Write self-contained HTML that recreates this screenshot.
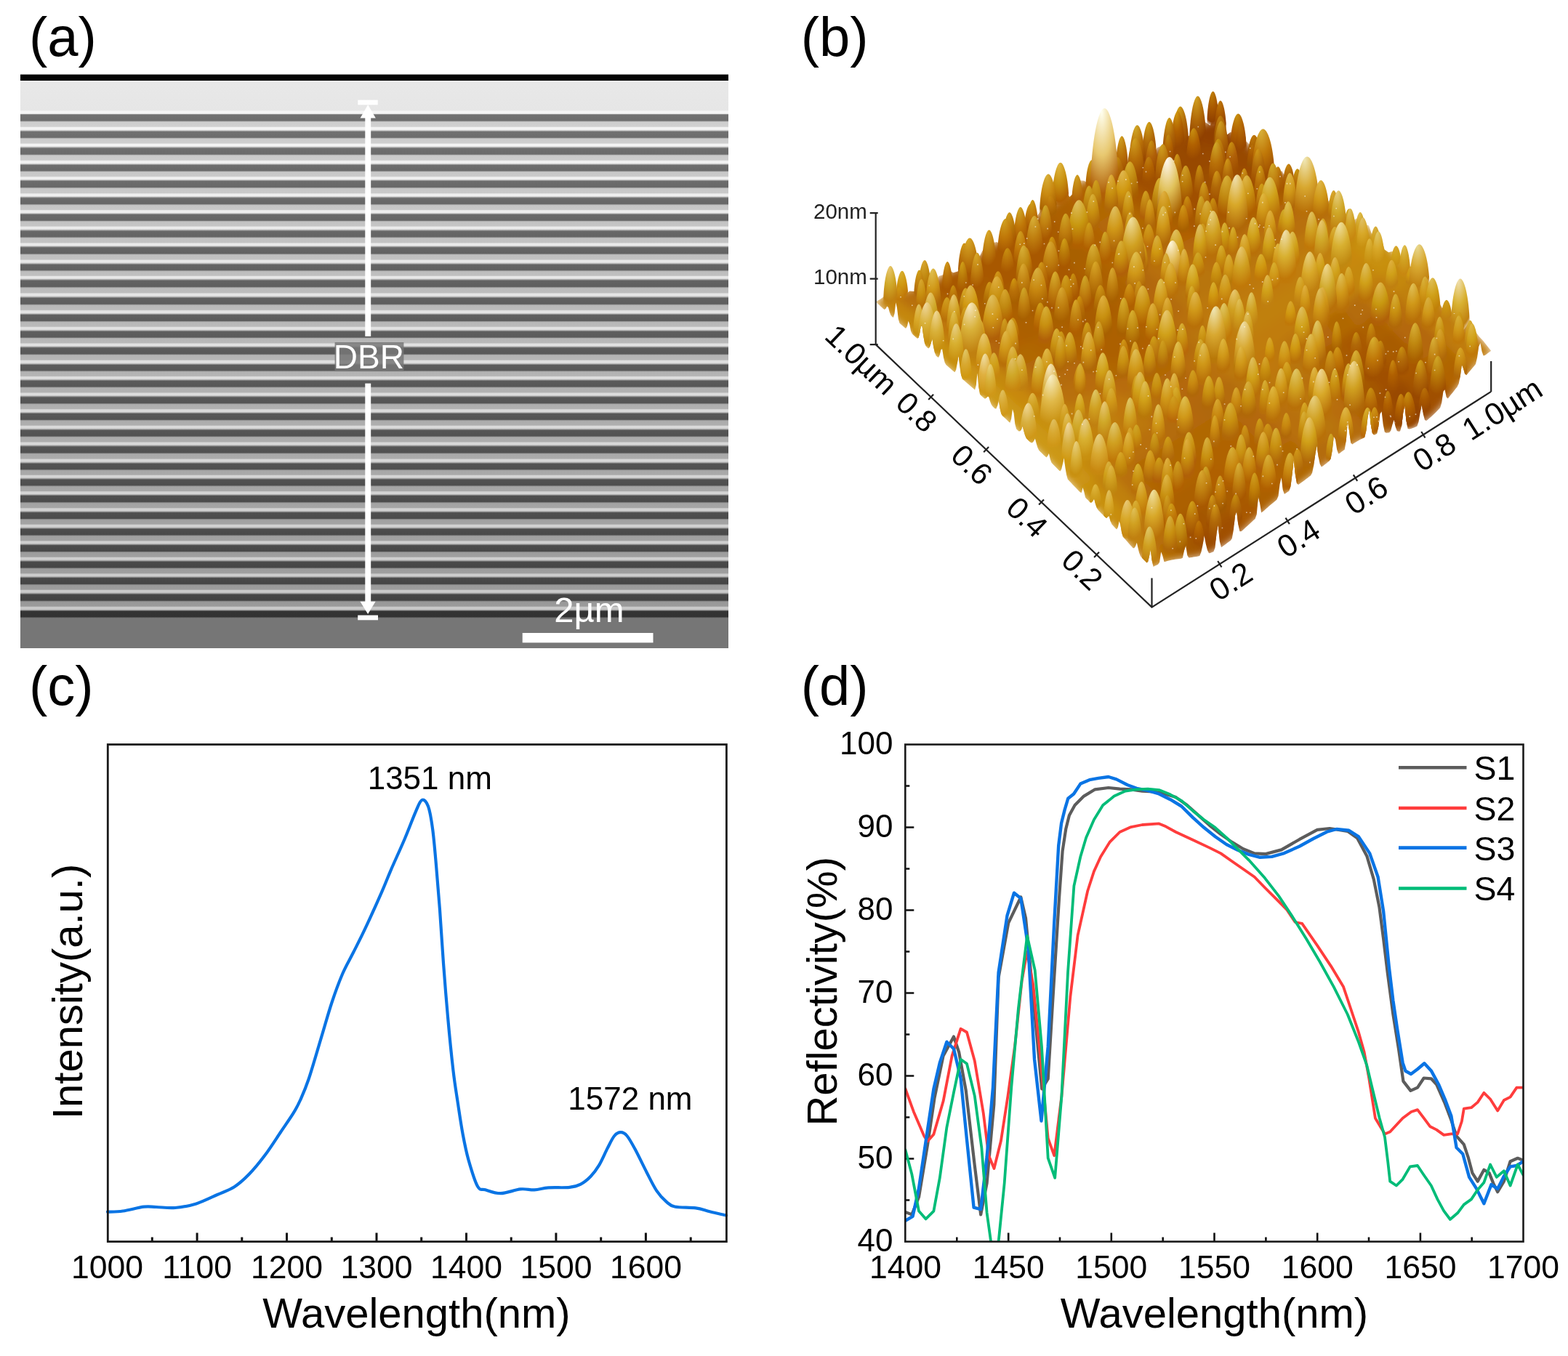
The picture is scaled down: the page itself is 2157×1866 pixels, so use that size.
<!DOCTYPE html>
<html><head><meta charset="utf-8"><title>Figure</title>
<style>html,body{margin:0;padding:0;background:#fff;}svg{display:block;}</style>
</head><body>
<svg xmlns="http://www.w3.org/2000/svg" width="2157" height="1866" viewBox="0 0 2157 1866">
<rect width="2157" height="1866" fill="#fff"/>
<defs>
<linearGradient id="capg" x1="0" y1="0" x2="0" y2="1">
<stop offset="0" stop-color="#f2f2f2"/><stop offset="0.06" stop-color="#e8e8e8"/><stop offset="0.86" stop-color="#e6e6e6"/><stop offset="0.9" stop-color="#f6f6f6"/><stop offset="1" stop-color="#f2f2f2"/>
</linearGradient>
<clipPath id="afmclip"><path d="M1204.7,415.3 1206.4,416.9 1208.2,418.5 1209.9,420.1 1211.6,421.7 1213.3,423.3 1215.1,424.9 1216.8,426 1218.5,424.8 1220.2,421.5 1222,423 1223.7,429.4 1225.4,433.7 1227.1,435.7 1228.9,437.1 1230.6,431.2 1232.3,416.2 1234,423.8 1235.8,439.1 1237.5,444.7 1239.2,446.2 1241,447.7 1242.7,449.2 1244.4,450.7 1246.1,451.9 1247.9,449.1 1249.6,441.7 1251.3,446.5 1253,455.5 1254.8,459.6 1256.5,461.1 1258.2,462.6 1259.9,464.2 1261.7,465.7 1263.4,465 1265.1,459 1266.8,448.6 1268.6,448.9 1270.3,462.8 1272,472.3 1273.8,476.6 1275.5,478.2 1277.2,479.5 1278.9,477.5 1280.7,472.2 1282.4,465.8 1284.1,476.9 1285.8,484.9 1287.6,489.5 1289.3,491.1 1291,492 1292.7,488.4 1294.5,480.7 1296.2,480.3 1297.9,491.7 1299.7,499.1 1301.4,501.9 1303.1,503.5 1304.8,505 1306.6,506.5 1308.3,508 1310,509.5 1311.7,511 1313.5,512.3 1315.2,508.7 1316.9,499.7 1318.6,489.3 1320.4,505.2 1322.1,516.1 1323.8,521.4 1325.5,522.9 1327.3,524.4 1329,525.9 1330.7,527.4 1332.5,528.9 1334.2,530.4 1335.9,531.9 1337.6,533.5 1339.4,535 1341.1,536.4 1342.8,529.9 1344.5,513.5 1346.3,532.3 1348,542.5 1349.7,544.4 1351.4,546 1353.2,547.6 1354.9,548.7 1356.6,548.1 1358.3,546 1360.1,545.8 1361.8,551.8 1363.5,556.3 1365.3,559 1367,560.7 1368.7,562.3 1370.4,562.5 1372.2,558.1 1373.9,551.2 1375.6,562.3 1377.3,569.5 1379.1,572.2 1380.8,573.8 1382.5,575.5 1384.2,577.1 1386,578.8 1387.7,580.4 1389.4,581.8 1391.1,576.4 1392.9,563.1 1394.6,568.5 1396.3,583.5 1398.1,590.3 1399.8,591.9 1401.5,593.5 1403.2,593.3 1405,590.9 1406.7,586.6 1408.4,593.2 1410.1,599.3 1411.9,603.2 1413.6,605.1 1415.3,606.7 1417,608.3 1418.8,609.6 1420.5,609 1422.2,606.7 1423.9,603.6 1425.7,610.6 1427.4,616 1429.1,619.6 1430.9,621.5 1432.6,623.1 1434.3,624.8 1436,626.4 1437.8,628.1 1439.5,629.4 1441.2,627.5 1442.9,624 1444.7,631.7 1446.4,636.5 1448.1,638.4 1449.8,640.2 1451.6,641.9 1453.3,643.7 1455,645.4 1456.7,647.2 1458.5,648.5 1460.2,645.5 1461.9,638.4 1463.7,629.5 1465.4,643.4 1467.1,653.5 1468.8,659.5 1470.6,661.5 1472.3,663.3 1474,665.1 1475.7,666.9 1477.5,668.7 1479.2,670.5 1480.9,672.3 1482.6,674.1 1484.4,675.9 1486.1,677.6 1487.8,677.9 1489.5,671 1491.3,676.8 1493,684.5 1494.7,686.4 1496.5,688.1 1498.2,689.9 1499.9,691.5 1501.6,691.4 1503.4,689.4 1505.1,686.3 1506.8,693.1 1508.5,698.3 1510.3,701.6 1512,703.3 1513.7,705 1515.4,706.7 1517.2,708.5 1518.9,710.3 1520.6,712.1 1522.4,712.9 1524.1,710.8 1525.8,710.3 1527.5,717.1 1529.3,721.3 1531,723.2 1532.7,725.1 1534.4,727 1536.2,728.6 1537.9,725.5 1539.6,717.3 1541.3,721.9 1543.1,732.9 1544.8,738.7 1546.5,740.6 1548.2,742.6 1550,744.5 1551.7,746.5 1553.4,748.4 1555.2,750.4 1556.9,752.3 1558.6,754.2 1560.3,754.2 1562.1,751.6 1563.8,746.7 1565.5,754.2 1567.2,761 1569,765.4 1570.7,767.4 1572.4,769.2 1574.1,771 1575.9,772.8 1577.6,774.5 1579.3,772.8 1581,765.5 1582.8,756.3 1584.5,770.8 1586.6,780 1588.7,778.8 1590.9,777.7 1593,776.7 1595.1,773.7 1597.2,759.5 1599.3,764.7 1601.5,773.2 1603.6,772.7 1605.7,772.1 1607.8,771.6 1610,771.1 1612.1,770.6 1614.2,770.2 1616.3,769.8 1618.4,769.5 1620.6,769.2 1622.7,768.9 1624.8,768.7 1626.9,767.8 1629,757.8 1631.2,750.5 1633.3,764.2 1635.4,767.4 1637.5,767.2 1639.7,766.9 1641.8,766.6 1643.9,766.3 1646,766 1648.1,765.6 1650.3,764.9 1652.4,759.8 1654.5,750.3 1656.6,736.9 1658.7,748.2 1660.9,756.9 1663,761.2 1665.1,761 1667.2,760.1 1669.4,759.2 1671.5,753.8 1673.6,733.5 1675.7,721.9 1677.8,744.7 1680,753.2 1682.1,751.7 1684.2,750.3 1686.3,748.7 1688.4,747.1 1690.6,745.5 1692.7,743.9 1694.8,741 1696.9,729.3 1699.1,709.2 1701.2,704 1703.3,721.7 1705.4,731.2 1707.5,731.3 1709.7,729.4 1711.8,727.5 1713.9,725.6 1716,723.7 1718.1,721.7 1720.3,719.7 1722.4,717.8 1724.5,715.8 1726.6,713.9 1728.8,707.8 1730.9,682.9 1733,692.1 1735.1,705.6 1737.2,704.1 1739.4,702.2 1741.5,700.3 1743.6,698.4 1745.7,696.6 1747.8,694.8 1750,693 1752.1,691.2 1754.2,689.5 1756.3,687.8 1758.5,682.7 1760.6,665.9 1762.7,657.3 1764.8,674.3 1766.9,679.9 1769.1,678.5 1771.2,677.1 1773.3,675.7 1775.4,669.5 1777.5,653.2 1779.7,632.1 1781.8,652.8 1783.9,665 1786,667 1788.2,665.5 1790.3,664 1792.4,662.4 1794.5,660.9 1796.6,659.3 1798.8,657.7 1800.9,656.1 1803,654.4 1805.1,650.8 1807.2,640.6 1809.4,625 1811.5,613 1813.6,628.3 1815.7,638.4 1817.8,642.6 1820,641.2 1822.1,639.6 1824.2,637.9 1826.3,636.3 1828.5,634.6 1830.6,631.6 1832.7,620.1 1834.8,601 1836.9,604.5 1839.1,618.6 1841.2,624.6 1843.3,623.4 1845.4,621.8 1847.5,620.3 1849.7,618.7 1851.8,606.3 1853.9,579.8 1856,592.7 1858.2,609.5 1860.3,611.5 1862.4,610.1 1864.5,608.7 1866.6,607.4 1868.8,606.2 1870.9,605.1 1873,604.1 1875.1,603.1 1877.2,602 1879.4,592.7 1881.5,574.4 1883.6,563.5 1885.7,584.1 1887.9,596.2 1890,598.5 1892.1,598 1894.2,596.7 1896.3,587.1 1898.5,569.5 1900.6,566.2 1902.7,584.2 1904.8,594.4 1906.9,595.8 1909.1,595.6 1911.2,595.3 1913.3,592.4 1915.4,584.5 1917.6,577.7 1919.7,587.6 1921.8,593.1 1923.9,593.7 1926,593.4 1928.2,586 1930.3,567.3 1932.4,557.8 1934.5,579.1 1936.6,590.1 1938.8,590.6 1940.9,589.9 1943,589.2 1945.1,588.4 1947.3,587.5 1949.4,586.5 1951.5,580.6 1953.6,568.5 1955.7,556.9 1957.9,570.3 1960,578 1962.1,579 1964.2,577.4 1966.3,575.6 1968.5,573.8 1970.6,571.8 1972.7,569.8 1974.8,567.7 1977,565.5 1979.1,563.2 1981.2,560.9 1983.3,553.9 1985.4,538.6 1987.6,536.1 1989.7,546.4 1991.8,548.4 1993.9,545.8 1996,543.1 1998.2,540.5 2000.3,537.8 2002.4,535.1 2004.5,532.4 2006.7,528.1 2008.8,517.7 2010.9,501.8 2013,507 2015.1,514.6 2017.3,516.3 2019.4,513.7 2021.5,511.2 2023.6,508.7 2025.7,506.2 2027.9,503.8 2030,500.9 2032.1,492 2034.2,477.3 2036.4,471.9 2038.5,483.5 2040.6,489.5 2042.7,489.1 2044.8,487.4 2047,485.7 2049.1,484.2 2051.2,482.8 2045.8,475.9 2040.3,469.1 2034.9,463.2 2029.5,456.1 2024.1,454 2018.6,446.4 2013.2,454.4 2007.8,443.1 2002.4,431.2 1996.9,430.4 1991.5,421.8 1986.1,428.1 1980.7,417.9 1975.2,416 1969.8,406.4 1964.4,400.4 1959,402.8 1953.5,394 1948.1,387 1942.7,371.7 1937.3,367.8 1931.8,370.4 1926.4,355.1 1921,358.6 1915.6,345.8 1910.1,347.2 1904.7,343.5 1899.3,325.6 1893.9,330.3 1888.4,325.7 1883,310.6 1877.6,308.5 1872.2,313.5 1866.7,300.4 1861.3,303.3 1855.9,298 1850.4,301.6 1845,287.4 1839.6,287.3 1834.2,279.3 1828.7,275.9 1823.3,279.7 1817.9,273.9 1812.5,272.5 1807,269.1 1801.6,266.9 1796.2,260.4 1790.8,253.2 1785.3,259.1 1779.9,246.6 1774.5,248.6 1769.1,246 1763.6,235.3 1758.2,236.4 1752.8,234.6 1747.4,227.3 1741.9,219.1 1736.5,223.7 1731.1,205.8 1725.7,215.1 1720.2,200.3 1714.8,194.7 1709.4,202.4 1704,187.1 1698.5,188.9 1693.1,181.6 1687.7,185.4 1682.3,180.2 1676.8,173.5 1671.4,157.2 1664.7,172.4 1658.1,168.2 1651.4,169.6 1644.7,173.1 1638.1,185.4 1631.4,188.9 1624.7,190 1618.1,189.9 1611.4,203.2 1604.7,197.5 1598.1,200.6 1591.4,203.5 1584.7,219.4 1578.1,210.4 1571.4,226.7 1564.7,226.5 1558.1,225.5 1551.4,223.6 1544.7,234.3 1538.1,227.9 1531.4,235.4 1524.7,240.8 1518.1,242.9 1511.4,247.2 1504.7,251.2 1498.1,253.1 1491.4,248.7 1484.7,248.2 1478.1,264.6 1471.4,270.9 1464.7,262.1 1458.1,273.6 1451.4,280.5 1444.7,288.2 1438,288.2 1431.4,290 1424.7,300.6 1418,306.1 1411.4,316.4 1404.7,308.7 1398,326.1 1391.4,323.8 1384.7,323.1 1378,337.6 1371.4,333.1 1364.7,334.2 1358,343 1351.4,345 1344.7,359.1 1338,358.6 1331.4,367 1324.7,361.1 1318,373.3 1311.4,375.3 1304.7,371.6 1298,378 1291.4,380 1284.7,390.7 1278,392.8 1271.4,391.3 1264.7,396.7 1258,400.9 1251.4,400.6 1244.7,405.6 1238,403.8 1231.4,396.6 1224.7,399.1 1218,406.5 1211.4,411.4Z"/></clipPath>
<clipPath id="afmclip2"><path d="M1204.7,415.3 1206.4,416.9 1208.2,418.5 1209.9,420.1 1211.6,421.7 1213.3,423.3 1215.1,424.9 1216.8,426 1218.5,424.8 1220.2,421.5 1222,423 1223.7,429.4 1225.4,433.7 1227.1,435.7 1228.9,437.1 1230.6,431.2 1232.3,416.2 1234,423.8 1235.8,439.1 1237.5,444.7 1239.2,446.2 1241,447.7 1242.7,449.2 1244.4,450.7 1246.1,451.9 1247.9,449.1 1249.6,441.7 1251.3,446.5 1253,455.5 1254.8,459.6 1256.5,461.1 1258.2,462.6 1259.9,464.2 1261.7,465.7 1263.4,465 1265.1,459 1266.8,448.6 1268.6,448.9 1270.3,462.8 1272,472.3 1273.8,476.6 1275.5,478.2 1277.2,479.5 1278.9,477.5 1280.7,472.2 1282.4,465.8 1284.1,476.9 1285.8,484.9 1287.6,489.5 1289.3,491.1 1291,492 1292.7,488.4 1294.5,480.7 1296.2,480.3 1297.9,491.7 1299.7,499.1 1301.4,501.9 1303.1,503.5 1304.8,505 1306.6,506.5 1308.3,508 1310,509.5 1311.7,511 1313.5,512.3 1315.2,508.7 1316.9,499.7 1318.6,489.3 1320.4,505.2 1322.1,516.1 1323.8,521.4 1325.5,522.9 1327.3,524.4 1329,525.9 1330.7,527.4 1332.5,528.9 1334.2,530.4 1335.9,531.9 1337.6,533.5 1339.4,535 1341.1,536.4 1342.8,529.9 1344.5,513.5 1346.3,532.3 1348,542.5 1349.7,544.4 1351.4,546 1353.2,547.6 1354.9,548.7 1356.6,548.1 1358.3,546 1360.1,545.8 1361.8,551.8 1363.5,556.3 1365.3,559 1367,560.7 1368.7,562.3 1370.4,562.5 1372.2,558.1 1373.9,551.2 1375.6,562.3 1377.3,569.5 1379.1,572.2 1380.8,573.8 1382.5,575.5 1384.2,577.1 1386,578.8 1387.7,580.4 1389.4,581.8 1391.1,576.4 1392.9,563.1 1394.6,568.5 1396.3,583.5 1398.1,590.3 1399.8,591.9 1401.5,593.5 1403.2,593.3 1405,590.9 1406.7,586.6 1408.4,593.2 1410.1,599.3 1411.9,603.2 1413.6,605.1 1415.3,606.7 1417,608.3 1418.8,609.6 1420.5,609 1422.2,606.7 1423.9,603.6 1425.7,610.6 1427.4,616 1429.1,619.6 1430.9,621.5 1432.6,623.1 1434.3,624.8 1436,626.4 1437.8,628.1 1439.5,629.4 1441.2,627.5 1442.9,624 1444.7,631.7 1446.4,636.5 1448.1,638.4 1449.8,640.2 1451.6,641.9 1453.3,643.7 1455,645.4 1456.7,647.2 1458.5,648.5 1460.2,645.5 1461.9,638.4 1463.7,629.5 1465.4,643.4 1467.1,653.5 1468.8,659.5 1470.6,661.5 1472.3,663.3 1474,665.1 1475.7,666.9 1477.5,668.7 1479.2,670.5 1480.9,672.3 1482.6,674.1 1484.4,675.9 1486.1,677.6 1487.8,677.9 1489.5,671 1491.3,676.8 1493,684.5 1494.7,686.4 1496.5,688.1 1498.2,689.9 1499.9,691.5 1501.6,691.4 1503.4,689.4 1505.1,686.3 1506.8,693.1 1508.5,698.3 1510.3,701.6 1512,703.3 1513.7,705 1515.4,706.7 1517.2,708.5 1518.9,710.3 1520.6,712.1 1522.4,712.9 1524.1,710.8 1525.8,710.3 1527.5,717.1 1529.3,721.3 1531,723.2 1532.7,725.1 1534.4,727 1536.2,728.6 1537.9,725.5 1539.6,717.3 1541.3,721.9 1543.1,732.9 1544.8,738.7 1546.5,740.6 1548.2,742.6 1550,744.5 1551.7,746.5 1553.4,748.4 1555.2,750.4 1556.9,752.3 1558.6,754.2 1560.3,754.2 1562.1,751.6 1563.8,746.7 1565.5,754.2 1567.2,761 1569,765.4 1570.7,767.4 1572.4,769.2 1574.1,771 1575.9,772.8 1577.6,774.5 1579.3,772.8 1581,765.5 1582.8,756.3 1584.5,770.8 1586.6,780 1588.7,778.8 1590.9,777.7 1593,776.7 1595.1,773.7 1597.2,759.5 1599.3,764.7 1601.5,773.2 1603.6,772.7 1605.7,772.1 1607.8,771.6 1610,771.1 1612.1,770.6 1614.2,770.2 1616.3,769.8 1618.4,769.5 1620.6,769.2 1622.7,768.9 1624.8,768.7 1626.9,767.8 1629,757.8 1631.2,750.5 1633.3,764.2 1635.4,767.4 1637.5,767.2 1639.7,766.9 1641.8,766.6 1643.9,766.3 1646,766 1648.1,765.6 1650.3,764.9 1652.4,759.8 1654.5,750.3 1656.6,736.9 1658.7,748.2 1660.9,756.9 1663,761.2 1665.1,761 1667.2,760.1 1669.4,759.2 1671.5,753.8 1673.6,733.5 1675.7,721.9 1677.8,744.7 1680,753.2 1682.1,751.7 1684.2,750.3 1686.3,748.7 1688.4,747.1 1690.6,745.5 1692.7,743.9 1694.8,741 1696.9,729.3 1699.1,709.2 1701.2,704 1703.3,721.7 1705.4,731.2 1707.5,731.3 1709.7,729.4 1711.8,727.5 1713.9,725.6 1716,723.7 1718.1,721.7 1720.3,719.7 1722.4,717.8 1724.5,715.8 1726.6,713.9 1728.8,707.8 1730.9,682.9 1733,692.1 1735.1,705.6 1737.2,704.1 1739.4,702.2 1741.5,700.3 1743.6,698.4 1745.7,696.6 1747.8,694.8 1750,693 1752.1,691.2 1754.2,689.5 1756.3,687.8 1758.5,682.7 1760.6,665.9 1762.7,657.3 1764.8,674.3 1766.9,679.9 1769.1,678.5 1771.2,677.1 1773.3,675.7 1775.4,669.5 1777.5,653.2 1779.7,632.1 1781.8,652.8 1783.9,665 1786,667 1788.2,665.5 1790.3,664 1792.4,662.4 1794.5,660.9 1796.6,659.3 1798.8,657.7 1800.9,656.1 1803,654.4 1805.1,650.8 1807.2,640.6 1809.4,625 1811.5,613 1813.6,628.3 1815.7,638.4 1817.8,642.6 1820,641.2 1822.1,639.6 1824.2,637.9 1826.3,636.3 1828.5,634.6 1830.6,631.6 1832.7,620.1 1834.8,601 1836.9,604.5 1839.1,618.6 1841.2,624.6 1843.3,623.4 1845.4,621.8 1847.5,620.3 1849.7,618.7 1851.8,606.3 1853.9,579.8 1856,592.7 1858.2,609.5 1860.3,611.5 1862.4,610.1 1864.5,608.7 1866.6,607.4 1868.8,606.2 1870.9,605.1 1873,604.1 1875.1,603.1 1877.2,602 1879.4,592.7 1881.5,574.4 1883.6,563.5 1885.7,584.1 1887.9,596.2 1890,598.5 1892.1,598 1894.2,596.7 1896.3,587.1 1898.5,569.5 1900.6,566.2 1902.7,584.2 1904.8,594.4 1906.9,595.8 1909.1,595.6 1911.2,595.3 1913.3,592.4 1915.4,584.5 1917.6,577.7 1919.7,587.6 1921.8,593.1 1923.9,593.7 1926,593.4 1928.2,586 1930.3,567.3 1932.4,557.8 1934.5,579.1 1936.6,590.1 1938.8,590.6 1940.9,589.9 1943,589.2 1945.1,588.4 1947.3,587.5 1949.4,586.5 1951.5,580.6 1953.6,568.5 1955.7,556.9 1957.9,570.3 1960,578 1962.1,579 1964.2,577.4 1966.3,575.6 1968.5,573.8 1970.6,571.8 1972.7,569.8 1974.8,567.7 1977,565.5 1979.1,563.2 1981.2,560.9 1983.3,553.9 1985.4,538.6 1987.6,536.1 1989.7,546.4 1991.8,548.4 1993.9,545.8 1996,543.1 1998.2,540.5 2000.3,537.8 2002.4,535.1 2004.5,532.4 2006.7,528.1 2008.8,517.7 2010.9,501.8 2013,507 2015.1,514.6 2017.3,516.3 2019.4,513.7 2021.5,511.2 2023.6,508.7 2025.7,506.2 2027.9,503.8 2030,500.9 2032.1,492 2034.2,477.3 2036.4,471.9 2038.5,483.5 2040.6,489.5 2042.7,489.1 2044.8,487.4 2047,485.7 2049.1,484.2 2051.2,482.8 2110,482.8 2110,60 1190,60 1190,415.3Z"/></clipPath>
<filter id="fblur" x="-5%" y="-5%" width="110%" height="110%"><feGaussianBlur stdDeviation="6"/></filter>
<radialGradient id="g0" cx=".42" cy=".08" r="1" fx=".4" fy=".04"><stop offset="0" stop-color="#e0c868"/><stop offset=".45" stop-color="#d0a020"/><stop offset=".84" stop-color="#c08010"/><stop offset="1" stop-color="#c08010" stop-opacity="0"/></radialGradient>
<radialGradient id="g1" cx=".42" cy=".08" r="1" fx=".4" fy=".04"><stop offset="0" stop-color="#d8b040"/><stop offset=".45" stop-color="#c89010"/><stop offset=".84" stop-color="#b06808"/><stop offset="1" stop-color="#b06808" stop-opacity="0"/></radialGradient>
<radialGradient id="g2" cx=".42" cy=".08" r="1" fx=".4" fy=".04"><stop offset="0" stop-color="#d8b030"/><stop offset=".45" stop-color="#c08810"/><stop offset=".84" stop-color="#a86000"/><stop offset="1" stop-color="#a86000" stop-opacity="0"/></radialGradient>
<radialGradient id="g3" cx=".42" cy=".08" r="1" fx=".4" fy=".04"><stop offset="0" stop-color="#c07808"/><stop offset=".45" stop-color="#b06000"/><stop offset=".84" stop-color="#a05000"/><stop offset="1" stop-color="#a05000" stop-opacity="0"/></radialGradient>
<radialGradient id="g4" cx=".42" cy=".08" r="1" fx=".4" fy=".04"><stop offset="0" stop-color="#d09818"/><stop offset=".45" stop-color="#b06808"/><stop offset=".84" stop-color="#a05000"/><stop offset="1" stop-color="#a05000" stop-opacity="0"/></radialGradient>
<radialGradient id="g5" cx=".42" cy=".08" r="1" fx=".4" fy=".04"><stop offset="0" stop-color="#c89010"/><stop offset=".45" stop-color="#b06808"/><stop offset=".84" stop-color="#a05000"/><stop offset="1" stop-color="#a05000" stop-opacity="0"/></radialGradient>
<radialGradient id="g6" cx=".42" cy=".08" r="1" fx=".4" fy=".04"><stop offset="0" stop-color="#d0a020"/><stop offset=".45" stop-color="#c08008"/><stop offset=".84" stop-color="#a86000"/><stop offset="1" stop-color="#a86000" stop-opacity="0"/></radialGradient>
<radialGradient id="g7" cx=".42" cy=".08" r="1" fx=".4" fy=".04"><stop offset="0" stop-color="#d8b038"/><stop offset=".45" stop-color="#c88810"/><stop offset=".84" stop-color="#b06000"/><stop offset="1" stop-color="#b06000" stop-opacity="0"/></radialGradient>
<radialGradient id="g8" cx=".42" cy=".08" r="1" fx=".4" fy=".04"><stop offset="0" stop-color="#d09818"/><stop offset=".45" stop-color="#c08010"/><stop offset=".84" stop-color="#b06808"/><stop offset="1" stop-color="#b06808" stop-opacity="0"/></radialGradient>
<radialGradient id="g9" cx=".42" cy=".08" r="1" fx=".4" fy=".04"><stop offset="0" stop-color="#e8c870"/><stop offset=".45" stop-color="#d0a018"/><stop offset=".84" stop-color="#b06808"/><stop offset="1" stop-color="#b06808" stop-opacity="0"/></radialGradient>
<radialGradient id="g10" cx=".42" cy=".08" r="1" fx=".4" fy=".04"><stop offset="0" stop-color="#d0a828"/><stop offset=".45" stop-color="#c89010"/><stop offset=".84" stop-color="#b87008"/><stop offset="1" stop-color="#b87008" stop-opacity="0"/></radialGradient>
<radialGradient id="g11" cx=".42" cy=".08" r="1" fx=".4" fy=".04"><stop offset="0" stop-color="#e0b848"/><stop offset=".45" stop-color="#d09818"/><stop offset=".84" stop-color="#b87008"/><stop offset="1" stop-color="#b87008" stop-opacity="0"/></radialGradient>
<radialGradient id="g12" cx=".42" cy=".08" r="1" fx=".4" fy=".04"><stop offset="0" stop-color="#d8b030"/><stop offset=".45" stop-color="#c89010"/><stop offset=".84" stop-color="#b86808"/><stop offset="1" stop-color="#b86808" stop-opacity="0"/></radialGradient>
<radialGradient id="g13" cx=".42" cy=".08" r="1" fx=".4" fy=".04"><stop offset="0" stop-color="#d09818"/><stop offset=".45" stop-color="#c07808"/><stop offset=".84" stop-color="#b06000"/><stop offset="1" stop-color="#b06000" stop-opacity="0"/></radialGradient>
<radialGradient id="g14" cx=".42" cy=".08" r="1" fx=".4" fy=".04"><stop offset="0" stop-color="#c88810"/><stop offset=".45" stop-color="#b06000"/><stop offset=".84" stop-color="#984800"/><stop offset="1" stop-color="#984800" stop-opacity="0"/></radialGradient>
<radialGradient id="g15" cx=".42" cy=".08" r="1" fx=".4" fy=".04"><stop offset="0" stop-color="#c89010"/><stop offset=".45" stop-color="#b06000"/><stop offset=".84" stop-color="#984800"/><stop offset="1" stop-color="#984800" stop-opacity="0"/></radialGradient>
<radialGradient id="g16" cx=".42" cy=".08" r="1" fx=".4" fy=".04"><stop offset="0" stop-color="#b87008"/><stop offset=".45" stop-color="#a85800"/><stop offset=".84" stop-color="#984800"/><stop offset="1" stop-color="#984800" stop-opacity="0"/></radialGradient>
<radialGradient id="g17" cx=".42" cy=".08" r="1" fx=".4" fy=".04"><stop offset="0" stop-color="#d0a828"/><stop offset=".45" stop-color="#b87808"/><stop offset=".84" stop-color="#a05000"/><stop offset="1" stop-color="#a05000" stop-opacity="0"/></radialGradient>
<radialGradient id="g18" cx=".42" cy=".08" r="1" fx=".4" fy=".04"><stop offset="0" stop-color="#d8a828"/><stop offset=".45" stop-color="#c88810"/><stop offset=".84" stop-color="#b06808"/><stop offset="1" stop-color="#b06808" stop-opacity="0"/></radialGradient>
<radialGradient id="g19" cx=".42" cy=".08" r="1" fx=".4" fy=".04"><stop offset="0" stop-color="#e0b848"/><stop offset=".45" stop-color="#d0a018"/><stop offset=".84" stop-color="#c07808"/><stop offset="1" stop-color="#c07808" stop-opacity="0"/></radialGradient>
<radialGradient id="g20" cx=".42" cy=".08" r="1" fx=".4" fy=".04"><stop offset="0" stop-color="#e0c058"/><stop offset=".45" stop-color="#d0a020"/><stop offset=".84" stop-color="#c08010"/><stop offset="1" stop-color="#c08010" stop-opacity="0"/></radialGradient>
<radialGradient id="g21" cx=".42" cy=".08" r="1" fx=".4" fy=".04"><stop offset="0" stop-color="#f0e0a0"/><stop offset=".45" stop-color="#d8a828"/><stop offset=".84" stop-color="#b87008"/><stop offset="1" stop-color="#b87008" stop-opacity="0"/></radialGradient>
<radialGradient id="g22" cx=".42" cy=".08" r="1" fx=".4" fy=".04"><stop offset="0" stop-color="#d0a018"/><stop offset=".45" stop-color="#c07808"/><stop offset=".84" stop-color="#b06000"/><stop offset="1" stop-color="#b06000" stop-opacity="0"/></radialGradient>
<radialGradient id="g23" cx=".42" cy=".08" r="1" fx=".4" fy=".04"><stop offset="0" stop-color="#d0a018"/><stop offset=".45" stop-color="#b87008"/><stop offset=".84" stop-color="#a05000"/><stop offset="1" stop-color="#a05000" stop-opacity="0"/></radialGradient>
<radialGradient id="g24" cx=".42" cy=".08" r="1" fx=".4" fy=".04"><stop offset="0" stop-color="#d0a028"/><stop offset=".45" stop-color="#c07808"/><stop offset=".84" stop-color="#a05800"/><stop offset="1" stop-color="#a05800" stop-opacity="0"/></radialGradient>
<radialGradient id="g25" cx=".42" cy=".08" r="1" fx=".4" fy=".04"><stop offset="0" stop-color="#d8b038"/><stop offset=".45" stop-color="#c08010"/><stop offset=".84" stop-color="#a85800"/><stop offset="1" stop-color="#a85800" stop-opacity="0"/></radialGradient>
<radialGradient id="g26" cx=".42" cy=".08" r="1" fx=".4" fy=".04"><stop offset="0" stop-color="#e0b040"/><stop offset=".45" stop-color="#c89010"/><stop offset=".84" stop-color="#b06008"/><stop offset="1" stop-color="#b06008" stop-opacity="0"/></radialGradient>
<radialGradient id="g27" cx=".42" cy=".08" r="1" fx=".4" fy=".04"><stop offset="0" stop-color="#d8b038"/><stop offset=".45" stop-color="#c89010"/><stop offset=".84" stop-color="#b06808"/><stop offset="1" stop-color="#b06808" stop-opacity="0"/></radialGradient>
<radialGradient id="g28" cx=".42" cy=".08" r="1" fx=".4" fy=".04"><stop offset="0" stop-color="#d8b038"/><stop offset=".45" stop-color="#c89010"/><stop offset=".84" stop-color="#b87008"/><stop offset="1" stop-color="#b87008" stop-opacity="0"/></radialGradient>
<radialGradient id="g29" cx=".42" cy=".08" r="1" fx=".4" fy=".04"><stop offset="0" stop-color="#e8d080"/><stop offset=".45" stop-color="#d0a020"/><stop offset=".84" stop-color="#b87008"/><stop offset="1" stop-color="#b87008" stop-opacity="0"/></radialGradient>
<radialGradient id="g30" cx=".42" cy=".08" r="1" fx=".4" fy=".04"><stop offset="0" stop-color="#f0d890"/><stop offset=".45" stop-color="#d0a020"/><stop offset=".84" stop-color="#b06808"/><stop offset="1" stop-color="#b06808" stop-opacity="0"/></radialGradient>
<radialGradient id="g31" cx=".42" cy=".08" r="1" fx=".4" fy=".04"><stop offset="0" stop-color="#c89010"/><stop offset=".45" stop-color="#b87008"/><stop offset=".84" stop-color="#a85800"/><stop offset="1" stop-color="#a85800" stop-opacity="0"/></radialGradient>
<radialGradient id="g32" cx=".42" cy=".08" r="1" fx=".4" fy=".04"><stop offset="0" stop-color="#c08010"/><stop offset=".45" stop-color="#b06000"/><stop offset=".84" stop-color="#a05000"/><stop offset="1" stop-color="#a05000" stop-opacity="0"/></radialGradient>
<radialGradient id="g33" cx=".42" cy=".08" r="1" fx=".4" fy=".04"><stop offset="0" stop-color="#d0a018"/><stop offset=".45" stop-color="#b06808"/><stop offset=".84" stop-color="#984800"/><stop offset="1" stop-color="#984800" stop-opacity="0"/></radialGradient>
<radialGradient id="g34" cx=".42" cy=".08" r="1" fx=".4" fy=".04"><stop offset="0" stop-color="#d8a830"/><stop offset=".45" stop-color="#c88810"/><stop offset=".84" stop-color="#b06808"/><stop offset="1" stop-color="#b06808" stop-opacity="0"/></radialGradient>
<radialGradient id="g35" cx=".42" cy=".08" r="1" fx=".4" fy=".04"><stop offset="0" stop-color="#d8b038"/><stop offset=".45" stop-color="#d09818"/><stop offset=".84" stop-color="#c07808"/><stop offset="1" stop-color="#c07808" stop-opacity="0"/></radialGradient>
<radialGradient id="g36" cx=".42" cy=".08" r="1" fx=".4" fy=".04"><stop offset="0" stop-color="#e8c878"/><stop offset=".45" stop-color="#d8a828"/><stop offset=".84" stop-color="#c88810"/><stop offset="1" stop-color="#c88810" stop-opacity="0"/></radialGradient>
<radialGradient id="g37" cx=".42" cy=".08" r="1" fx=".4" fy=".04"><stop offset="0" stop-color="#d8b038"/><stop offset=".45" stop-color="#d09818"/><stop offset=".84" stop-color="#c08010"/><stop offset="1" stop-color="#c08010" stop-opacity="0"/></radialGradient>
<radialGradient id="g38" cx=".42" cy=".08" r="1" fx=".4" fy=".04"><stop offset="0" stop-color="#d0a020"/><stop offset=".45" stop-color="#c08010"/><stop offset=".84" stop-color="#b06000"/><stop offset="1" stop-color="#b06000" stop-opacity="0"/></radialGradient>
<radialGradient id="g39" cx=".42" cy=".08" r="1" fx=".4" fy=".04"><stop offset="0" stop-color="#e0b848"/><stop offset=".45" stop-color="#c89010"/><stop offset=".84" stop-color="#b06000"/><stop offset="1" stop-color="#b06000" stop-opacity="0"/></radialGradient>
<radialGradient id="g40" cx=".42" cy=".08" r="1" fx=".4" fy=".04"><stop offset="0" stop-color="#d8a830"/><stop offset=".45" stop-color="#c08010"/><stop offset=".84" stop-color="#a85800"/><stop offset="1" stop-color="#a85800" stop-opacity="0"/></radialGradient>
<radialGradient id="g41" cx=".42" cy=".08" r="1" fx=".4" fy=".04"><stop offset="0" stop-color="#d0a828"/><stop offset=".45" stop-color="#c08010"/><stop offset=".84" stop-color="#a86000"/><stop offset="1" stop-color="#a86000" stop-opacity="0"/></radialGradient>
<radialGradient id="g42" cx=".42" cy=".08" r="1" fx=".4" fy=".04"><stop offset="0" stop-color="#d8b038"/><stop offset=".45" stop-color="#c89010"/><stop offset=".84" stop-color="#b06008"/><stop offset="1" stop-color="#b06008" stop-opacity="0"/></radialGradient>
<radialGradient id="g43" cx=".42" cy=".08" r="1" fx=".4" fy=".04"><stop offset="0" stop-color="#d0a020"/><stop offset=".45" stop-color="#c88810"/><stop offset=".84" stop-color="#b06808"/><stop offset="1" stop-color="#b06808" stop-opacity="0"/></radialGradient>
<radialGradient id="g44" cx=".42" cy=".08" r="1" fx=".4" fy=".04"><stop offset="0" stop-color="#d8a828"/><stop offset=".45" stop-color="#c89010"/><stop offset=".84" stop-color="#b87008"/><stop offset="1" stop-color="#b87008" stop-opacity="0"/></radialGradient>
<radialGradient id="g45" cx=".42" cy=".08" r="1" fx=".4" fy=".04"><stop offset="0" stop-color="#f0d898"/><stop offset=".45" stop-color="#d8a828"/><stop offset=".84" stop-color="#b87008"/><stop offset="1" stop-color="#b87008" stop-opacity="0"/></radialGradient>
<radialGradient id="g46" cx=".42" cy=".08" r="1" fx=".4" fy=".04"><stop offset="0" stop-color="#c88810"/><stop offset=".45" stop-color="#b06000"/><stop offset=".84" stop-color="#a05000"/><stop offset="1" stop-color="#a05000" stop-opacity="0"/></radialGradient>
<radialGradient id="g47" cx=".42" cy=".08" r="1" fx=".4" fy=".04"><stop offset="0" stop-color="#d8b038"/><stop offset=".45" stop-color="#c08810"/><stop offset=".84" stop-color="#a86000"/><stop offset="1" stop-color="#a86000" stop-opacity="0"/></radialGradient>
<radialGradient id="g48" cx=".42" cy=".08" r="1" fx=".4" fy=".04"><stop offset="0" stop-color="#f0e0b0"/><stop offset=".45" stop-color="#d8b030"/><stop offset=".84" stop-color="#c08010"/><stop offset="1" stop-color="#c08010" stop-opacity="0"/></radialGradient>
<radialGradient id="g49" cx=".42" cy=".08" r="1" fx=".4" fy=".04"><stop offset="0" stop-color="#e0c060"/><stop offset=".45" stop-color="#d8a828"/><stop offset=".84" stop-color="#c89010"/><stop offset="1" stop-color="#c89010" stop-opacity="0"/></radialGradient>
<radialGradient id="g50" cx=".42" cy=".08" r="1" fx=".4" fy=".04"><stop offset="0" stop-color="#e0b848"/><stop offset=".45" stop-color="#d09818"/><stop offset=".84" stop-color="#c07808"/><stop offset="1" stop-color="#c07808" stop-opacity="0"/></radialGradient>
<radialGradient id="g51" cx=".42" cy=".08" r="1" fx=".4" fy=".04"><stop offset="0" stop-color="#e0b040"/><stop offset=".45" stop-color="#c89010"/><stop offset=".84" stop-color="#b06000"/><stop offset="1" stop-color="#b06000" stop-opacity="0"/></radialGradient>
<radialGradient id="g52" cx=".42" cy=".08" r="1" fx=".4" fy=".04"><stop offset="0" stop-color="#d8b040"/><stop offset=".45" stop-color="#c89010"/><stop offset=".84" stop-color="#b06000"/><stop offset="1" stop-color="#b06000" stop-opacity="0"/></radialGradient>
<radialGradient id="g53" cx=".42" cy=".08" r="1" fx=".4" fy=".04"><stop offset="0" stop-color="#d0a018"/><stop offset=".45" stop-color="#c08010"/><stop offset=".84" stop-color="#b06808"/><stop offset="1" stop-color="#b06808" stop-opacity="0"/></radialGradient>
<radialGradient id="g54" cx=".42" cy=".08" r="1" fx=".4" fy=".04"><stop offset="0" stop-color="#e0b840"/><stop offset=".45" stop-color="#d09818"/><stop offset=".84" stop-color="#b87008"/><stop offset="1" stop-color="#b87008" stop-opacity="0"/></radialGradient>
<radialGradient id="g55" cx=".42" cy=".08" r="1" fx=".4" fy=".04"><stop offset="0" stop-color="#e0c868"/><stop offset=".45" stop-color="#d0a020"/><stop offset=".84" stop-color="#b87008"/><stop offset="1" stop-color="#b87008" stop-opacity="0"/></radialGradient>
<radialGradient id="g56" cx=".42" cy=".08" r="1" fx=".4" fy=".04"><stop offset="0" stop-color="#e0b848"/><stop offset=".45" stop-color="#d09818"/><stop offset=".84" stop-color="#b87808"/><stop offset="1" stop-color="#b87808" stop-opacity="0"/></radialGradient>
<radialGradient id="g57" cx=".42" cy=".08" r="1" fx=".4" fy=".04"><stop offset="0" stop-color="#d8b030"/><stop offset=".45" stop-color="#c07808"/><stop offset=".84" stop-color="#a05000"/><stop offset="1" stop-color="#a05000" stop-opacity="0"/></radialGradient>
<radialGradient id="g58" cx=".42" cy=".08" r="1" fx=".4" fy=".04"><stop offset="0" stop-color="#d8b040"/><stop offset=".45" stop-color="#d09818"/><stop offset=".84" stop-color="#b87008"/><stop offset="1" stop-color="#b87008" stop-opacity="0"/></radialGradient>
<radialGradient id="g59" cx=".42" cy=".08" r="1" fx=".4" fy=".04"><stop offset="0" stop-color="#e0c058"/><stop offset=".45" stop-color="#d0a018"/><stop offset=".84" stop-color="#c08008"/><stop offset="1" stop-color="#c08008" stop-opacity="0"/></radialGradient>
<radialGradient id="g60" cx=".42" cy=".08" r="1" fx=".4" fy=".04"><stop offset="0" stop-color="#e0b840"/><stop offset=".45" stop-color="#d0a020"/><stop offset=".84" stop-color="#c89010"/><stop offset="1" stop-color="#c89010" stop-opacity="0"/></radialGradient>
<radialGradient id="g61" cx=".42" cy=".08" r="1" fx=".4" fy=".04"><stop offset="0" stop-color="#e0b848"/><stop offset=".45" stop-color="#d0a020"/><stop offset=".84" stop-color="#c08810"/><stop offset="1" stop-color="#c08810" stop-opacity="0"/></radialGradient>
<radialGradient id="g62" cx=".42" cy=".08" r="1" fx=".4" fy=".04"><stop offset="0" stop-color="#d8b030"/><stop offset=".45" stop-color="#c89010"/><stop offset=".84" stop-color="#b87008"/><stop offset="1" stop-color="#b87008" stop-opacity="0"/></radialGradient>
<radialGradient id="g63" cx=".42" cy=".08" r="1" fx=".4" fy=".04"><stop offset="0" stop-color="#d0a018"/><stop offset=".45" stop-color="#c08010"/><stop offset=".84" stop-color="#b06008"/><stop offset="1" stop-color="#b06008" stop-opacity="0"/></radialGradient>
<radialGradient id="g64" cx=".42" cy=".08" r="1" fx=".4" fy=".04"><stop offset="0" stop-color="#e0c058"/><stop offset=".45" stop-color="#d09818"/><stop offset=".84" stop-color="#b87008"/><stop offset="1" stop-color="#b87008" stop-opacity="0"/></radialGradient>
<radialGradient id="g65" cx=".42" cy=".08" r="1" fx=".4" fy=".04"><stop offset="0" stop-color="#d8a828"/><stop offset=".45" stop-color="#c89010"/><stop offset=".84" stop-color="#b87808"/><stop offset="1" stop-color="#b87808" stop-opacity="0"/></radialGradient>
<radialGradient id="g66" cx=".42" cy=".08" r="1" fx=".4" fy=".04"><stop offset="0" stop-color="#d0a020"/><stop offset=".45" stop-color="#c08010"/><stop offset=".84" stop-color="#b06808"/><stop offset="1" stop-color="#b06808" stop-opacity="0"/></radialGradient>
<radialGradient id="g67" cx=".42" cy=".08" r="1" fx=".4" fy=".04"><stop offset="0" stop-color="#c89010"/><stop offset=".45" stop-color="#b06808"/><stop offset=".84" stop-color="#a85800"/><stop offset="1" stop-color="#a85800" stop-opacity="0"/></radialGradient>
<radialGradient id="g68" cx=".42" cy=".08" r="1" fx=".4" fy=".04"><stop offset="0" stop-color="#d8b040"/><stop offset=".45" stop-color="#d09818"/><stop offset=".84" stop-color="#c08008"/><stop offset="1" stop-color="#c08008" stop-opacity="0"/></radialGradient>
<radialGradient id="g69" cx=".42" cy=".08" r="1" fx=".4" fy=".04"><stop offset="0" stop-color="#d8b040"/><stop offset=".45" stop-color="#d0a018"/><stop offset=".84" stop-color="#c08810"/><stop offset="1" stop-color="#c08810" stop-opacity="0"/></radialGradient>
<radialGradient id="g70" cx=".42" cy=".08" r="1" fx=".4" fy=".04"><stop offset="0" stop-color="#d0a020"/><stop offset=".45" stop-color="#c08810"/><stop offset=".84" stop-color="#b06808"/><stop offset="1" stop-color="#b06808" stop-opacity="0"/></radialGradient>
<radialGradient id="g71" cx=".42" cy=".08" r="1" fx=".4" fy=".04"><stop offset="0" stop-color="#e0c050"/><stop offset=".45" stop-color="#d09818"/><stop offset=".84" stop-color="#b06808"/><stop offset="1" stop-color="#b06808" stop-opacity="0"/></radialGradient>
<radialGradient id="g72" cx=".42" cy=".08" r="1" fx=".4" fy=".04"><stop offset="0" stop-color="#e0c060"/><stop offset=".45" stop-color="#d0a018"/><stop offset=".84" stop-color="#b87008"/><stop offset="1" stop-color="#b87008" stop-opacity="0"/></radialGradient>
<radialGradient id="g73" cx=".42" cy=".08" r="1" fx=".4" fy=".04"><stop offset="0" stop-color="#d8a830"/><stop offset=".45" stop-color="#c89010"/><stop offset=".84" stop-color="#b87808"/><stop offset="1" stop-color="#b87808" stop-opacity="0"/></radialGradient>
<radialGradient id="g74" cx=".42" cy=".08" r="1" fx=".4" fy=".04"><stop offset="0" stop-color="#d8b038"/><stop offset=".45" stop-color="#d09810"/><stop offset=".84" stop-color="#b87008"/><stop offset="1" stop-color="#b87008" stop-opacity="0"/></radialGradient>
<radialGradient id="g75" cx=".42" cy=".08" r="1" fx=".4" fy=".04"><stop offset="0" stop-color="#e0c868"/><stop offset=".45" stop-color="#d09818"/><stop offset=".84" stop-color="#b06808"/><stop offset="1" stop-color="#b06808" stop-opacity="0"/></radialGradient>
<radialGradient id="g76" cx=".42" cy=".08" r="1" fx=".4" fy=".04"><stop offset="0" stop-color="#e0b850"/><stop offset=".45" stop-color="#c89810"/><stop offset=".84" stop-color="#b06008"/><stop offset="1" stop-color="#b06008" stop-opacity="0"/></radialGradient>
<radialGradient id="g77" cx=".42" cy=".08" r="1" fx=".4" fy=".04"><stop offset="0" stop-color="#e8d890"/><stop offset=".45" stop-color="#d8a830"/><stop offset=".84" stop-color="#c08010"/><stop offset="1" stop-color="#c08010" stop-opacity="0"/></radialGradient>
<radialGradient id="g78" cx=".42" cy=".08" r="1" fx=".4" fy=".04"><stop offset="0" stop-color="#e8d080"/><stop offset=".45" stop-color="#d8b038"/><stop offset=".84" stop-color="#c89010"/><stop offset="1" stop-color="#c89010" stop-opacity="0"/></radialGradient>
<radialGradient id="g79" cx=".42" cy=".08" r="1" fx=".4" fy=".04"><stop offset="0" stop-color="#e8d080"/><stop offset=".45" stop-color="#d8a830"/><stop offset=".84" stop-color="#c88810"/><stop offset="1" stop-color="#c88810" stop-opacity="0"/></radialGradient>
<radialGradient id="g80" cx=".42" cy=".08" r="1" fx=".4" fy=".04"><stop offset="0" stop-color="#e0c870"/><stop offset=".45" stop-color="#d0a020"/><stop offset=".84" stop-color="#c07808"/><stop offset="1" stop-color="#c07808" stop-opacity="0"/></radialGradient>
<radialGradient id="g81" cx=".42" cy=".08" r="1" fx=".4" fy=".04"><stop offset="0" stop-color="#d8a830"/><stop offset=".45" stop-color="#c89010"/><stop offset=".84" stop-color="#b87008"/><stop offset="1" stop-color="#b87008" stop-opacity="0"/></radialGradient>
<radialGradient id="g82" cx=".42" cy=".08" r="1" fx=".4" fy=".04"><stop offset="0" stop-color="#d0a020"/><stop offset=".45" stop-color="#c88810"/><stop offset=".84" stop-color="#b86808"/><stop offset="1" stop-color="#b86808" stop-opacity="0"/></radialGradient>
<radialGradient id="g83" cx=".42" cy=".08" r="1" fx=".4" fy=".04"><stop offset="0" stop-color="#d8b030"/><stop offset=".45" stop-color="#c89010"/><stop offset=".84" stop-color="#b06808"/><stop offset="1" stop-color="#b06808" stop-opacity="0"/></radialGradient>
<radialGradient id="g84" cx=".42" cy=".08" r="1" fx=".4" fy=".04"><stop offset="0" stop-color="#d8a830"/><stop offset=".45" stop-color="#c89010"/><stop offset=".84" stop-color="#b06808"/><stop offset="1" stop-color="#b06808" stop-opacity="0"/></radialGradient>
<radialGradient id="g85" cx=".42" cy=".08" r="1" fx=".4" fy=".04"><stop offset="0" stop-color="#f0e0a8"/><stop offset=".45" stop-color="#d8a830"/><stop offset=".84" stop-color="#b87808"/><stop offset="1" stop-color="#b87808" stop-opacity="0"/></radialGradient>
<radialGradient id="g86" cx=".42" cy=".08" r="1" fx=".4" fy=".04"><stop offset="0" stop-color="#d8a830"/><stop offset=".45" stop-color="#d09810"/><stop offset=".84" stop-color="#c07808"/><stop offset="1" stop-color="#c07808" stop-opacity="0"/></radialGradient>
<radialGradient id="g87" cx=".42" cy=".08" r="1" fx=".4" fy=".04"><stop offset="0" stop-color="#e0c060"/><stop offset=".45" stop-color="#d09818"/><stop offset=".84" stop-color="#b87008"/><stop offset="1" stop-color="#b87008" stop-opacity="0"/></radialGradient>
<radialGradient id="g88" cx=".42" cy=".08" r="1" fx=".4" fy=".04"><stop offset="0" stop-color="#e0b850"/><stop offset=".45" stop-color="#d09818"/><stop offset=".84" stop-color="#b87008"/><stop offset="1" stop-color="#b87008" stop-opacity="0"/></radialGradient>
<radialGradient id="g89" cx=".42" cy=".08" r="1" fx=".4" fy=".04"><stop offset="0" stop-color="#e0b040"/><stop offset=".45" stop-color="#d0a018"/><stop offset=".84" stop-color="#c08010"/><stop offset="1" stop-color="#c08010" stop-opacity="0"/></radialGradient>
<radialGradient id="g90" cx=".42" cy=".08" r="1" fx=".4" fy=".04"><stop offset="0" stop-color="#e0c050"/><stop offset=".45" stop-color="#d0a020"/><stop offset=".84" stop-color="#c88810"/><stop offset="1" stop-color="#c88810" stop-opacity="0"/></radialGradient>
<radialGradient id="g91" cx=".42" cy=".08" r="1" fx=".4" fy=".04"><stop offset="0" stop-color="#f0d8a0"/><stop offset=".45" stop-color="#d8b040"/><stop offset=".84" stop-color="#d09810"/><stop offset="1" stop-color="#d09810" stop-opacity="0"/></radialGradient>
<radialGradient id="g92" cx=".42" cy=".08" r="1" fx=".4" fy=".04"><stop offset="0" stop-color="#e8d090"/><stop offset=".45" stop-color="#d8b030"/><stop offset=".84" stop-color="#c89010"/><stop offset="1" stop-color="#c89010" stop-opacity="0"/></radialGradient>
<radialGradient id="g93" cx=".42" cy=".08" r="1" fx=".4" fy=".04"><stop offset="0" stop-color="#e8c878"/><stop offset=".45" stop-color="#d0a828"/><stop offset=".84" stop-color="#c08010"/><stop offset="1" stop-color="#c08010" stop-opacity="0"/></radialGradient>
<radialGradient id="g94" cx=".42" cy=".08" r="1" fx=".4" fy=".04"><stop offset="0" stop-color="#e0c868"/><stop offset=".45" stop-color="#d0a020"/><stop offset=".84" stop-color="#c07808"/><stop offset="1" stop-color="#c07808" stop-opacity="0"/></radialGradient>
<radialGradient id="g95" cx=".42" cy=".08" r="1" fx=".4" fy=".04"><stop offset="0" stop-color="#e0c058"/><stop offset=".45" stop-color="#d0a018"/><stop offset=".84" stop-color="#b87808"/><stop offset="1" stop-color="#b87808" stop-opacity="0"/></radialGradient>
<radialGradient id="g96" cx=".42" cy=".08" r="1" fx=".4" fy=".04"><stop offset="0" stop-color="#e0b850"/><stop offset=".45" stop-color="#d09818"/><stop offset=".84" stop-color="#b86808"/><stop offset="1" stop-color="#b86808" stop-opacity="0"/></radialGradient>
<radialGradient id="g97" cx=".42" cy=".08" r="1" fx=".4" fy=".04"><stop offset="0" stop-color="#d8a830"/><stop offset=".45" stop-color="#d09818"/><stop offset=".84" stop-color="#c07808"/><stop offset="1" stop-color="#c07808" stop-opacity="0"/></radialGradient>
<radialGradient id="g98" cx=".42" cy=".08" r="1" fx=".4" fy=".04"><stop offset="0" stop-color="#e0c060"/><stop offset=".45" stop-color="#d0a020"/><stop offset=".84" stop-color="#c08010"/><stop offset="1" stop-color="#c08010" stop-opacity="0"/></radialGradient>
<radialGradient id="g99" cx=".42" cy=".08" r="1" fx=".4" fy=".04"><stop offset="0" stop-color="#e0b040"/><stop offset=".45" stop-color="#d09818"/><stop offset=".84" stop-color="#c07808"/><stop offset="1" stop-color="#c07808" stop-opacity="0"/></radialGradient>
<radialGradient id="g100" cx=".42" cy=".08" r="1" fx=".4" fy=".04"><stop offset="0" stop-color="#f0d890"/><stop offset=".45" stop-color="#d0a828"/><stop offset=".84" stop-color="#b87008"/><stop offset="1" stop-color="#b87008" stop-opacity="0"/></radialGradient>
<radialGradient id="g101" cx=".42" cy=".08" r="1" fx=".4" fy=".04"><stop offset="0" stop-color="#e0b850"/><stop offset=".45" stop-color="#d0a018"/><stop offset=".84" stop-color="#c08010"/><stop offset="1" stop-color="#c08010" stop-opacity="0"/></radialGradient>
<radialGradient id="g102" cx=".42" cy=".08" r="1" fx=".4" fy=".04"><stop offset="0" stop-color="#e0c868"/><stop offset=".45" stop-color="#d8a828"/><stop offset=".84" stop-color="#c89010"/><stop offset="1" stop-color="#c89010" stop-opacity="0"/></radialGradient>
<radialGradient id="g103" cx=".42" cy=".08" r="1" fx=".4" fy=".04"><stop offset="0" stop-color="#e0c060"/><stop offset=".45" stop-color="#d8a830"/><stop offset=".84" stop-color="#d09818"/><stop offset="1" stop-color="#d09818" stop-opacity="0"/></radialGradient>
<radialGradient id="g104" cx=".42" cy=".08" r="1" fx=".4" fy=".04"><stop offset="0" stop-color="#e0c060"/><stop offset=".45" stop-color="#d0a828"/><stop offset=".84" stop-color="#c89010"/><stop offset="1" stop-color="#c89010" stop-opacity="0"/></radialGradient>
<radialGradient id="g105" cx=".42" cy=".08" r="1" fx=".4" fy=".04"><stop offset="0" stop-color="#e0c060"/><stop offset=".45" stop-color="#d0a018"/><stop offset=".84" stop-color="#c07808"/><stop offset="1" stop-color="#c07808" stop-opacity="0"/></radialGradient>
<radialGradient id="g106" cx=".42" cy=".08" r="1" fx=".4" fy=".04"><stop offset="0" stop-color="#d0a028"/><stop offset=".45" stop-color="#c89010"/><stop offset=".84" stop-color="#b87008"/><stop offset="1" stop-color="#b87008" stop-opacity="0"/></radialGradient>
<radialGradient id="g107" cx=".42" cy=".08" r="1" fx=".4" fy=".04"><stop offset="0" stop-color="#f0e8b8"/><stop offset=".45" stop-color="#d8a830"/><stop offset=".84" stop-color="#b87808"/><stop offset="1" stop-color="#b87808" stop-opacity="0"/></radialGradient>
<radialGradient id="g108" cx=".42" cy=".08" r="1" fx=".4" fy=".04"><stop offset="0" stop-color="#e8d080"/><stop offset=".45" stop-color="#d8a828"/><stop offset=".84" stop-color="#c08010"/><stop offset="1" stop-color="#c08010" stop-opacity="0"/></radialGradient>
<radialGradient id="g109" cx=".42" cy=".08" r="1" fx=".4" fy=".04"><stop offset="0" stop-color="#f0e0a0"/><stop offset=".45" stop-color="#d8b030"/><stop offset=".84" stop-color="#c08810"/><stop offset="1" stop-color="#c08810" stop-opacity="0"/></radialGradient>
<radialGradient id="g110" cx=".42" cy=".08" r="1" fx=".4" fy=".04"><stop offset="0" stop-color="#e0c068"/><stop offset=".45" stop-color="#d8a828"/><stop offset=".84" stop-color="#c89010"/><stop offset="1" stop-color="#c89010" stop-opacity="0"/></radialGradient>
<radialGradient id="g111" cx=".42" cy=".08" r="1" fx=".4" fy=".04"><stop offset="0" stop-color="#f0d898"/><stop offset=".45" stop-color="#d8b040"/><stop offset=".84" stop-color="#d09818"/><stop offset="1" stop-color="#d09818" stop-opacity="0"/></radialGradient>
<radialGradient id="g112" cx=".42" cy=".08" r="1" fx=".4" fy=".04"><stop offset="0" stop-color="#f8f0c8"/><stop offset=".45" stop-color="#e0b848"/><stop offset=".84" stop-color="#c89010"/><stop offset="1" stop-color="#c89010" stop-opacity="0"/></radialGradient>
<radialGradient id="g113" cx=".42" cy=".08" r="1" fx=".4" fy=".04"><stop offset="0" stop-color="#e0b040"/><stop offset=".45" stop-color="#d0a020"/><stop offset=".84" stop-color="#c89010"/><stop offset="1" stop-color="#c89010" stop-opacity="0"/></radialGradient>
<radialGradient id="g114" cx=".42" cy=".08" r="1" fx=".4" fy=".04"><stop offset="0" stop-color="#e0b840"/><stop offset=".45" stop-color="#d0a018"/><stop offset=".84" stop-color="#c08010"/><stop offset="1" stop-color="#c08010" stop-opacity="0"/></radialGradient>
<radialGradient id="g115" cx=".42" cy=".08" r="1" fx=".4" fy=".04"><stop offset="0" stop-color="#e0c060"/><stop offset=".45" stop-color="#d0a020"/><stop offset=".84" stop-color="#c07808"/><stop offset="1" stop-color="#c07808" stop-opacity="0"/></radialGradient>
<radialGradient id="g116" cx=".42" cy=".08" r="1" fx=".4" fy=".04"><stop offset="0" stop-color="#d8b038"/><stop offset=".45" stop-color="#c89010"/><stop offset=".84" stop-color="#b86808"/><stop offset="1" stop-color="#b86808" stop-opacity="0"/></radialGradient>
<radialGradient id="g117" cx=".42" cy=".08" r="1" fx=".4" fy=".04"><stop offset="0" stop-color="#e8c870"/><stop offset=".45" stop-color="#d0a020"/><stop offset=".84" stop-color="#c08010"/><stop offset="1" stop-color="#c08010" stop-opacity="0"/></radialGradient>
<radialGradient id="g118" cx=".42" cy=".08" r="1" fx=".4" fy=".04"><stop offset="0" stop-color="#d8b030"/><stop offset=".45" stop-color="#d09818"/><stop offset=".84" stop-color="#c07808"/><stop offset="1" stop-color="#c07808" stop-opacity="0"/></radialGradient>
<radialGradient id="g119" cx=".42" cy=".08" r="1" fx=".4" fy=".04"><stop offset="0" stop-color="#f0e0b0"/><stop offset=".45" stop-color="#d8b030"/><stop offset=".84" stop-color="#c07808"/><stop offset="1" stop-color="#c07808" stop-opacity="0"/></radialGradient>
<radialGradient id="g120" cx=".42" cy=".08" r="1" fx=".4" fy=".04"><stop offset="0" stop-color="#e8c870"/><stop offset=".45" stop-color="#d0a828"/><stop offset=".84" stop-color="#c08010"/><stop offset="1" stop-color="#c08010" stop-opacity="0"/></radialGradient>
<radialGradient id="g121" cx=".42" cy=".08" r="1" fx=".4" fy=".04"><stop offset="0" stop-color="#e0c060"/><stop offset=".45" stop-color="#d0a020"/><stop offset=".84" stop-color="#c88810"/><stop offset="1" stop-color="#c88810" stop-opacity="0"/></radialGradient>
<radialGradient id="g122" cx=".42" cy=".08" r="1" fx=".4" fy=".04"><stop offset="0" stop-color="#e0b848"/><stop offset=".45" stop-color="#d0a020"/><stop offset=".84" stop-color="#c89010"/><stop offset="1" stop-color="#c89010" stop-opacity="0"/></radialGradient>
<radialGradient id="g123" cx=".42" cy=".08" r="1" fx=".4" fy=".04"><stop offset="0" stop-color="#f8e8c0"/><stop offset=".45" stop-color="#d8b040"/><stop offset=".84" stop-color="#c88810"/><stop offset="1" stop-color="#c88810" stop-opacity="0"/></radialGradient>
<radialGradient id="g124" cx=".42" cy=".08" r="1" fx=".4" fy=".04"><stop offset="0" stop-color="#d8b038"/><stop offset=".45" stop-color="#d09818"/><stop offset=".84" stop-color="#b87008"/><stop offset="1" stop-color="#b87008" stop-opacity="0"/></radialGradient>
<radialGradient id="g125" cx=".42" cy=".08" r="1" fx=".4" fy=".04"><stop offset="0" stop-color="#e0c058"/><stop offset=".45" stop-color="#d0a018"/><stop offset=".84" stop-color="#b87008"/><stop offset="1" stop-color="#b87008" stop-opacity="0"/></radialGradient>
<radialGradient id="g126" cx=".42" cy=".08" r="1" fx=".4" fy=".04"><stop offset="0" stop-color="#d8b030"/><stop offset=".45" stop-color="#d09810"/><stop offset=".84" stop-color="#c07808"/><stop offset="1" stop-color="#c07808" stop-opacity="0"/></radialGradient>
<radialGradient id="g127" cx=".42" cy=".08" r="1" fx=".4" fy=".04"><stop offset="0" stop-color="#d8b040"/><stop offset=".45" stop-color="#d09818"/><stop offset=".84" stop-color="#c07808"/><stop offset="1" stop-color="#c07808" stop-opacity="0"/></radialGradient>
<radialGradient id="g128" cx=".42" cy=".08" r="1" fx=".4" fy=".04"><stop offset="0" stop-color="#e8c870"/><stop offset=".45" stop-color="#d0a020"/><stop offset=".84" stop-color="#c07808"/><stop offset="1" stop-color="#c07808" stop-opacity="0"/></radialGradient>
<radialGradient id="g129" cx=".42" cy=".08" r="1" fx=".4" fy=".04"><stop offset="0" stop-color="#e0b840"/><stop offset=".45" stop-color="#d09818"/><stop offset=".84" stop-color="#c07808"/><stop offset="1" stop-color="#c07808" stop-opacity="0"/></radialGradient>
<radialGradient id="g130" cx=".42" cy=".08" r="1" fx=".4" fy=".04"><stop offset="0" stop-color="#e0c058"/><stop offset=".45" stop-color="#d0a018"/><stop offset=".84" stop-color="#c07808"/><stop offset="1" stop-color="#c07808" stop-opacity="0"/></radialGradient>
<radialGradient id="g131" cx=".42" cy=".08" r="1" fx=".4" fy=".04"><stop offset="0" stop-color="#e8d080"/><stop offset=".45" stop-color="#d0a828"/><stop offset=".84" stop-color="#c08010"/><stop offset="1" stop-color="#c08010" stop-opacity="0"/></radialGradient>
<radialGradient id="g132" cx=".42" cy=".08" r="1" fx=".4" fy=".04"><stop offset="0" stop-color="#d0a020"/><stop offset=".45" stop-color="#c88810"/><stop offset=".84" stop-color="#b87008"/><stop offset="1" stop-color="#b87008" stop-opacity="0"/></radialGradient>
<radialGradient id="g133" cx=".42" cy=".08" r="1" fx=".4" fy=".04"><stop offset="0" stop-color="#e0b850"/><stop offset=".45" stop-color="#d09818"/><stop offset=".84" stop-color="#b06808"/><stop offset="1" stop-color="#b06808" stop-opacity="0"/></radialGradient>
<radialGradient id="g134" cx=".42" cy=".08" r="1" fx=".4" fy=".04"><stop offset="0" stop-color="#e0b040"/><stop offset=".45" stop-color="#c89010"/><stop offset=".84" stop-color="#b06808"/><stop offset="1" stop-color="#b06808" stop-opacity="0"/></radialGradient>
<radialGradient id="g135" cx=".42" cy=".08" r="1" fx=".4" fy=".04"><stop offset="0" stop-color="#e0c050"/><stop offset=".45" stop-color="#d0a018"/><stop offset=".84" stop-color="#b87008"/><stop offset="1" stop-color="#b87008" stop-opacity="0"/></radialGradient>
<radialGradient id="g136" cx=".42" cy=".08" r="1" fx=".4" fy=".04"><stop offset="0" stop-color="#d8b038"/><stop offset=".45" stop-color="#d09818"/><stop offset=".84" stop-color="#b87808"/><stop offset="1" stop-color="#b87808" stop-opacity="0"/></radialGradient>
<radialGradient id="g137" cx=".42" cy=".08" r="1" fx=".4" fy=".04"><stop offset="0" stop-color="#e0b850"/><stop offset=".45" stop-color="#d0a018"/><stop offset=".84" stop-color="#b87808"/><stop offset="1" stop-color="#b87808" stop-opacity="0"/></radialGradient>
<radialGradient id="g138" cx=".42" cy=".08" r="1" fx=".4" fy=".04"><stop offset="0" stop-color="#d0a020"/><stop offset=".45" stop-color="#c89010"/><stop offset=".84" stop-color="#b87008"/><stop offset="1" stop-color="#b87008" stop-opacity="0"/></radialGradient>
<radialGradient id="g139" cx=".42" cy=".08" r="1" fx=".4" fy=".04"><stop offset="0" stop-color="#e8d078"/><stop offset=".45" stop-color="#d8b038"/><stop offset=".84" stop-color="#d09818"/><stop offset="1" stop-color="#d09818" stop-opacity="0"/></radialGradient>
<radialGradient id="g140" cx=".42" cy=".08" r="1" fx=".4" fy=".04"><stop offset="0" stop-color="#e0c068"/><stop offset=".45" stop-color="#d0a828"/><stop offset=".84" stop-color="#c88810"/><stop offset="1" stop-color="#c88810" stop-opacity="0"/></radialGradient>
<radialGradient id="g141" cx=".42" cy=".08" r="1" fx=".4" fy=".04"><stop offset="0" stop-color="#e0c068"/><stop offset=".45" stop-color="#d0a020"/><stop offset=".84" stop-color="#c08010"/><stop offset="1" stop-color="#c08010" stop-opacity="0"/></radialGradient>
<radialGradient id="g142" cx=".42" cy=".08" r="1" fx=".4" fy=".04"><stop offset="0" stop-color="#d8a830"/><stop offset=".45" stop-color="#c08810"/><stop offset=".84" stop-color="#b06000"/><stop offset="1" stop-color="#b06000" stop-opacity="0"/></radialGradient>
<radialGradient id="g143" cx=".42" cy=".08" r="1" fx=".4" fy=".04"><stop offset="0" stop-color="#e0b040"/><stop offset=".45" stop-color="#d09818"/><stop offset=".84" stop-color="#b87008"/><stop offset="1" stop-color="#b87008" stop-opacity="0"/></radialGradient>
<radialGradient id="g144" cx=".42" cy=".08" r="1" fx=".4" fy=".04"><stop offset="0" stop-color="#f0e8b8"/><stop offset=".45" stop-color="#d8a830"/><stop offset=".84" stop-color="#b87008"/><stop offset="1" stop-color="#b87008" stop-opacity="0"/></radialGradient>
<radialGradient id="g145" cx=".42" cy=".08" r="1" fx=".4" fy=".04"><stop offset="0" stop-color="#f0e0a8"/><stop offset=".45" stop-color="#e0b040"/><stop offset=".84" stop-color="#d09818"/><stop offset="1" stop-color="#d09818" stop-opacity="0"/></radialGradient>
<radialGradient id="g146" cx=".42" cy=".08" r="1" fx=".4" fy=".04"><stop offset="0" stop-color="#d8b040"/><stop offset=".45" stop-color="#d0a018"/><stop offset=".84" stop-color="#c88810"/><stop offset="1" stop-color="#c88810" stop-opacity="0"/></radialGradient>
<radialGradient id="g147" cx=".42" cy=".08" r="1" fx=".4" fy=".04"><stop offset="0" stop-color="#d0a018"/><stop offset=".45" stop-color="#c08010"/><stop offset=".84" stop-color="#b06000"/><stop offset="1" stop-color="#b06000" stop-opacity="0"/></radialGradient>
<radialGradient id="g148" cx=".42" cy=".08" r="1" fx=".4" fy=".04"><stop offset="0" stop-color="#e0b040"/><stop offset=".45" stop-color="#c89010"/><stop offset=".84" stop-color="#a86000"/><stop offset="1" stop-color="#a86000" stop-opacity="0"/></radialGradient>
<radialGradient id="g149" cx=".42" cy=".08" r="1" fx=".4" fy=".04"><stop offset="0" stop-color="#e0c068"/><stop offset=".45" stop-color="#d0a018"/><stop offset=".84" stop-color="#b87008"/><stop offset="1" stop-color="#b87008" stop-opacity="0"/></radialGradient>
<radialGradient id="g150" cx=".42" cy=".08" r="1" fx=".4" fy=".04"><stop offset="0" stop-color="#d8b038"/><stop offset=".45" stop-color="#c89810"/><stop offset=".84" stop-color="#b87008"/><stop offset="1" stop-color="#b87008" stop-opacity="0"/></radialGradient>
<radialGradient id="g151" cx=".42" cy=".08" r="1" fx=".4" fy=".04"><stop offset="0" stop-color="#f0e0b0"/><stop offset=".45" stop-color="#d8a828"/><stop offset=".84" stop-color="#b06808"/><stop offset="1" stop-color="#b06808" stop-opacity="0"/></radialGradient>
<radialGradient id="g152" cx=".42" cy=".08" r="1" fx=".4" fy=".04"><stop offset="0" stop-color="#e0c868"/><stop offset=".45" stop-color="#d0a018"/><stop offset=".84" stop-color="#b87008"/><stop offset="1" stop-color="#b87008" stop-opacity="0"/></radialGradient>
<radialGradient id="g153" cx=".42" cy=".08" r="1" fx=".4" fy=".04"><stop offset="0" stop-color="#e0b848"/><stop offset=".45" stop-color="#d09818"/><stop offset=".84" stop-color="#b06808"/><stop offset="1" stop-color="#b06808" stop-opacity="0"/></radialGradient>
<radialGradient id="g154" cx=".42" cy=".08" r="1" fx=".4" fy=".04"><stop offset="0" stop-color="#e0c868"/><stop offset=".45" stop-color="#d8a830"/><stop offset=".84" stop-color="#d09810"/><stop offset="1" stop-color="#d09810" stop-opacity="0"/></radialGradient>
<radialGradient id="g155" cx=".42" cy=".08" r="1" fx=".4" fy=".04"><stop offset="0" stop-color="#e8c870"/><stop offset=".45" stop-color="#d8a828"/><stop offset=".84" stop-color="#c88810"/><stop offset="1" stop-color="#c88810" stop-opacity="0"/></radialGradient>
<radialGradient id="g156" cx=".42" cy=".08" r="1" fx=".4" fy=".04"><stop offset="0" stop-color="#e0c058"/><stop offset=".45" stop-color="#d09818"/><stop offset=".84" stop-color="#b06808"/><stop offset="1" stop-color="#b06808" stop-opacity="0"/></radialGradient>
<radialGradient id="g157" cx=".42" cy=".08" r="1" fx=".4" fy=".04"><stop offset="0" stop-color="#d8a828"/><stop offset=".45" stop-color="#c08010"/><stop offset=".84" stop-color="#b06000"/><stop offset="1" stop-color="#b06000" stop-opacity="0"/></radialGradient>
<radialGradient id="g158" cx=".42" cy=".08" r="1" fx=".4" fy=".04"><stop offset="0" stop-color="#d09810"/><stop offset=".45" stop-color="#b87008"/><stop offset=".84" stop-color="#a86000"/><stop offset="1" stop-color="#a86000" stop-opacity="0"/></radialGradient>
<radialGradient id="g159" cx=".42" cy=".08" r="1" fx=".4" fy=".04"><stop offset="0" stop-color="#d09818"/><stop offset=".45" stop-color="#b87808"/><stop offset=".84" stop-color="#a86000"/><stop offset="1" stop-color="#a86000" stop-opacity="0"/></radialGradient>
<radialGradient id="g160" cx=".42" cy=".08" r="1" fx=".4" fy=".04"><stop offset="0" stop-color="#d8a830"/><stop offset=".45" stop-color="#c08010"/><stop offset=".84" stop-color="#a86000"/><stop offset="1" stop-color="#a86000" stop-opacity="0"/></radialGradient>
<radialGradient id="g161" cx=".42" cy=".08" r="1" fx=".4" fy=".04"><stop offset="0" stop-color="#d8b040"/><stop offset=".45" stop-color="#d09810"/><stop offset=".84" stop-color="#b87008"/><stop offset="1" stop-color="#b87008" stop-opacity="0"/></radialGradient>
<radialGradient id="g162" cx=".42" cy=".08" r="1" fx=".4" fy=".04"><stop offset="0" stop-color="#d8b040"/><stop offset=".45" stop-color="#c89010"/><stop offset=".84" stop-color="#b06008"/><stop offset="1" stop-color="#b06008" stop-opacity="0"/></radialGradient>
<radialGradient id="g163" cx=".42" cy=".08" r="1" fx=".4" fy=".04"><stop offset="0" stop-color="#d0a828"/><stop offset=".45" stop-color="#c08010"/><stop offset=".84" stop-color="#a85800"/><stop offset="1" stop-color="#a85800" stop-opacity="0"/></radialGradient>
<radialGradient id="g164" cx=".42" cy=".08" r="1" fx=".4" fy=".04"><stop offset="0" stop-color="#c89810"/><stop offset=".45" stop-color="#b87008"/><stop offset=".84" stop-color="#b06000"/><stop offset="1" stop-color="#b06000" stop-opacity="0"/></radialGradient>
<radialGradient id="g165" cx=".42" cy=".08" r="1" fx=".4" fy=".04"><stop offset="0" stop-color="#e8d088"/><stop offset=".45" stop-color="#d8b030"/><stop offset=".84" stop-color="#c89010"/><stop offset="1" stop-color="#c89010" stop-opacity="0"/></radialGradient>
<radialGradient id="g166" cx=".42" cy=".08" r="1" fx=".4" fy=".04"><stop offset="0" stop-color="#f8e8c0"/><stop offset=".45" stop-color="#d8b038"/><stop offset=".84" stop-color="#c08010"/><stop offset="1" stop-color="#c08010" stop-opacity="0"/></radialGradient>
<radialGradient id="g167" cx=".42" cy=".08" r="1" fx=".4" fy=".04"><stop offset="0" stop-color="#d0a020"/><stop offset=".45" stop-color="#c08010"/><stop offset=".84" stop-color="#b06008"/><stop offset="1" stop-color="#b06008" stop-opacity="0"/></radialGradient>
<radialGradient id="g168" cx=".42" cy=".08" r="1" fx=".4" fy=".04"><stop offset="0" stop-color="#d09818"/><stop offset=".45" stop-color="#c08008"/><stop offset=".84" stop-color="#b06000"/><stop offset="1" stop-color="#b06000" stop-opacity="0"/></radialGradient>
<radialGradient id="g169" cx=".42" cy=".08" r="1" fx=".4" fy=".04"><stop offset="0" stop-color="#d0a020"/><stop offset=".45" stop-color="#c08008"/><stop offset=".84" stop-color="#a85800"/><stop offset="1" stop-color="#a85800" stop-opacity="0"/></radialGradient>
<radialGradient id="g170" cx=".42" cy=".08" r="1" fx=".4" fy=".04"><stop offset="0" stop-color="#d8a828"/><stop offset=".45" stop-color="#c08010"/><stop offset=".84" stop-color="#a86000"/><stop offset="1" stop-color="#a86000" stop-opacity="0"/></radialGradient>
<radialGradient id="g171" cx=".42" cy=".08" r="1" fx=".4" fy=".04"><stop offset="0" stop-color="#f0e0a0"/><stop offset=".45" stop-color="#d0a020"/><stop offset=".84" stop-color="#b06808"/><stop offset="1" stop-color="#b06808" stop-opacity="0"/></radialGradient>
<radialGradient id="g172" cx=".42" cy=".08" r="1" fx=".4" fy=".04"><stop offset="0" stop-color="#d09818"/><stop offset=".45" stop-color="#c07808"/><stop offset=".84" stop-color="#a86000"/><stop offset="1" stop-color="#a86000" stop-opacity="0"/></radialGradient>
<radialGradient id="g173" cx=".42" cy=".08" r="1" fx=".4" fy=".04"><stop offset="0" stop-color="#d8b038"/><stop offset=".45" stop-color="#c08810"/><stop offset=".84" stop-color="#a85800"/><stop offset="1" stop-color="#a85800" stop-opacity="0"/></radialGradient>
<radialGradient id="g174" cx=".42" cy=".08" r="1" fx=".4" fy=".04"><stop offset="0" stop-color="#d0a018"/><stop offset=".45" stop-color="#b87008"/><stop offset=".84" stop-color="#a85800"/><stop offset="1" stop-color="#a85800" stop-opacity="0"/></radialGradient>
<radialGradient id="g175" cx=".42" cy=".08" r="1" fx=".4" fy=".04"><stop offset="0" stop-color="#c88810"/><stop offset=".45" stop-color="#b06808"/><stop offset=".84" stop-color="#a85800"/><stop offset="1" stop-color="#a85800" stop-opacity="0"/></radialGradient>
<radialGradient id="g176" cx=".42" cy=".08" r="1" fx=".4" fy=".04"><stop offset="0" stop-color="#f0d898"/><stop offset=".45" stop-color="#d8b038"/><stop offset=".84" stop-color="#c89010"/><stop offset="1" stop-color="#c89010" stop-opacity="0"/></radialGradient>
<radialGradient id="g177" cx=".42" cy=".08" r="1" fx=".4" fy=".04"><stop offset="0" stop-color="#e0c050"/><stop offset=".45" stop-color="#d0a020"/><stop offset=".84" stop-color="#c08010"/><stop offset="1" stop-color="#c08010" stop-opacity="0"/></radialGradient>
<radialGradient id="g178" cx=".42" cy=".08" r="1" fx=".4" fy=".04"><stop offset="0" stop-color="#e0c060"/><stop offset=".45" stop-color="#d09818"/><stop offset=".84" stop-color="#b06008"/><stop offset="1" stop-color="#b06008" stop-opacity="0"/></radialGradient>
<radialGradient id="g179" cx=".42" cy=".08" r="1" fx=".4" fy=".04"><stop offset="0" stop-color="#d8b040"/><stop offset=".45" stop-color="#c88810"/><stop offset=".84" stop-color="#a86000"/><stop offset="1" stop-color="#a86000" stop-opacity="0"/></radialGradient>
<radialGradient id="g180" cx=".42" cy=".08" r="1" fx=".4" fy=".04"><stop offset="0" stop-color="#d8b030"/><stop offset=".45" stop-color="#c08010"/><stop offset=".84" stop-color="#a85800"/><stop offset="1" stop-color="#a85800" stop-opacity="0"/></radialGradient>
<radialGradient id="g181" cx=".42" cy=".08" r="1" fx=".4" fy=".04"><stop offset="0" stop-color="#d0a828"/><stop offset=".45" stop-color="#c08010"/><stop offset=".84" stop-color="#b06000"/><stop offset="1" stop-color="#b06000" stop-opacity="0"/></radialGradient>
<radialGradient id="g182" cx=".42" cy=".08" r="1" fx=".4" fy=".04"><stop offset="0" stop-color="#e0c060"/><stop offset=".45" stop-color="#d09818"/><stop offset=".84" stop-color="#b06808"/><stop offset="1" stop-color="#b06808" stop-opacity="0"/></radialGradient>
<radialGradient id="g183" cx=".42" cy=".08" r="1" fx=".4" fy=".04"><stop offset="0" stop-color="#c89010"/><stop offset=".45" stop-color="#b86808"/><stop offset=".84" stop-color="#a85800"/><stop offset="1" stop-color="#a85800" stop-opacity="0"/></radialGradient>
<radialGradient id="g184" cx=".42" cy=".08" r="1" fx=".4" fy=".04"><stop offset="0" stop-color="#d0a020"/><stop offset=".45" stop-color="#b87008"/><stop offset=".84" stop-color="#a05000"/><stop offset="1" stop-color="#a05000" stop-opacity="0"/></radialGradient>
<radialGradient id="g185" cx=".42" cy=".08" r="1" fx=".4" fy=".04"><stop offset="0" stop-color="#d8b038"/><stop offset=".45" stop-color="#c07808"/><stop offset=".84" stop-color="#a05000"/><stop offset="1" stop-color="#a05000" stop-opacity="0"/></radialGradient>
<radialGradient id="g186" cx=".42" cy=".08" r="1" fx=".4" fy=".04"><stop offset="0" stop-color="#f0d8a0"/><stop offset=".45" stop-color="#d8b038"/><stop offset=".84" stop-color="#c89010"/><stop offset="1" stop-color="#c89010" stop-opacity="0"/></radialGradient>
<radialGradient id="g187" cx=".42" cy=".08" r="1" fx=".4" fy=".04"><stop offset="0" stop-color="#e0b850"/><stop offset=".45" stop-color="#d09810"/><stop offset=".84" stop-color="#b06808"/><stop offset="1" stop-color="#b06808" stop-opacity="0"/></radialGradient>
<radialGradient id="g188" cx=".42" cy=".08" r="1" fx=".4" fy=".04"><stop offset="0" stop-color="#d09818"/><stop offset=".45" stop-color="#b87008"/><stop offset=".84" stop-color="#a85800"/><stop offset="1" stop-color="#a85800" stop-opacity="0"/></radialGradient>
<radialGradient id="g189" cx=".42" cy=".08" r="1" fx=".4" fy=".04"><stop offset="0" stop-color="#d0a018"/><stop offset=".45" stop-color="#b87808"/><stop offset=".84" stop-color="#a85800"/><stop offset="1" stop-color="#a85800" stop-opacity="0"/></radialGradient>
<radialGradient id="g190" cx=".42" cy=".08" r="1" fx=".4" fy=".04"><stop offset="0" stop-color="#d0a028"/><stop offset=".45" stop-color="#b87808"/><stop offset=".84" stop-color="#a05000"/><stop offset="1" stop-color="#a05000" stop-opacity="0"/></radialGradient>
<radialGradient id="g191" cx=".42" cy=".08" r="1" fx=".4" fy=".04"><stop offset="0" stop-color="#d0a828"/><stop offset=".45" stop-color="#b87008"/><stop offset=".84" stop-color="#a05000"/><stop offset="1" stop-color="#a05000" stop-opacity="0"/></radialGradient>
<radialGradient id="g192" cx=".42" cy=".08" r="1" fx=".4" fy=".04"><stop offset="0" stop-color="#c89010"/><stop offset=".45" stop-color="#b06008"/><stop offset=".84" stop-color="#a05000"/><stop offset="1" stop-color="#a05000" stop-opacity="0"/></radialGradient>
<radialGradient id="g193" cx=".42" cy=".08" r="1" fx=".4" fy=".04"><stop offset="0" stop-color="#c07808"/><stop offset=".45" stop-color="#a86000"/><stop offset=".84" stop-color="#984800"/><stop offset="1" stop-color="#984800" stop-opacity="0"/></radialGradient>
<radialGradient id="g194" cx=".42" cy=".08" r="1" fx=".4" fy=".04"><stop offset="0" stop-color="#e8c870"/><stop offset=".45" stop-color="#d0a828"/><stop offset=".84" stop-color="#c08810"/><stop offset="1" stop-color="#c08810" stop-opacity="0"/></radialGradient>
<radialGradient id="g195" cx=".42" cy=".08" r="1" fx=".4" fy=".04"><stop offset="0" stop-color="#d8a828"/><stop offset=".45" stop-color="#c08810"/><stop offset=".84" stop-color="#b06000"/><stop offset="1" stop-color="#b06000" stop-opacity="0"/></radialGradient>
<radialGradient id="g196" cx=".42" cy=".08" r="1" fx=".4" fy=".04"><stop offset="0" stop-color="#d0a020"/><stop offset=".45" stop-color="#c07808"/><stop offset=".84" stop-color="#a85800"/><stop offset="1" stop-color="#a85800" stop-opacity="0"/></radialGradient>
<radialGradient id="g197" cx=".42" cy=".08" r="1" fx=".4" fy=".04"><stop offset="0" stop-color="#d09810"/><stop offset=".45" stop-color="#b87008"/><stop offset=".84" stop-color="#a85800"/><stop offset="1" stop-color="#a85800" stop-opacity="0"/></radialGradient>
<radialGradient id="g198" cx=".42" cy=".08" r="1" fx=".4" fy=".04"><stop offset="0" stop-color="#e0c060"/><stop offset=".45" stop-color="#c89810"/><stop offset=".84" stop-color="#b06000"/><stop offset="1" stop-color="#b06000" stop-opacity="0"/></radialGradient>
<radialGradient id="g199" cx=".42" cy=".08" r="1" fx=".4" fy=".04"><stop offset="0" stop-color="#c89810"/><stop offset=".45" stop-color="#b06808"/><stop offset=".84" stop-color="#a05000"/><stop offset="1" stop-color="#a05000" stop-opacity="0"/></radialGradient>
<radialGradient id="g200" cx=".42" cy=".08" r="1" fx=".4" fy=".04"><stop offset="0" stop-color="#d0a020"/><stop offset=".45" stop-color="#b06808"/><stop offset=".84" stop-color="#984800"/><stop offset="1" stop-color="#984800" stop-opacity="0"/></radialGradient>
<radialGradient id="g201" cx=".42" cy=".08" r="1" fx=".4" fy=".04"><stop offset="0" stop-color="#c89010"/><stop offset=".45" stop-color="#b87008"/><stop offset=".84" stop-color="#a86000"/><stop offset="1" stop-color="#a86000" stop-opacity="0"/></radialGradient>
<radialGradient id="g202" cx=".42" cy=".08" r="1" fx=".4" fy=".04"><stop offset="0" stop-color="#d8a828"/><stop offset=".45" stop-color="#c08010"/><stop offset=".84" stop-color="#a85800"/><stop offset="1" stop-color="#a85800" stop-opacity="0"/></radialGradient>
<radialGradient id="g203" cx=".42" cy=".08" r="1" fx=".4" fy=".04"><stop offset="0" stop-color="#d0a828"/><stop offset=".45" stop-color="#c08810"/><stop offset=".84" stop-color="#b06808"/><stop offset="1" stop-color="#b06808" stop-opacity="0"/></radialGradient>
<radialGradient id="g204" cx=".42" cy=".08" r="1" fx=".4" fy=".04"><stop offset="0" stop-color="#c08010"/><stop offset=".45" stop-color="#a86000"/><stop offset=".84" stop-color="#904800"/><stop offset="1" stop-color="#904800" stop-opacity="0"/></radialGradient>
<radialGradient id="g205" cx=".42" cy=".08" r="1" fx=".4" fy=".04"><stop offset="0" stop-color="#d0a828"/><stop offset=".45" stop-color="#c07808"/><stop offset=".84" stop-color="#a85800"/><stop offset="1" stop-color="#a85800" stop-opacity="0"/></radialGradient>
<radialGradient id="g206" cx=".42" cy=".08" r="1" fx=".4" fy=".04"><stop offset="0" stop-color="#d8b038"/><stop offset=".45" stop-color="#c88810"/><stop offset=".84" stop-color="#a86000"/><stop offset="1" stop-color="#a86000" stop-opacity="0"/></radialGradient>
<radialGradient id="g207" cx=".42" cy=".08" r="1" fx=".4" fy=".04"><stop offset="0" stop-color="#e0b840"/><stop offset=".45" stop-color="#c89010"/><stop offset=".84" stop-color="#b06000"/><stop offset="1" stop-color="#b06000" stop-opacity="0"/></radialGradient>
<radialGradient id="g208" cx=".42" cy=".08" r="1" fx=".4" fy=".04"><stop offset="0" stop-color="#c89010"/><stop offset=".45" stop-color="#b06008"/><stop offset=".84" stop-color="#984800"/><stop offset="1" stop-color="#984800" stop-opacity="0"/></radialGradient>
<radialGradient id="g209" cx=".42" cy=".08" r="1" fx=".4" fy=".04"><stop offset="0" stop-color="#c08810"/><stop offset=".45" stop-color="#b06000"/><stop offset=".84" stop-color="#984800"/><stop offset="1" stop-color="#984800" stop-opacity="0"/></radialGradient>
<radialGradient id="g210" cx=".42" cy=".08" r="1" fx=".4" fy=".04"><stop offset="0" stop-color="#d09810"/><stop offset=".45" stop-color="#b06000"/><stop offset=".84" stop-color="#984800"/><stop offset="1" stop-color="#984800" stop-opacity="0"/></radialGradient>
<radialGradient id="g211" cx=".42" cy=".08" r="1" fx=".4" fy=".04"><stop offset="0" stop-color="#c07808"/><stop offset=".45" stop-color="#a85800"/><stop offset=".84" stop-color="#904000"/><stop offset="1" stop-color="#904000" stop-opacity="0"/></radialGradient>
<radialGradient id="g212" cx=".42" cy=".08" r="1" fx=".4" fy=".04"><stop offset="0" stop-color="#d09810"/><stop offset=".45" stop-color="#c88810"/><stop offset=".84" stop-color="#c07808"/><stop offset="1" stop-color="#c07808" stop-opacity="0"/></radialGradient>
<radialGradient id="g213" cx=".42" cy=".08" r="1" fx=".4" fy=".04"><stop offset="0" stop-color="#d0a020"/><stop offset=".45" stop-color="#b87808"/><stop offset=".84" stop-color="#a85800"/><stop offset="1" stop-color="#a85800" stop-opacity="0"/></radialGradient>
<radialGradient id="g214" cx=".42" cy=".08" r="1" fx=".4" fy=".04"><stop offset="0" stop-color="#d0a018"/><stop offset=".45" stop-color="#c07808"/><stop offset=".84" stop-color="#a85800"/><stop offset="1" stop-color="#a85800" stop-opacity="0"/></radialGradient>
<radialGradient id="g215" cx=".42" cy=".08" r="1" fx=".4" fy=".04"><stop offset="0" stop-color="#c88810"/><stop offset=".45" stop-color="#b87008"/><stop offset=".84" stop-color="#a86000"/><stop offset="1" stop-color="#a86000" stop-opacity="0"/></radialGradient>
<radialGradient id="g216" cx=".42" cy=".08" r="1" fx=".4" fy=".04"><stop offset="0" stop-color="#d0a828"/><stop offset=".45" stop-color="#b87008"/><stop offset=".84" stop-color="#984800"/><stop offset="1" stop-color="#984800" stop-opacity="0"/></radialGradient>
<radialGradient id="g217" cx=".42" cy=".08" r="1" fx=".4" fy=".04"><stop offset="0" stop-color="#d0a020"/><stop offset=".45" stop-color="#b06808"/><stop offset=".84" stop-color="#904000"/><stop offset="1" stop-color="#904000" stop-opacity="0"/></radialGradient>
<radialGradient id="g218" cx=".42" cy=".08" r="1" fx=".4" fy=".04"><stop offset="0" stop-color="#d0a020"/><stop offset=".45" stop-color="#c89010"/><stop offset=".84" stop-color="#c08010"/><stop offset="1" stop-color="#c08010" stop-opacity="0"/></radialGradient>
<radialGradient id="g219" cx=".42" cy=".08" r="1" fx=".4" fy=".04"><stop offset="0" stop-color="#d8b038"/><stop offset=".45" stop-color="#d09818"/><stop offset=".84" stop-color="#c08008"/><stop offset="1" stop-color="#c08008" stop-opacity="0"/></radialGradient>
<radialGradient id="g220" cx=".42" cy=".08" r="1" fx=".4" fy=".04"><stop offset="0" stop-color="#d0a020"/><stop offset=".45" stop-color="#d09810"/><stop offset=".84" stop-color="#c08010"/><stop offset="1" stop-color="#c08010" stop-opacity="0"/></radialGradient>
<radialGradient id="g221" cx=".42" cy=".08" r="1" fx=".4" fy=".04"><stop offset="0" stop-color="#d8a830"/><stop offset=".45" stop-color="#d0a018"/><stop offset=".84" stop-color="#c89010"/><stop offset="1" stop-color="#c89010" stop-opacity="0"/></radialGradient>
<radialGradient id="g222" cx=".42" cy=".08" r="1" fx=".4" fy=".04"><stop offset="0" stop-color="#d8b040"/><stop offset=".45" stop-color="#d0a020"/><stop offset=".84" stop-color="#c89010"/><stop offset="1" stop-color="#c89010" stop-opacity="0"/></radialGradient>
<radialGradient id="g223" cx=".42" cy=".08" r="1" fx=".4" fy=".04"><stop offset="0" stop-color="#e0c050"/><stop offset=".45" stop-color="#d0a020"/><stop offset=".84" stop-color="#c89010"/><stop offset="1" stop-color="#c89010" stop-opacity="0"/></radialGradient>
<radialGradient id="g224" cx=".42" cy=".08" r="1" fx=".4" fy=".04"><stop offset="0" stop-color="#d0a828"/><stop offset=".45" stop-color="#d09810"/><stop offset=".84" stop-color="#c08010"/><stop offset="1" stop-color="#c08010" stop-opacity="0"/></radialGradient>
<radialGradient id="g225" cx=".42" cy=".08" r="1" fx=".4" fy=".04"><stop offset="0" stop-color="#c89010"/><stop offset=".45" stop-color="#c07808"/><stop offset=".84" stop-color="#b06808"/><stop offset="1" stop-color="#b06808" stop-opacity="0"/></radialGradient>
<radialGradient id="g226" cx=".42" cy=".08" r="1" fx=".4" fy=".04"><stop offset="0" stop-color="#c07808"/><stop offset=".45" stop-color="#a86000"/><stop offset=".84" stop-color="#a05000"/><stop offset="1" stop-color="#a05000" stop-opacity="0"/></radialGradient>
<radialGradient id="g227" cx=".42" cy=".08" r="1" fx=".4" fy=".04"><stop offset="0" stop-color="#b87008"/><stop offset=".45" stop-color="#a85800"/><stop offset=".84" stop-color="#985000"/><stop offset="1" stop-color="#985000" stop-opacity="0"/></radialGradient>
<radialGradient id="g228" cx=".42" cy=".08" r="1" fx=".4" fy=".04"><stop offset="0" stop-color="#fffff0"/><stop offset=".45" stop-color="#e8c870"/><stop offset=".84" stop-color="#b06008"/><stop offset="1" stop-color="#b06008" stop-opacity="0"/></radialGradient>
<radialGradient id="g229" cx=".42" cy=".08" r="1" fx=".4" fy=".04"><stop offset="0" stop-color="#fff8f0"/><stop offset=".45" stop-color="#e0c058"/><stop offset=".84" stop-color="#a86000"/><stop offset="1" stop-color="#a86000" stop-opacity="0"/></radialGradient>
<radialGradient id="g230" cx=".42" cy=".08" r="1" fx=".4" fy=".04"><stop offset="0" stop-color="#fff8e0"/><stop offset=".45" stop-color="#e0b850"/><stop offset=".84" stop-color="#b87008"/><stop offset="1" stop-color="#b87008" stop-opacity="0"/></radialGradient>
<radialGradient id="g231" cx=".42" cy=".08" r="1" fx=".4" fy=".04"><stop offset="0" stop-color="#c08008"/><stop offset=".45" stop-color="#a85800"/><stop offset=".84" stop-color="#904000"/><stop offset="1" stop-color="#904000" stop-opacity="0"/></radialGradient>
<linearGradient id="sb0" gradientUnits="userSpaceOnUse" x1="0" y1="156.8" x2="0" y2="180.2"><stop offset="0" stop-color="rgb(179,179,179)"/><stop offset="0.05" stop-color="rgb(114,114,114)"/><stop offset="0.36" stop-color="rgb(110,110,110)"/><stop offset="0.4" stop-color="rgb(114,114,114)"/><stop offset="0.46" stop-color="rgb(196,196,196)"/><stop offset="0.5" stop-color="rgb(206,206,206)"/><stop offset="0.74" stop-color="rgb(209,209,209)"/><stop offset="0.8" stop-color="rgb(244,244,244)"/><stop offset="0.92" stop-color="rgb(244,244,244)"/><stop offset="1.0" stop-color="rgb(179,179,179)"/></linearGradient>
<linearGradient id="sb1" gradientUnits="userSpaceOnUse" x1="0" y1="180.2" x2="0" y2="202.9"><stop offset="0" stop-color="rgb(178,178,178)"/><stop offset="0.05" stop-color="rgb(113,113,113)"/><stop offset="0.36" stop-color="rgb(109,109,109)"/><stop offset="0.4" stop-color="rgb(113,113,113)"/><stop offset="0.46" stop-color="rgb(194,194,194)"/><stop offset="0.5" stop-color="rgb(204,204,204)"/><stop offset="0.74" stop-color="rgb(207,207,207)"/><stop offset="0.8" stop-color="rgb(243,243,243)"/><stop offset="0.92" stop-color="rgb(243,243,243)"/><stop offset="1.0" stop-color="rgb(178,178,178)"/></linearGradient>
<linearGradient id="sb2" gradientUnits="userSpaceOnUse" x1="0" y1="202.9" x2="0" y2="226.3"><stop offset="0" stop-color="rgb(176,176,176)"/><stop offset="0.05" stop-color="rgb(111,111,111)"/><stop offset="0.36" stop-color="rgb(107,107,107)"/><stop offset="0.4" stop-color="rgb(111,111,111)"/><stop offset="0.46" stop-color="rgb(192,192,192)"/><stop offset="0.5" stop-color="rgb(202,202,202)"/><stop offset="0.74" stop-color="rgb(205,205,205)"/><stop offset="0.8" stop-color="rgb(241,241,241)"/><stop offset="0.92" stop-color="rgb(241,241,241)"/><stop offset="1.0" stop-color="rgb(176,176,176)"/></linearGradient>
<linearGradient id="sb3" gradientUnits="userSpaceOnUse" x1="0" y1="226.3" x2="0" y2="248.2"><stop offset="0" stop-color="rgb(175,175,175)"/><stop offset="0.05" stop-color="rgb(110,110,110)"/><stop offset="0.36" stop-color="rgb(106,106,106)"/><stop offset="0.4" stop-color="rgb(110,110,110)"/><stop offset="0.46" stop-color="rgb(190,190,190)"/><stop offset="0.5" stop-color="rgb(200,200,200)"/><stop offset="0.74" stop-color="rgb(203,203,203)"/><stop offset="0.8" stop-color="rgb(240,240,240)"/><stop offset="0.92" stop-color="rgb(240,240,240)"/><stop offset="1.0" stop-color="rgb(175,175,175)"/></linearGradient>
<linearGradient id="sb4" gradientUnits="userSpaceOnUse" x1="0" y1="248.2" x2="0" y2="271.6"><stop offset="0" stop-color="rgb(173,173,173)"/><stop offset="0.05" stop-color="rgb(108,108,108)"/><stop offset="0.36" stop-color="rgb(104,104,104)"/><stop offset="0.4" stop-color="rgb(108,108,108)"/><stop offset="0.46" stop-color="rgb(189,189,189)"/><stop offset="0.5" stop-color="rgb(199,199,199)"/><stop offset="0.74" stop-color="rgb(202,202,202)"/><stop offset="0.8" stop-color="rgb(238,238,238)"/><stop offset="0.92" stop-color="rgb(238,238,238)"/><stop offset="1.0" stop-color="rgb(173,173,173)"/></linearGradient>
<linearGradient id="sb5" gradientUnits="userSpaceOnUse" x1="0" y1="271.6" x2="0" y2="294.3"><stop offset="0" stop-color="rgb(172,172,172)"/><stop offset="0.05" stop-color="rgb(107,107,107)"/><stop offset="0.36" stop-color="rgb(103,103,103)"/><stop offset="0.4" stop-color="rgb(107,107,107)"/><stop offset="0.46" stop-color="rgb(187,187,187)"/><stop offset="0.5" stop-color="rgb(197,197,197)"/><stop offset="0.74" stop-color="rgb(200,200,200)"/><stop offset="0.8" stop-color="rgb(237,237,237)"/><stop offset="0.92" stop-color="rgb(237,237,237)"/><stop offset="1.0" stop-color="rgb(172,172,172)"/></linearGradient>
<linearGradient id="sb6" gradientUnits="userSpaceOnUse" x1="0" y1="294.3" x2="0" y2="316.9"><stop offset="0" stop-color="rgb(170,170,170)"/><stop offset="0.05" stop-color="rgb(105,105,105)"/><stop offset="0.36" stop-color="rgb(101,101,101)"/><stop offset="0.4" stop-color="rgb(105,105,105)"/><stop offset="0.46" stop-color="rgb(185,185,185)"/><stop offset="0.5" stop-color="rgb(195,195,195)"/><stop offset="0.74" stop-color="rgb(198,198,198)"/><stop offset="0.8" stop-color="rgb(235,235,235)"/><stop offset="0.92" stop-color="rgb(235,235,235)"/><stop offset="1.0" stop-color="rgb(170,170,170)"/></linearGradient>
<linearGradient id="sb7" gradientUnits="userSpaceOnUse" x1="0" y1="316.9" x2="0" y2="339.6"><stop offset="0" stop-color="rgb(169,169,169)"/><stop offset="0.05" stop-color="rgb(104,104,104)"/><stop offset="0.36" stop-color="rgb(100,100,100)"/><stop offset="0.4" stop-color="rgb(104,104,104)"/><stop offset="0.46" stop-color="rgb(183,183,183)"/><stop offset="0.5" stop-color="rgb(193,193,193)"/><stop offset="0.74" stop-color="rgb(196,196,196)"/><stop offset="0.8" stop-color="rgb(234,234,234)"/><stop offset="0.92" stop-color="rgb(234,234,234)"/><stop offset="1.0" stop-color="rgb(169,169,169)"/></linearGradient>
<linearGradient id="sb8" gradientUnits="userSpaceOnUse" x1="0" y1="339.6" x2="0" y2="363"><stop offset="0" stop-color="rgb(167,167,167)"/><stop offset="0.05" stop-color="rgb(102,102,102)"/><stop offset="0.36" stop-color="rgb(98,98,98)"/><stop offset="0.4" stop-color="rgb(102,102,102)"/><stop offset="0.46" stop-color="rgb(181,181,181)"/><stop offset="0.5" stop-color="rgb(191,191,191)"/><stop offset="0.74" stop-color="rgb(194,194,194)"/><stop offset="0.8" stop-color="rgb(232,232,232)"/><stop offset="0.92" stop-color="rgb(232,232,232)"/><stop offset="1.0" stop-color="rgb(167,167,167)"/></linearGradient>
<linearGradient id="sb9" gradientUnits="userSpaceOnUse" x1="0" y1="363" x2="0" y2="384.9"><stop offset="0" stop-color="rgb(166,166,166)"/><stop offset="0.05" stop-color="rgb(101,101,101)"/><stop offset="0.36" stop-color="rgb(97,97,97)"/><stop offset="0.4" stop-color="rgb(101,101,101)"/><stop offset="0.46" stop-color="rgb(179,179,179)"/><stop offset="0.5" stop-color="rgb(189,189,189)"/><stop offset="0.74" stop-color="rgb(192,192,192)"/><stop offset="0.8" stop-color="rgb(231,231,231)"/><stop offset="0.92" stop-color="rgb(231,231,231)"/><stop offset="1.0" stop-color="rgb(166,166,166)"/></linearGradient>
<linearGradient id="sb10" gradientUnits="userSpaceOnUse" x1="0" y1="384.9" x2="0" y2="409"><stop offset="0" stop-color="rgb(164,164,164)"/><stop offset="0.05" stop-color="rgb(99,99,99)"/><stop offset="0.36" stop-color="rgb(95,95,95)"/><stop offset="0.4" stop-color="rgb(99,99,99)"/><stop offset="0.46" stop-color="rgb(177,177,177)"/><stop offset="0.5" stop-color="rgb(187,187,187)"/><stop offset="0.74" stop-color="rgb(190,190,190)"/><stop offset="0.8" stop-color="rgb(229,229,229)"/><stop offset="0.92" stop-color="rgb(229,229,229)"/><stop offset="1.0" stop-color="rgb(164,164,164)"/></linearGradient>
<linearGradient id="sb11" gradientUnits="userSpaceOnUse" x1="0" y1="409" x2="0" y2="432.4"><stop offset="0" stop-color="rgb(163,163,163)"/><stop offset="0.05" stop-color="rgb(98,98,98)"/><stop offset="0.36" stop-color="rgb(94,94,94)"/><stop offset="0.4" stop-color="rgb(98,98,98)"/><stop offset="0.46" stop-color="rgb(175,175,175)"/><stop offset="0.5" stop-color="rgb(185,185,185)"/><stop offset="0.74" stop-color="rgb(188,188,188)"/><stop offset="0.8" stop-color="rgb(228,228,228)"/><stop offset="0.92" stop-color="rgb(228,228,228)"/><stop offset="1.0" stop-color="rgb(163,163,163)"/></linearGradient>
<linearGradient id="sb12" gradientUnits="userSpaceOnUse" x1="0" y1="432.4" x2="0" y2="455.1"><stop offset="0" stop-color="rgb(161,161,161)"/><stop offset="0.05" stop-color="rgb(96,96,96)"/><stop offset="0.36" stop-color="rgb(92,92,92)"/><stop offset="0.4" stop-color="rgb(96,96,96)"/><stop offset="0.46" stop-color="rgb(174,174,174)"/><stop offset="0.5" stop-color="rgb(184,184,184)"/><stop offset="0.74" stop-color="rgb(187,187,187)"/><stop offset="0.8" stop-color="rgb(226,226,226)"/><stop offset="0.92" stop-color="rgb(226,226,226)"/><stop offset="1.0" stop-color="rgb(161,161,161)"/></linearGradient>
<linearGradient id="sb13" gradientUnits="userSpaceOnUse" x1="0" y1="455.1" x2="0" y2="477.7"><stop offset="0" stop-color="rgb(160,160,160)"/><stop offset="0.05" stop-color="rgb(95,95,95)"/><stop offset="0.36" stop-color="rgb(91,91,91)"/><stop offset="0.4" stop-color="rgb(95,95,95)"/><stop offset="0.46" stop-color="rgb(172,172,172)"/><stop offset="0.5" stop-color="rgb(182,182,182)"/><stop offset="0.74" stop-color="rgb(185,185,185)"/><stop offset="0.8" stop-color="rgb(225,225,225)"/><stop offset="0.92" stop-color="rgb(225,225,225)"/><stop offset="1.0" stop-color="rgb(160,160,160)"/></linearGradient>
<linearGradient id="sb14" gradientUnits="userSpaceOnUse" x1="0" y1="477.7" x2="0" y2="501.2"><stop offset="0" stop-color="rgb(158,158,158)"/><stop offset="0.05" stop-color="rgb(93,93,93)"/><stop offset="0.36" stop-color="rgb(89,89,89)"/><stop offset="0.4" stop-color="rgb(93,93,93)"/><stop offset="0.46" stop-color="rgb(170,170,170)"/><stop offset="0.5" stop-color="rgb(180,180,180)"/><stop offset="0.74" stop-color="rgb(183,183,183)"/><stop offset="0.8" stop-color="rgb(223,223,223)"/><stop offset="0.92" stop-color="rgb(223,223,223)"/><stop offset="1.0" stop-color="rgb(158,158,158)"/></linearGradient>
<linearGradient id="sb15" gradientUnits="userSpaceOnUse" x1="0" y1="501.2" x2="0" y2="523"><stop offset="0" stop-color="rgb(157,157,157)"/><stop offset="0.05" stop-color="rgb(92,92,92)"/><stop offset="0.36" stop-color="rgb(88,88,88)"/><stop offset="0.4" stop-color="rgb(92,92,92)"/><stop offset="0.46" stop-color="rgb(168,168,168)"/><stop offset="0.5" stop-color="rgb(178,178,178)"/><stop offset="0.74" stop-color="rgb(181,181,181)"/><stop offset="0.8" stop-color="rgb(222,222,222)"/><stop offset="0.92" stop-color="rgb(222,222,222)"/><stop offset="1.0" stop-color="rgb(157,157,157)"/></linearGradient>
<linearGradient id="sb16" gradientUnits="userSpaceOnUse" x1="0" y1="523" x2="0" y2="545.7"><stop offset="0" stop-color="rgb(156,156,156)"/><stop offset="0.05" stop-color="rgb(91,91,91)"/><stop offset="0.36" stop-color="rgb(87,87,87)"/><stop offset="0.4" stop-color="rgb(91,91,91)"/><stop offset="0.46" stop-color="rgb(166,166,166)"/><stop offset="0.5" stop-color="rgb(176,176,176)"/><stop offset="0.74" stop-color="rgb(179,179,179)"/><stop offset="0.8" stop-color="rgb(221,221,221)"/><stop offset="0.92" stop-color="rgb(221,221,221)"/><stop offset="1.0" stop-color="rgb(156,156,156)"/></linearGradient>
<linearGradient id="sb17" gradientUnits="userSpaceOnUse" x1="0" y1="545.7" x2="0" y2="568.3"><stop offset="0" stop-color="rgb(154,154,154)"/><stop offset="0.05" stop-color="rgb(89,89,89)"/><stop offset="0.36" stop-color="rgb(85,85,85)"/><stop offset="0.4" stop-color="rgb(89,89,89)"/><stop offset="0.46" stop-color="rgb(164,164,164)"/><stop offset="0.5" stop-color="rgb(174,174,174)"/><stop offset="0.74" stop-color="rgb(177,177,177)"/><stop offset="0.8" stop-color="rgb(219,219,219)"/><stop offset="0.92" stop-color="rgb(219,219,219)"/><stop offset="1.0" stop-color="rgb(154,154,154)"/></linearGradient>
<linearGradient id="sb18" gradientUnits="userSpaceOnUse" x1="0" y1="568.3" x2="0" y2="591"><stop offset="0" stop-color="rgb(153,153,153)"/><stop offset="0.05" stop-color="rgb(88,88,88)"/><stop offset="0.36" stop-color="rgb(84,84,84)"/><stop offset="0.4" stop-color="rgb(88,88,88)"/><stop offset="0.46" stop-color="rgb(162,162,162)"/><stop offset="0.5" stop-color="rgb(172,172,172)"/><stop offset="0.74" stop-color="rgb(175,175,175)"/><stop offset="0.8" stop-color="rgb(218,218,218)"/><stop offset="0.92" stop-color="rgb(218,218,218)"/><stop offset="1.0" stop-color="rgb(153,153,153)"/></linearGradient>
<linearGradient id="sb19" gradientUnits="userSpaceOnUse" x1="0" y1="591" x2="0" y2="613.7"><stop offset="0" stop-color="rgb(151,151,151)"/><stop offset="0.05" stop-color="rgb(86,86,86)"/><stop offset="0.36" stop-color="rgb(82,82,82)"/><stop offset="0.4" stop-color="rgb(86,86,86)"/><stop offset="0.46" stop-color="rgb(161,161,161)"/><stop offset="0.5" stop-color="rgb(171,171,171)"/><stop offset="0.74" stop-color="rgb(174,174,174)"/><stop offset="0.8" stop-color="rgb(216,216,216)"/><stop offset="0.92" stop-color="rgb(216,216,216)"/><stop offset="1.0" stop-color="rgb(151,151,151)"/></linearGradient>
<linearGradient id="sb20" gradientUnits="userSpaceOnUse" x1="0" y1="613.7" x2="0" y2="637"><stop offset="0" stop-color="rgb(150,150,150)"/><stop offset="0.05" stop-color="rgb(85,85,85)"/><stop offset="0.36" stop-color="rgb(81,81,81)"/><stop offset="0.4" stop-color="rgb(85,85,85)"/><stop offset="0.46" stop-color="rgb(159,159,159)"/><stop offset="0.5" stop-color="rgb(169,169,169)"/><stop offset="0.74" stop-color="rgb(172,172,172)"/><stop offset="0.8" stop-color="rgb(215,215,215)"/><stop offset="0.92" stop-color="rgb(215,215,215)"/><stop offset="1.0" stop-color="rgb(150,150,150)"/></linearGradient>
<linearGradient id="sb21" gradientUnits="userSpaceOnUse" x1="0" y1="637" x2="0" y2="658.9"><stop offset="0" stop-color="rgb(148,148,148)"/><stop offset="0.05" stop-color="rgb(83,83,83)"/><stop offset="0.36" stop-color="rgb(79,79,79)"/><stop offset="0.4" stop-color="rgb(83,83,83)"/><stop offset="0.46" stop-color="rgb(157,157,157)"/><stop offset="0.5" stop-color="rgb(167,167,167)"/><stop offset="0.74" stop-color="rgb(170,170,170)"/><stop offset="0.8" stop-color="rgb(213,213,213)"/><stop offset="0.92" stop-color="rgb(213,213,213)"/><stop offset="1.0" stop-color="rgb(148,148,148)"/></linearGradient>
<linearGradient id="sb22" gradientUnits="userSpaceOnUse" x1="0" y1="658.9" x2="0" y2="681.3"><stop offset="0" stop-color="rgb(147,147,147)"/><stop offset="0.05" stop-color="rgb(82,82,82)"/><stop offset="0.36" stop-color="rgb(78,78,78)"/><stop offset="0.4" stop-color="rgb(82,82,82)"/><stop offset="0.46" stop-color="rgb(155,155,155)"/><stop offset="0.5" stop-color="rgb(165,165,165)"/><stop offset="0.74" stop-color="rgb(168,168,168)"/><stop offset="0.8" stop-color="rgb(212,212,212)"/><stop offset="0.92" stop-color="rgb(212,212,212)"/><stop offset="1.0" stop-color="rgb(147,147,147)"/></linearGradient>
<linearGradient id="sb23" gradientUnits="userSpaceOnUse" x1="0" y1="681.3" x2="0" y2="704.5"><stop offset="0" stop-color="rgb(145,145,145)"/><stop offset="0.05" stop-color="rgb(80,80,80)"/><stop offset="0.36" stop-color="rgb(76,76,76)"/><stop offset="0.4" stop-color="rgb(80,80,80)"/><stop offset="0.46" stop-color="rgb(153,153,153)"/><stop offset="0.5" stop-color="rgb(163,163,163)"/><stop offset="0.74" stop-color="rgb(166,166,166)"/><stop offset="0.8" stop-color="rgb(210,210,210)"/><stop offset="0.92" stop-color="rgb(210,210,210)"/><stop offset="1.0" stop-color="rgb(145,145,145)"/></linearGradient>
<linearGradient id="sb24" gradientUnits="userSpaceOnUse" x1="0" y1="704.5" x2="0" y2="727"><stop offset="0" stop-color="rgb(144,144,144)"/><stop offset="0.05" stop-color="rgb(79,79,79)"/><stop offset="0.36" stop-color="rgb(75,75,75)"/><stop offset="0.4" stop-color="rgb(79,79,79)"/><stop offset="0.46" stop-color="rgb(151,151,151)"/><stop offset="0.5" stop-color="rgb(161,161,161)"/><stop offset="0.74" stop-color="rgb(164,164,164)"/><stop offset="0.8" stop-color="rgb(209,209,209)"/><stop offset="0.92" stop-color="rgb(209,209,209)"/><stop offset="1.0" stop-color="rgb(144,144,144)"/></linearGradient>
<linearGradient id="sb25" gradientUnits="userSpaceOnUse" x1="0" y1="727" x2="0" y2="749.5"><stop offset="0" stop-color="rgb(142,142,142)"/><stop offset="0.05" stop-color="rgb(77,77,77)"/><stop offset="0.36" stop-color="rgb(73,73,73)"/><stop offset="0.4" stop-color="rgb(77,77,77)"/><stop offset="0.46" stop-color="rgb(149,149,149)"/><stop offset="0.5" stop-color="rgb(159,159,159)"/><stop offset="0.74" stop-color="rgb(162,162,162)"/><stop offset="0.8" stop-color="rgb(207,207,207)"/><stop offset="0.92" stop-color="rgb(207,207,207)"/><stop offset="1.0" stop-color="rgb(142,142,142)"/></linearGradient>
<linearGradient id="sb26" gradientUnits="userSpaceOnUse" x1="0" y1="749.5" x2="0" y2="772"><stop offset="0" stop-color="rgb(141,141,141)"/><stop offset="0.05" stop-color="rgb(76,76,76)"/><stop offset="0.36" stop-color="rgb(72,72,72)"/><stop offset="0.4" stop-color="rgb(76,76,76)"/><stop offset="0.46" stop-color="rgb(147,147,147)"/><stop offset="0.5" stop-color="rgb(157,157,157)"/><stop offset="0.74" stop-color="rgb(160,160,160)"/><stop offset="0.8" stop-color="rgb(206,206,206)"/><stop offset="0.92" stop-color="rgb(206,206,206)"/><stop offset="1.0" stop-color="rgb(141,141,141)"/></linearGradient>
<linearGradient id="sb27" gradientUnits="userSpaceOnUse" x1="0" y1="772" x2="0" y2="794.5"><stop offset="0" stop-color="rgb(139,139,139)"/><stop offset="0.05" stop-color="rgb(74,74,74)"/><stop offset="0.36" stop-color="rgb(70,70,70)"/><stop offset="0.4" stop-color="rgb(74,74,74)"/><stop offset="0.46" stop-color="rgb(146,146,146)"/><stop offset="0.5" stop-color="rgb(156,156,156)"/><stop offset="0.74" stop-color="rgb(159,159,159)"/><stop offset="0.8" stop-color="rgb(204,204,204)"/><stop offset="0.92" stop-color="rgb(204,204,204)"/><stop offset="1.0" stop-color="rgb(139,139,139)"/></linearGradient>
<linearGradient id="sb28" gradientUnits="userSpaceOnUse" x1="0" y1="794.5" x2="0" y2="817"><stop offset="0" stop-color="rgb(138,138,138)"/><stop offset="0.05" stop-color="rgb(73,73,73)"/><stop offset="0.36" stop-color="rgb(69,69,69)"/><stop offset="0.4" stop-color="rgb(73,73,73)"/><stop offset="0.46" stop-color="rgb(144,144,144)"/><stop offset="0.5" stop-color="rgb(154,154,154)"/><stop offset="0.74" stop-color="rgb(157,157,157)"/><stop offset="0.8" stop-color="rgb(203,203,203)"/><stop offset="0.92" stop-color="rgb(203,203,203)"/><stop offset="1.0" stop-color="rgb(138,138,138)"/></linearGradient>
<linearGradient id="sb29" gradientUnits="userSpaceOnUse" x1="0" y1="817" x2="0" y2="840.2"><stop offset="0" stop-color="rgb(136,136,136)"/><stop offset="0.05" stop-color="rgb(71,71,71)"/><stop offset="0.36" stop-color="rgb(67,67,67)"/><stop offset="0.4" stop-color="rgb(71,71,71)"/><stop offset="0.46" stop-color="rgb(142,142,142)"/><stop offset="0.5" stop-color="rgb(152,152,152)"/><stop offset="0.74" stop-color="rgb(155,155,155)"/><stop offset="0.8" stop-color="rgb(201,201,201)"/><stop offset="0.92" stop-color="rgb(201,201,201)"/><stop offset="1.0" stop-color="rgb(136,136,136)"/></linearGradient>
<linearGradient id="sb30" gradientUnits="userSpaceOnUse" x1="0" y1="840.2" x2="0" y2="850.7"><stop offset="0" stop-color="rgb(100,100,100)"/><stop offset="0.1" stop-color="rgb(52,52,52)"/><stop offset="0.8" stop-color="rgb(50,50,50)"/><stop offset="1.0" stop-color="rgb(118,118,118)"/></linearGradient>
</defs>
<g id="pa">
<rect x="28" y="111" width="974" height="781" fill="#767676"/>
<rect x="28" y="111" width="974" height="47" fill="url(#capg)"/>
<rect x="28" y="156.8" width="974" height="23.4" fill="url(#sb0)"/>
<rect x="28" y="180.2" width="974" height="22.7" fill="url(#sb1)"/>
<rect x="28" y="202.9" width="974" height="23.4" fill="url(#sb2)"/>
<rect x="28" y="226.3" width="974" height="21.9" fill="url(#sb3)"/>
<rect x="28" y="248.2" width="974" height="23.4" fill="url(#sb4)"/>
<rect x="28" y="271.6" width="974" height="22.7" fill="url(#sb5)"/>
<rect x="28" y="294.3" width="974" height="22.6" fill="url(#sb6)"/>
<rect x="28" y="316.9" width="974" height="22.7" fill="url(#sb7)"/>
<rect x="28" y="339.6" width="974" height="23.4" fill="url(#sb8)"/>
<rect x="28" y="363" width="974" height="21.9" fill="url(#sb9)"/>
<rect x="28" y="384.9" width="974" height="24.1" fill="url(#sb10)"/>
<rect x="28" y="409" width="974" height="23.4" fill="url(#sb11)"/>
<rect x="28" y="432.4" width="974" height="22.7" fill="url(#sb12)"/>
<rect x="28" y="455.1" width="974" height="22.6" fill="url(#sb13)"/>
<rect x="28" y="477.7" width="974" height="23.5" fill="url(#sb14)"/>
<rect x="28" y="501.2" width="974" height="21.8" fill="url(#sb15)"/>
<rect x="28" y="523" width="974" height="22.7" fill="url(#sb16)"/>
<rect x="28" y="545.7" width="974" height="22.6" fill="url(#sb17)"/>
<rect x="28" y="568.3" width="974" height="22.7" fill="url(#sb18)"/>
<rect x="28" y="591" width="974" height="22.7" fill="url(#sb19)"/>
<rect x="28" y="613.7" width="974" height="23.3" fill="url(#sb20)"/>
<rect x="28" y="637" width="974" height="21.9" fill="url(#sb21)"/>
<rect x="28" y="658.9" width="974" height="22.4" fill="url(#sb22)"/>
<rect x="28" y="681.3" width="974" height="23.2" fill="url(#sb23)"/>
<rect x="28" y="704.5" width="974" height="22.5" fill="url(#sb24)"/>
<rect x="28" y="727" width="974" height="22.5" fill="url(#sb25)"/>
<rect x="28" y="749.5" width="974" height="22.5" fill="url(#sb26)"/>
<rect x="28" y="772" width="974" height="22.5" fill="url(#sb27)"/>
<rect x="28" y="794.5" width="974" height="22.5" fill="url(#sb28)"/>
<rect x="28" y="817" width="974" height="23.2" fill="url(#sb29)"/>
<rect x="28" y="840.2" width="974" height="10.5" fill="url(#sb30)"/>
<g fill="#fff">
<rect x="492.3" y="137.6" width="27.4" height="6.7"/>
<path d="M506.2,144 L516.8,162.5 L495.6,162.5 Z"/>
<rect x="502.3" y="160" width="7.9" height="302.8"/>
<rect x="502.3" y="527.6" width="7.9" height="302"/>
<path d="M495.5,827.7 L516.6,827.7 L506.1,845 Z"/>
<rect x="492.2" y="846.6" width="27.8" height="6.7"/>
</g>
<rect x="460.6" y="471" width="94.8" height="39.8" fill="#777" fill-opacity="0.85"/>
<text x="507.3" y="507.1" font-size="46" fill="#fff" text-anchor="middle" font-family="'Liberation Sans', Arial, sans-serif">DBR</text>
<rect x="718.7" y="871" width="179.8" height="13.4" fill="#fff"/>
<text x="810.5" y="856.4" font-size="49" fill="#fff" text-anchor="middle" font-family="'Liberation Sans', Arial, sans-serif">2µm</text>
<rect x="28" y="102.5" width="974" height="8.5" fill="#050505"/>
</g>
<g id="afm">
<g clip-path="url(#afmclip)"><g filter="url(#fblur)">
<path d="M1204.7,415.3 1206.4,416.9 1208.2,418.5 1209.9,420.1 1211.6,421.7 1213.3,423.3 1215.1,424.9 1216.8,426 1218.5,424.8 1220.2,421.5 1222,423 1223.7,429.4 1225.4,433.7 1227.1,435.7 1228.9,437.1 1230.6,431.2 1232.3,416.2 1234,423.8 1235.8,439.1 1237.5,444.7 1239.2,446.2 1241,447.7 1242.7,449.2 1244.4,450.7 1246.1,451.9 1247.9,449.1 1249.6,441.7 1251.3,446.5 1253,455.5 1254.8,459.6 1256.5,461.1 1258.2,462.6 1259.9,464.2 1261.7,465.7 1263.4,465 1265.1,459 1266.8,448.6 1268.6,448.9 1270.3,462.8 1272,472.3 1273.8,476.6 1275.5,478.2 1277.2,479.5 1278.9,477.5 1280.7,472.2 1282.4,465.8 1284.1,476.9 1285.8,484.9 1287.6,489.5 1289.3,491.1 1291,492 1292.7,488.4 1294.5,480.7 1296.2,480.3 1297.9,491.7 1299.7,499.1 1301.4,501.9 1303.1,503.5 1304.8,505 1306.6,506.5 1308.3,508 1310,509.5 1311.7,511 1313.5,512.3 1315.2,508.7 1316.9,499.7 1318.6,489.3 1320.4,505.2 1322.1,516.1 1323.8,521.4 1325.5,522.9 1327.3,524.4 1329,525.9 1330.7,527.4 1332.5,528.9 1334.2,530.4 1335.9,531.9 1337.6,533.5 1339.4,535 1341.1,536.4 1342.8,529.9 1344.5,513.5 1346.3,532.3 1348,542.5 1349.7,544.4 1351.4,546 1353.2,547.6 1354.9,548.7 1356.6,548.1 1358.3,546 1360.1,545.8 1361.8,551.8 1363.5,556.3 1365.3,559 1367,560.7 1368.7,562.3 1370.4,562.5 1372.2,558.1 1373.9,551.2 1375.6,562.3 1377.3,569.5 1379.1,572.2 1380.8,573.8 1382.5,575.5 1384.2,577.1 1386,578.8 1387.7,580.4 1389.4,581.8 1391.1,576.4 1392.9,563.1 1394.6,568.5 1396.3,583.5 1398.1,590.3 1399.8,591.9 1401.5,593.5 1403.2,593.3 1405,590.9 1406.7,586.6 1408.4,593.2 1410.1,599.3 1411.9,603.2 1413.6,605.1 1415.3,606.7 1417,608.3 1418.8,609.6 1420.5,609 1422.2,606.7 1423.9,603.6 1425.7,610.6 1427.4,616 1429.1,619.6 1430.9,621.5 1432.6,623.1 1434.3,624.8 1436,626.4 1437.8,628.1 1439.5,629.4 1441.2,627.5 1442.9,624 1444.7,631.7 1446.4,636.5 1448.1,638.4 1449.8,640.2 1451.6,641.9 1453.3,643.7 1455,645.4 1456.7,647.2 1458.5,648.5 1460.2,645.5 1461.9,638.4 1463.7,629.5 1465.4,643.4 1467.1,653.5 1468.8,659.5 1470.6,661.5 1472.3,663.3 1474,665.1 1475.7,666.9 1477.5,668.7 1479.2,670.5 1480.9,672.3 1482.6,674.1 1484.4,675.9 1486.1,677.6 1487.8,677.9 1489.5,671 1491.3,676.8 1493,684.5 1494.7,686.4 1496.5,688.1 1498.2,689.9 1499.9,691.5 1501.6,691.4 1503.4,689.4 1505.1,686.3 1506.8,693.1 1508.5,698.3 1510.3,701.6 1512,703.3 1513.7,705 1515.4,706.7 1517.2,708.5 1518.9,710.3 1520.6,712.1 1522.4,712.9 1524.1,710.8 1525.8,710.3 1527.5,717.1 1529.3,721.3 1531,723.2 1532.7,725.1 1534.4,727 1536.2,728.6 1537.9,725.5 1539.6,717.3 1541.3,721.9 1543.1,732.9 1544.8,738.7 1546.5,740.6 1548.2,742.6 1550,744.5 1551.7,746.5 1553.4,748.4 1555.2,750.4 1556.9,752.3 1558.6,754.2 1560.3,754.2 1562.1,751.6 1563.8,746.7 1565.5,754.2 1567.2,761 1569,765.4 1570.7,767.4 1572.4,769.2 1574.1,771 1575.9,772.8 1577.6,774.5 1579.3,772.8 1581,765.5 1582.8,756.3 1584.5,770.8 1586.6,780 1588.7,778.8 1590.9,777.7 1593,776.7 1595.1,773.7 1597.2,759.5 1599.3,764.7 1601.5,773.2 1603.6,772.7 1605.7,772.1 1607.8,771.6 1610,771.1 1612.1,770.6 1614.2,770.2 1616.3,769.8 1618.4,769.5 1620.6,769.2 1622.7,768.9 1624.8,768.7 1626.9,767.8 1629,757.8 1631.2,750.5 1633.3,764.2 1635.4,767.4 1637.5,767.2 1639.7,766.9 1641.8,766.6 1643.9,766.3 1646,766 1648.1,765.6 1650.3,764.9 1652.4,759.8 1654.5,750.3 1656.6,736.9 1658.7,748.2 1660.9,756.9 1663,761.2 1665.1,761 1667.2,760.1 1669.4,759.2 1671.5,753.8 1673.6,733.5 1675.7,721.9 1677.8,744.7 1680,753.2 1682.1,751.7 1684.2,750.3 1686.3,748.7 1688.4,747.1 1690.6,745.5 1692.7,743.9 1694.8,741 1696.9,729.3 1699.1,709.2 1701.2,704 1703.3,721.7 1705.4,731.2 1707.5,731.3 1709.7,729.4 1711.8,727.5 1713.9,725.6 1716,723.7 1718.1,721.7 1720.3,719.7 1722.4,717.8 1724.5,715.8 1726.6,713.9 1728.8,707.8 1730.9,682.9 1733,692.1 1735.1,705.6 1737.2,704.1 1739.4,702.2 1741.5,700.3 1743.6,698.4 1745.7,696.6 1747.8,694.8 1750,693 1752.1,691.2 1754.2,689.5 1756.3,687.8 1758.5,682.7 1760.6,665.9 1762.7,657.3 1764.8,674.3 1766.9,679.9 1769.1,678.5 1771.2,677.1 1773.3,675.7 1775.4,669.5 1777.5,653.2 1779.7,632.1 1781.8,652.8 1783.9,665 1786,667 1788.2,665.5 1790.3,664 1792.4,662.4 1794.5,660.9 1796.6,659.3 1798.8,657.7 1800.9,656.1 1803,654.4 1805.1,650.8 1807.2,640.6 1809.4,625 1811.5,613 1813.6,628.3 1815.7,638.4 1817.8,642.6 1820,641.2 1822.1,639.6 1824.2,637.9 1826.3,636.3 1828.5,634.6 1830.6,631.6 1832.7,620.1 1834.8,601 1836.9,604.5 1839.1,618.6 1841.2,624.6 1843.3,623.4 1845.4,621.8 1847.5,620.3 1849.7,618.7 1851.8,606.3 1853.9,579.8 1856,592.7 1858.2,609.5 1860.3,611.5 1862.4,610.1 1864.5,608.7 1866.6,607.4 1868.8,606.2 1870.9,605.1 1873,604.1 1875.1,603.1 1877.2,602 1879.4,592.7 1881.5,574.4 1883.6,563.5 1885.7,584.1 1887.9,596.2 1890,598.5 1892.1,598 1894.2,596.7 1896.3,587.1 1898.5,569.5 1900.6,566.2 1902.7,584.2 1904.8,594.4 1906.9,595.8 1909.1,595.6 1911.2,595.3 1913.3,592.4 1915.4,584.5 1917.6,577.7 1919.7,587.6 1921.8,593.1 1923.9,593.7 1926,593.4 1928.2,586 1930.3,567.3 1932.4,557.8 1934.5,579.1 1936.6,590.1 1938.8,590.6 1940.9,589.9 1943,589.2 1945.1,588.4 1947.3,587.5 1949.4,586.5 1951.5,580.6 1953.6,568.5 1955.7,556.9 1957.9,570.3 1960,578 1962.1,579 1964.2,577.4 1966.3,575.6 1968.5,573.8 1970.6,571.8 1972.7,569.8 1974.8,567.7 1977,565.5 1979.1,563.2 1981.2,560.9 1983.3,553.9 1985.4,538.6 1987.6,536.1 1989.7,546.4 1991.8,548.4 1993.9,545.8 1996,543.1 1998.2,540.5 2000.3,537.8 2002.4,535.1 2004.5,532.4 2006.7,528.1 2008.8,517.7 2010.9,501.8 2013,507 2015.1,514.6 2017.3,516.3 2019.4,513.7 2021.5,511.2 2023.6,508.7 2025.7,506.2 2027.9,503.8 2030,500.9 2032.1,492 2034.2,477.3 2036.4,471.9 2038.5,483.5 2040.6,489.5 2042.7,489.1 2044.8,487.4 2047,485.7 2049.1,484.2 2051.2,482.8 2045.8,475.9 2040.3,469.1 2034.9,463.2 2029.5,456.1 2024.1,454 2018.6,446.4 2013.2,454.4 2007.8,443.1 2002.4,431.2 1996.9,430.4 1991.5,421.8 1986.1,428.1 1980.7,417.9 1975.2,416 1969.8,406.4 1964.4,400.4 1959,402.8 1953.5,394 1948.1,387 1942.7,371.7 1937.3,367.8 1931.8,370.4 1926.4,355.1 1921,358.6 1915.6,345.8 1910.1,347.2 1904.7,343.5 1899.3,325.6 1893.9,330.3 1888.4,325.7 1883,310.6 1877.6,308.5 1872.2,313.5 1866.7,300.4 1861.3,303.3 1855.9,298 1850.4,301.6 1845,287.4 1839.6,287.3 1834.2,279.3 1828.7,275.9 1823.3,279.7 1817.9,273.9 1812.5,272.5 1807,269.1 1801.6,266.9 1796.2,260.4 1790.8,253.2 1785.3,259.1 1779.9,246.6 1774.5,248.6 1769.1,246 1763.6,235.3 1758.2,236.4 1752.8,234.6 1747.4,227.3 1741.9,219.1 1736.5,223.7 1731.1,205.8 1725.7,215.1 1720.2,200.3 1714.8,194.7 1709.4,202.4 1704,187.1 1698.5,188.9 1693.1,181.6 1687.7,185.4 1682.3,180.2 1676.8,173.5 1671.4,157.2 1664.7,172.4 1658.1,168.2 1651.4,169.6 1644.7,173.1 1638.1,185.4 1631.4,188.9 1624.7,190 1618.1,189.9 1611.4,203.2 1604.7,197.5 1598.1,200.6 1591.4,203.5 1584.7,219.4 1578.1,210.4 1571.4,226.7 1564.7,226.5 1558.1,225.5 1551.4,223.6 1544.7,234.3 1538.1,227.9 1531.4,235.4 1524.7,240.8 1518.1,242.9 1511.4,247.2 1504.7,251.2 1498.1,253.1 1491.4,248.7 1484.7,248.2 1478.1,264.6 1471.4,270.9 1464.7,262.1 1458.1,273.6 1451.4,280.5 1444.7,288.2 1438,288.2 1431.4,290 1424.7,300.6 1418,306.1 1411.4,316.4 1404.7,308.7 1398,326.1 1391.4,323.8 1384.7,323.1 1378,337.6 1371.4,333.1 1364.7,334.2 1358,343 1351.4,345 1344.7,359.1 1338,358.6 1331.4,367 1324.7,361.1 1318,373.3 1311.4,375.3 1304.7,371.6 1298,378 1291.4,380 1284.7,390.7 1278,392.8 1271.4,391.3 1264.7,396.7 1258,400.9 1251.4,400.6 1244.7,405.6 1238,403.8 1231.4,396.6 1224.7,399.1 1218,406.5 1211.4,411.4Z" fill="#ba7409"/>
<path d="M1584.2,783.9 1560,759.3 1589.7,746.2 1613.8,771.2Z" fill="#c07c0c"/>
<path d="M1610.1,773.6 1585.9,748.6 1615.6,741.8 1639.7,767.6Z" fill="#b06804"/>
<path d="M1636,770 1611.9,744.2 1641.5,735.9 1665.7,762.3Z" fill="#a45800"/>
<path d="M1661.9,764.6 1637.8,738.2 1667.5,721.1 1691.6,747.6Z" fill="#9c4c00"/>
<path d="M1687.9,750 1663.7,723.5 1693.4,700.2 1717.5,725.6Z" fill="#a05000"/>
<path d="M1713.8,728 1689.7,702.5 1719.3,677.7 1743.5,701.8Z" fill="#a85800"/>
<path d="M1739.7,704.2 1715.6,680 1745.2,657.5 1769.4,680.8Z" fill="#ac6004"/>
<path d="M1765.6,683.2 1741.5,659.8 1771.2,639.7 1795.3,663Z" fill="#b06404"/>
<path d="M1791.6,665.4 1767.4,642.1 1797.1,619.8 1821.2,643.2Z" fill="#b06804"/>
<path d="M1817.5,645.5 1793.4,622.2 1823,600 1847.2,623.3Z" fill="#b46c08"/>
<path d="M1843.4,625.7 1819.3,602.4 1849,582.6 1873.1,606Z" fill="#b87008"/>
<path d="M1869.4,608.3 1845.2,585 1874.9,573.8 1899,597.6Z" fill="#b46c08"/>
<path d="M1895.3,600 1871.1,576.2 1900.8,569.7 1924.9,594.3Z" fill="#a85c04"/>
<path d="M1921.2,596.7 1897.1,572 1926.7,562.4 1950.9,587.7Z" fill="#9c4c00"/>
<path d="M1947.1,590.1 1923,564.8 1952.7,544.2 1976.8,569.4Z" fill="#944400"/>
<path d="M1973.1,571.7 1948.9,546.6 1978.6,515 2002.7,539.2Z" fill="#a05000"/>
<path d="M1999,541.6 1974.9,517.4 2004.5,483.9 2028.7,507Z" fill="#b06404"/>
<path d="M2024.9,509.4 2000.8,486.3 2030.4,460.4 2054.6,483Z" fill="#c07c0c"/>
<path d="M1563.1,762.1 1538.9,735.6 1568.6,721.8 1592.7,749.1Z" fill="#c0800c"/>
<path d="M1589,751.5 1564.8,724.2 1594.5,715.9 1618.6,744.7Z" fill="#b87008"/>
<path d="M1614.9,747.1 1590.8,718.2 1620.4,708.6 1644.6,738.7Z" fill="#a85c04"/>
<path d="M1640.8,741.1 1616.7,710.9 1646.4,693.8 1670.5,724Z" fill="#a45400"/>
<path d="M1666.8,726.4 1642.6,696.2 1672.3,674.9 1696.4,703.1Z" fill="#a45800"/>
<path d="M1692.7,705.4 1668.6,677.2 1698.2,655.1 1722.4,680.6Z" fill="#a85c04"/>
<path d="M1718.6,682.9 1694.5,657.5 1724.1,636.6 1748.3,660.4Z" fill="#b06004"/>
<path d="M1744.5,662.7 1720.4,639 1750.1,618.9 1774.2,642.6Z" fill="#b06404"/>
<path d="M1770.5,645 1746.3,621.3 1776,599.1 1800.1,622.7Z" fill="#b06804"/>
<path d="M1796.4,625.1 1772.3,601.4 1801.9,579.2 1826.1,602.9Z" fill="#b87008"/>
<path d="M1822.3,605.2 1798.2,581.6 1827.9,561.8 1852,585.5Z" fill="#b87408"/>
<path d="M1848.3,587.9 1824.1,564.2 1853.8,551.9 1877.9,576.7Z" fill="#b86c08"/>
<path d="M1874.2,579.1 1850,554.3 1879.7,546 1903.8,572.6Z" fill="#ac6004"/>
<path d="M1900.1,574.9 1876,548.4 1905.6,537.5 1929.8,565.3Z" fill="#a05000"/>
<path d="M1926,567.7 1901.9,539.8 1931.6,519.5 1955.7,547.1Z" fill="#984800"/>
<path d="M1952,549.5 1927.8,521.9 1957.5,492.3 1981.6,517.9Z" fill="#a45400"/>
<path d="M1977.9,520.3 1953.8,494.7 1983.4,463.4 2007.6,486.8Z" fill="#b06804"/>
<path d="M2003.8,489.2 1979.7,465.8 2009.3,441 2033.5,463.3Z" fill="#c07c0c"/>
<path d="M1542,738.5 1517.8,712.4 1547.5,698 1571.6,724.7Z" fill="#c88c10"/>
<path d="M1567.9,727.1 1543.7,700.3 1573.4,690.7 1597.5,718.8Z" fill="#bc7808"/>
<path d="M1593.8,721.1 1569.7,693.1 1599.3,682.2 1623.5,711.5Z" fill="#b06804"/>
<path d="M1619.7,713.8 1595.6,684.6 1625.3,667.4 1649.4,696.7Z" fill="#ac6004"/>
<path d="M1645.7,699.1 1621.5,669.8 1651.2,650.3 1675.3,677.8Z" fill="#ac6004"/>
<path d="M1671.6,680.1 1647.5,652.6 1677.1,632.9 1701.3,658Z" fill="#b06004"/>
<path d="M1697.5,660.4 1673.4,635.3 1703,615.9 1727.2,639.5Z" fill="#b06404"/>
<path d="M1723.4,641.9 1699.3,618.2 1729,598.2 1753.1,621.8Z" fill="#b06404"/>
<path d="M1749.4,624.2 1725.2,600.6 1754.9,578.3 1779,601.9Z" fill="#b46808"/>
<path d="M1775.3,604.3 1751.2,580.7 1780.8,558.5 1805,582.1Z" fill="#b87008"/>
<path d="M1801.2,584.4 1777.1,560.9 1806.8,541.1 1830.9,564.7Z" fill="#b87408"/>
<path d="M1827.2,567.1 1803,543.4 1832.7,530.2 1856.8,554.8Z" fill="#b87008"/>
<path d="M1853.1,557.1 1828.9,532.6 1858.6,522.8 1882.7,548.9Z" fill="#b06004"/>
<path d="M1879,551.3 1854.9,525.2 1884.5,513.2 1908.7,540.3Z" fill="#a45800"/>
<path d="M1904.9,542.7 1880.8,515.5 1910.5,495.5 1934.6,522.4Z" fill="#a05000"/>
<path d="M1930.9,524.8 1906.7,497.9 1936.4,469.9 1960.5,495.2Z" fill="#a85800"/>
<path d="M1956.8,497.6 1932.7,472.3 1962.3,443 1986.5,466.3Z" fill="#b46808"/>
<path d="M1982.7,468.7 1958.6,445.4 1988.2,421.6 2012.4,443.9Z" fill="#c07c0c"/>
<path d="M1520.9,715.3 1496.7,691.5 1526.4,676.9 1550.5,700.9Z" fill="#c89010"/>
<path d="M1546.8,703.2 1522.6,679.2 1552.3,669.2 1576.4,693.6Z" fill="#c0800c"/>
<path d="M1572.7,696 1548.6,671.5 1578.2,660.3 1602.4,685.1Z" fill="#b46c08"/>
<path d="M1598.6,687.5 1574.5,662.7 1604.2,645.5 1628.3,670.3Z" fill="#b06404"/>
<path d="M1624.6,672.7 1600.4,647.9 1630.1,628.8 1654.2,653.1Z" fill="#b06404"/>
<path d="M1650.5,655.5 1626.4,631.2 1656,612.1 1680.2,635.8Z" fill="#b06404"/>
<path d="M1676.4,638.2 1652.3,614.5 1681.9,595.5 1706.1,618.7Z" fill="#b06404"/>
<path d="M1702.3,621.1 1678.2,597.9 1707.9,577.9 1732,601.1Z" fill="#b06404"/>
<path d="M1728.3,603.5 1704.1,580.2 1733.8,558 1757.9,581.2Z" fill="#b46808"/>
<path d="M1754.2,583.6 1730.1,560.4 1759.7,538.1 1783.9,561.4Z" fill="#b87008"/>
<path d="M1780.1,563.7 1756,540.5 1785.7,520.7 1809.8,543.9Z" fill="#bc7808"/>
<path d="M1806.1,546.3 1781.9,523.1 1811.6,509.5 1835.7,533.1Z" fill="#b87008"/>
<path d="M1832,535.5 1807.8,511.8 1837.5,501.5 1861.6,525.7Z" fill="#b06404"/>
<path d="M1857.9,528.1 1833.8,503.8 1863.4,491.3 1887.6,516Z" fill="#a85800"/>
<path d="M1883.8,518.4 1859.7,493.7 1889.4,473.7 1913.5,498.4Z" fill="#a45400"/>
<path d="M1909.8,500.8 1885.6,476.1 1915.3,448.7 1939.4,472.8Z" fill="#a85c04"/>
<path d="M1935.7,475.2 1911.6,451.1 1941.2,422.5 1965.4,445.9Z" fill="#b46808"/>
<path d="M1961.6,448.3 1937.5,424.9 1967.1,401.3 1991.3,424.5Z" fill="#c07c0c"/>
<path d="M1499.8,694.4 1475.6,670.1 1505.3,654.9 1529.4,679.7Z" fill="#c89010"/>
<path d="M1525.7,682.1 1501.5,657.3 1531.2,646.1 1555.3,672.1Z" fill="#c0800c"/>
<path d="M1551.6,674.4 1527.5,648.5 1557.1,636.4 1581.3,663.2Z" fill="#b87008"/>
<path d="M1577.5,665.6 1553.4,638.7 1583.1,621.4 1607.2,648.4Z" fill="#b06804"/>
<path d="M1603.5,650.8 1579.3,623.8 1609,605.7 1633.1,631.7Z" fill="#b06804"/>
<path d="M1629.4,634.1 1605.3,608 1634.9,590.2 1659.1,615Z" fill="#b06804"/>
<path d="M1655.3,617.4 1631.2,592.5 1660.8,574.3 1685,598.4Z" fill="#b06804"/>
<path d="M1681.2,600.8 1657.1,576.7 1686.8,556.7 1710.9,580.8Z" fill="#b06804"/>
<path d="M1707.2,583.1 1683,559.1 1712.7,536.8 1736.8,560.9Z" fill="#b46808"/>
<path d="M1733.1,563.3 1709,539.2 1738.6,517 1762.8,541Z" fill="#b87008"/>
<path d="M1759,543.4 1734.9,519.3 1764.6,499.5 1788.7,523.6Z" fill="#bc7808"/>
<path d="M1785,526 1760.8,501.8 1790.5,486.6 1814.6,512.4Z" fill="#b87408"/>
<path d="M1810.9,514.7 1786.7,489 1816.4,475.9 1840.5,504.4Z" fill="#b06804"/>
<path d="M1836.8,506.7 1812.7,478.3 1842.3,463.8 1866.5,494.2Z" fill="#a85c04"/>
<path d="M1862.7,496.6 1838.6,466.2 1868.3,446.4 1892.4,476.6Z" fill="#a85800"/>
<path d="M1888.7,479 1864.5,448.7 1894.2,423.1 1918.3,451.6Z" fill="#ac6004"/>
<path d="M1914.6,454 1890.5,425.4 1920.1,398.7 1944.3,425.4Z" fill="#b87008"/>
<path d="M1940.5,427.7 1916.4,401.1 1946,378.5 1970.2,404.2Z" fill="#c0800c"/>
<path d="M1478.7,672.9 1454.5,648.1 1484.2,632.3 1508.3,657.8Z" fill="#cc9414"/>
<path d="M1504.6,660.2 1480.4,634.7 1510.1,622.1 1534.2,649Z" fill="#c48810"/>
<path d="M1530.5,651.4 1506.4,624.5 1536,611.1 1560.2,639.3Z" fill="#bc7808"/>
<path d="M1556.4,641.6 1532.3,613.4 1562,596 1586.1,624.3Z" fill="#b87008"/>
<path d="M1582.4,626.7 1558.2,598.3 1587.9,581.4 1612,608.6Z" fill="#b87008"/>
<path d="M1608.3,610.9 1584.2,583.8 1613.8,567.6 1638,593.1Z" fill="#b46c08"/>
<path d="M1634.2,595.4 1610.1,570 1639.7,552.7 1663.9,577.2Z" fill="#b46808"/>
<path d="M1660.1,579.6 1636,555.1 1665.7,535.1 1689.8,559.6Z" fill="#b06808"/>
<path d="M1686.1,562 1661.9,537.5 1691.6,515.3 1715.7,539.7Z" fill="#b46c08"/>
<path d="M1712,542.1 1687.9,517.7 1717.5,495.4 1741.7,519.9Z" fill="#b87408"/>
<path d="M1737.9,522.2 1713.8,497.8 1743.5,477.8 1767.6,502.4Z" fill="#c0780c"/>
<path d="M1763.9,504.7 1739.7,480.2 1769.4,462.8 1793.5,489.5Z" fill="#bc7808"/>
<path d="M1789.8,491.9 1765.6,465.1 1795.3,448.6 1819.4,478.8Z" fill="#b87008"/>
<path d="M1815.7,481.2 1791.6,450.9 1821.2,433.8 1845.4,466.7Z" fill="#b46808"/>
<path d="M1841.6,469.1 1817.5,436.2 1847.2,416.5 1871.3,449.2Z" fill="#b06804"/>
<path d="M1867.6,451.6 1843.4,418.9 1873.1,395.5 1897.2,425.9Z" fill="#b46c08"/>
<path d="M1893.5,428.3 1869.4,397.8 1899,373.8 1923.2,401.6Z" fill="#c07c0c"/>
<path d="M1919.4,404 1895.3,376.1 1924.9,354.8 1949.1,381.4Z" fill="#c48810"/>
<path d="M1457.6,651 1433.4,626.9 1463.1,610.6 1487.2,635.2Z" fill="#cc9814"/>
<path d="M1483.5,637.6 1459.3,613 1489,599.5 1513.1,625Z" fill="#c89010"/>
<path d="M1509.4,627.3 1485.3,601.9 1514.9,587.7 1539.1,613.9Z" fill="#c0800c"/>
<path d="M1535.3,616.3 1511.2,590.1 1540.9,572.6 1565,598.9Z" fill="#c07c0c"/>
<path d="M1561.3,601.2 1537.1,575 1566.8,558.8 1590.9,584.3Z" fill="#bc7808"/>
<path d="M1587.2,586.7 1563.1,561.2 1592.7,545.9 1616.9,570.5Z" fill="#b87008"/>
<path d="M1613.1,572.8 1589,548.3 1618.6,531.7 1642.8,555.6Z" fill="#b46c08"/>
<path d="M1639,558 1614.9,534.1 1644.6,514.2 1668.7,538Z" fill="#b46808"/>
<path d="M1665,540.4 1640.8,516.5 1670.5,494.3 1694.6,518.2Z" fill="#b87008"/>
<path d="M1690.9,520.5 1666.8,496.7 1696.4,474.4 1720.6,498.3Z" fill="#bc7808"/>
<path d="M1716.8,500.7 1692.7,476.8 1722.4,456.8 1746.5,480.7Z" fill="#c07c0c"/>
<path d="M1742.8,483.1 1718.6,459.2 1748.3,440.4 1772.4,465.7Z" fill="#c07c0c"/>
<path d="M1768.7,468 1744.5,442.7 1774.2,424 1798.3,451.5Z" fill="#c07c0c"/>
<path d="M1794.6,453.8 1770.5,426.3 1800.1,407.5 1824.3,436.7Z" fill="#bc780c"/>
<path d="M1820.5,439 1796.4,409.9 1826.1,390.4 1850.2,419.4Z" fill="#bc7808"/>
<path d="M1846.5,421.8 1822.3,392.8 1852,370.7 1876.1,398.4Z" fill="#c0800c"/>
<path d="M1872.4,400.7 1848.3,373.1 1877.9,350.6 1902.1,376.6Z" fill="#c48810"/>
<path d="M1898.3,379 1874.2,353 1903.8,332.4 1928,357.7Z" fill="#c89010"/>
<path d="M1436.5,629.8 1412.3,606.8 1442,590.7 1466.1,613.5Z" fill="#cc9814"/>
<path d="M1462.4,615.9 1438.2,593.1 1467.9,580 1492,602.4Z" fill="#c89010"/>
<path d="M1488.3,604.8 1464.2,582.4 1493.8,568.6 1518,590.6Z" fill="#c48410"/>
<path d="M1514.2,593 1490.1,571 1519.8,553.5 1543.9,575.5Z" fill="#c0800c"/>
<path d="M1540.2,577.8 1516,555.9 1545.7,539.8 1569.8,561.7Z" fill="#c0780c"/>
<path d="M1566.1,564.1 1542,542.1 1571.6,526.9 1595.8,548.8Z" fill="#b87408"/>
<path d="M1592,551.2 1567.9,529.3 1597.5,512.7 1621.7,534.6Z" fill="#b46c08"/>
<path d="M1617.9,537 1593.8,515.1 1623.5,495.1 1647.6,517Z" fill="#b46808"/>
<path d="M1643.9,519.4 1619.7,497.5 1649.4,475 1673.5,497.2Z" fill="#b87008"/>
<path d="M1669.8,499.6 1645.7,477.4 1675.3,455 1699.5,477.3Z" fill="#bc7808"/>
<path d="M1695.7,479.7 1671.6,457.3 1701.3,437.3 1725.4,459.7Z" fill="#c07c0c"/>
<path d="M1721.7,462.1 1697.5,439.6 1727.2,420.8 1751.3,443.3Z" fill="#c0800c"/>
<path d="M1747.6,445.6 1723.4,423.1 1753.1,404.3 1777.2,426.9Z" fill="#c0800c"/>
<path d="M1773.5,429.2 1749.4,406.7 1779,387.8 1803.2,410.4Z" fill="#c0800c"/>
<path d="M1799.4,412.8 1775.3,390.2 1805,370.8 1829.1,393.3Z" fill="#c0800c"/>
<path d="M1825.4,395.6 1801.2,373.2 1830.9,351.8 1855,373.6Z" fill="#c0800c"/>
<path d="M1851.3,376 1827.2,354.2 1856.8,332.4 1881,353.5Z" fill="#c88810"/>
<path d="M1877.2,355.9 1853.1,334.8 1882.7,314.5 1906.9,335.3Z" fill="#c89010"/>
<path d="M1415.4,609.7 1391.2,586.7 1420.9,571.3 1445,593.6Z" fill="#cc9814"/>
<path d="M1441.3,596 1417.1,573.6 1446.8,561.9 1470.9,582.9Z" fill="#c89010"/>
<path d="M1467.2,585.3 1443.1,564.3 1472.7,551.7 1496.9,571.5Z" fill="#c0800c"/>
<path d="M1493.1,573.9 1469,554 1498.7,536.8 1522.8,556.4Z" fill="#bc7808"/>
<path d="M1519.1,558.8 1494.9,539.2 1524.6,523.1 1548.7,542.7Z" fill="#bc7408"/>
<path d="M1545,545 1520.9,525.4 1550.5,510.2 1574.7,529.8Z" fill="#b86c08"/>
<path d="M1570.9,532.2 1546.8,512.6 1576.4,496 1600.6,515.6Z" fill="#b06804"/>
<path d="M1596.8,518 1572.7,498.4 1602.4,478.2 1626.5,498Z" fill="#b06804"/>
<path d="M1622.8,500.4 1598.6,480.6 1628.3,457.5 1652.4,477.9Z" fill="#b46c08"/>
<path d="M1648.7,480.3 1624.6,459.9 1654.2,436.8 1678.4,457.8Z" fill="#b87408"/>
<path d="M1674.6,460.2 1650.5,439.1 1680.2,418.9 1704.3,440.1Z" fill="#c07c0c"/>
<path d="M1700.6,442.5 1676.4,421.2 1706.1,402.4 1730.2,423.7Z" fill="#c07c0c"/>
<path d="M1726.5,426 1702.3,404.8 1732,385.9 1756.1,407.2Z" fill="#c07c0c"/>
<path d="M1752.4,409.6 1728.3,388.3 1757.9,369.4 1782.1,390.7Z" fill="#c07c0c"/>
<path d="M1778.3,393.1 1754.2,371.8 1783.9,352.8 1808,373.7Z" fill="#c07c0c"/>
<path d="M1804.3,376 1780.1,355.1 1809.8,335.5 1833.9,354.7Z" fill="#c0800c"/>
<path d="M1830.2,357 1806.1,337.9 1835.7,318.1 1859.9,335.3Z" fill="#c0800c"/>
<path d="M1856.1,337.7 1832,320.5 1861.6,301.2 1885.8,317.4Z" fill="#c48810"/>
<path d="M1394.3,589.6 1370.1,566.6 1399.8,551.8 1423.9,574.2Z" fill="#cc9814"/>
<path d="M1420.2,576.5 1396,554.2 1425.7,543.8 1449.8,564.8Z" fill="#c88c10"/>
<path d="M1446.1,567.2 1422,546.2 1451.6,534.7 1475.8,554.5Z" fill="#bc780c"/>
<path d="M1472,556.9 1447.9,537.1 1477.6,520.1 1501.7,539.7Z" fill="#b87008"/>
<path d="M1498,542.1 1473.8,522.5 1503.5,506.4 1527.6,526Z" fill="#b86c08"/>
<path d="M1523.9,528.3 1499.8,508.7 1529.4,493.5 1553.6,513.1Z" fill="#b06804"/>
<path d="M1549.8,515.5 1525.7,495.9 1555.3,479.3 1579.5,498.9Z" fill="#b06404"/>
<path d="M1575.7,501.3 1551.6,481.7 1581.3,461.3 1605.4,481.1Z" fill="#b06004"/>
<path d="M1601.7,483.5 1577.5,463.7 1607.2,439.9 1631.3,460.4Z" fill="#b06804"/>
<path d="M1627.6,462.8 1603.5,442.3 1633.1,418.6 1657.3,439.7Z" fill="#b87008"/>
<path d="M1653.5,442 1629.4,421 1659.1,400.5 1683.2,421.8Z" fill="#bc7808"/>
<path d="M1679.5,424.1 1655.3,402.8 1685,384 1709.1,405.3Z" fill="#bc7808"/>
<path d="M1705.4,407.6 1681.2,386.4 1710.9,367.5 1735,388.8Z" fill="#bc7808"/>
<path d="M1731.3,391.2 1707.2,369.9 1736.8,351 1761,372.3Z" fill="#bc7808"/>
<path d="M1757.2,374.7 1733.1,353.4 1762.8,334.7 1786.9,355.7Z" fill="#bc7808"/>
<path d="M1783.2,358 1759,337.1 1788.7,319.2 1812.8,338.4Z" fill="#bc7808"/>
<path d="M1809.1,340.8 1785,321.6 1814.6,303.9 1838.8,321Z" fill="#bc7808"/>
<path d="M1835,323.4 1810.9,306.2 1840.5,287.9 1864.7,304.1Z" fill="#bc7808"/>
<path d="M1373.2,569.5 1349,546.6 1378.7,532 1402.8,554.7Z" fill="#cc9814"/>
<path d="M1399.1,557.1 1374.9,534.4 1404.6,524.5 1428.7,546.7Z" fill="#c88810"/>
<path d="M1425,549.1 1400.9,526.8 1430.5,515.7 1454.7,537.6Z" fill="#bc7408"/>
<path d="M1450.9,540 1426.8,518.1 1456.5,501.2 1480.6,523Z" fill="#b46c08"/>
<path d="M1476.9,525.4 1452.7,503.6 1482.4,487.5 1506.5,509.3Z" fill="#b46808"/>
<path d="M1502.8,511.6 1478.7,489.9 1508.3,474.6 1532.5,496.4Z" fill="#b06404"/>
<path d="M1528.7,498.8 1504.6,477 1534.2,460.4 1558.4,482.2Z" fill="#ac6004"/>
<path d="M1554.6,484.6 1530.5,462.8 1560.2,442.3 1584.3,464.2Z" fill="#ac6004"/>
<path d="M1580.6,466.5 1556.4,444.7 1586.1,420.7 1610.2,442.8Z" fill="#b06404"/>
<path d="M1606.5,445.2 1582.4,423.1 1612,399.2 1636.2,421.5Z" fill="#b46c08"/>
<path d="M1632.4,423.9 1608.3,401.6 1638,381 1662.1,403.4Z" fill="#b87408"/>
<path d="M1658.4,405.7 1634.2,383.4 1663.9,364.6 1688,386.9Z" fill="#b87408"/>
<path d="M1684.3,389.3 1660.1,366.9 1689.8,348.1 1713.9,370.4Z" fill="#b87408"/>
<path d="M1710.2,372.8 1686.1,350.5 1715.7,331.7 1739.9,353.9Z" fill="#b87408"/>
<path d="M1736.1,356.3 1712,334.1 1741.7,315.6 1765.8,337.6Z" fill="#b87408"/>
<path d="M1762.1,340 1737.9,317.9 1767.6,300.6 1791.7,322.1Z" fill="#b87008"/>
<path d="M1788,324.5 1763.9,303 1793.5,285.9 1817.7,306.7Z" fill="#b87008"/>
<path d="M1813.9,309.1 1789.8,288.3 1819.4,270.3 1843.6,290.8Z" fill="#b46c08"/>
<path d="M1352.1,549.5 1327.9,527.6 1357.6,513.2 1381.7,534.9Z" fill="#cc9814"/>
<path d="M1378,537.3 1353.8,515.6 1383.5,505.9 1407.6,527.3Z" fill="#c48810"/>
<path d="M1403.9,529.7 1379.8,508.3 1409.4,497.4 1433.6,518.6Z" fill="#b87408"/>
<path d="M1429.8,521 1405.7,499.8 1435.4,482.9 1459.5,504.1Z" fill="#b46808"/>
<path d="M1455.8,506.5 1431.6,485.3 1461.3,468.9 1485.4,490.4Z" fill="#b06804"/>
<path d="M1481.7,492.7 1457.6,471.3 1487.2,455.7 1511.4,477.5Z" fill="#b06404"/>
<path d="M1507.6,479.9 1483.5,458.1 1513.1,441.3 1537.3,463.3Z" fill="#ac6004"/>
<path d="M1533.5,465.7 1509.4,443.6 1539.1,423.2 1563.2,445.2Z" fill="#ac6004"/>
<path d="M1559.5,447.6 1535.3,425.5 1565,401.7 1589.1,423.6Z" fill="#b06404"/>
<path d="M1585.4,426 1561.3,404.1 1590.9,380.2 1615.1,402.1Z" fill="#b46808"/>
<path d="M1611.3,404.5 1587.2,382.6 1616.9,362.1 1641,383.9Z" fill="#b87008"/>
<path d="M1637.3,386.3 1613.1,364.5 1642.8,346.8 1666.9,367.4Z" fill="#b87408"/>
<path d="M1663.2,369.8 1639,349.2 1668.7,332.2 1692.8,351Z" fill="#b87008"/>
<path d="M1689.1,353.4 1665,334.6 1694.6,317.1 1718.8,334.6Z" fill="#b87008"/>
<path d="M1715,337 1690.9,319.5 1720.6,301.1 1744.7,318.5Z" fill="#b87008"/>
<path d="M1741,320.8 1716.8,303.5 1746.5,286.2 1770.6,303.5Z" fill="#b86c08"/>
<path d="M1766.9,305.9 1742.8,288.6 1772.4,271.5 1796.6,288.8Z" fill="#b46808"/>
<path d="M1792.8,291.2 1768.7,273.9 1798.3,255.9 1822.5,273.2Z" fill="#b06804"/>
<path d="M1331,530.5 1306.8,509.4 1336.5,495.1 1360.6,516.1Z" fill="#cc9414"/>
<path d="M1356.9,518.4 1332.7,497.5 1362.4,488.3 1386.5,508.8Z" fill="#c48410"/>
<path d="M1382.8,511.2 1358.7,490.7 1388.3,480.2 1412.5,500.3Z" fill="#b87008"/>
<path d="M1408.7,502.7 1384.6,482.6 1414.3,465.7 1438.4,485.8Z" fill="#b06804"/>
<path d="M1434.7,488.2 1410.5,468.1 1440.2,451.3 1464.3,471.8Z" fill="#b06404"/>
<path d="M1460.6,474.2 1436.5,453.6 1466.1,437.5 1490.3,458.6Z" fill="#ac6004"/>
<path d="M1486.5,461 1462.4,439.8 1492,422.6 1516.2,444.1Z" fill="#a85c04"/>
<path d="M1512.4,446.5 1488.3,425 1518,404.6 1542.1,426Z" fill="#a85c04"/>
<path d="M1538.4,428.4 1514.2,407 1543.9,383.3 1568,404.6Z" fill="#ac6004"/>
<path d="M1564.3,407 1540.2,385.6 1569.8,361.9 1594,383.1Z" fill="#b06808"/>
<path d="M1590.2,385.5 1566.1,364.3 1595.8,343.9 1619.9,365Z" fill="#b87008"/>
<path d="M1616.2,367.4 1592,346.3 1621.7,330.4 1645.8,349.7Z" fill="#b87008"/>
<path d="M1642.1,352 1617.9,332.8 1647.6,318.8 1671.7,335.1Z" fill="#b46808"/>
<path d="M1668,337.5 1643.9,321.2 1673.5,306 1697.7,320Z" fill="#b06404"/>
<path d="M1693.9,322.4 1669.8,308.3 1699.5,290.2 1723.6,304Z" fill="#b06004"/>
<path d="M1719.9,306.4 1695.7,292.6 1725.4,275.3 1749.5,289.1Z" fill="#ac6004"/>
<path d="M1745.8,291.5 1721.7,277.7 1751.3,260.6 1775.5,274.4Z" fill="#ac6004"/>
<path d="M1771.7,276.8 1747.6,263 1777.2,245 1801.4,258.8Z" fill="#a85c04"/>
<path d="M1309.9,512.3 1285.7,490.7 1315.4,476.6 1339.5,498Z" fill="#c89010"/>
<path d="M1335.8,500.4 1311.6,478.9 1341.3,470 1365.4,491.2Z" fill="#c0800c"/>
<path d="M1361.7,493.6 1337.6,472.4 1367.2,462.2 1391.4,483.1Z" fill="#b46808"/>
<path d="M1387.6,485.4 1363.5,464.6 1393.2,447.8 1417.3,468.6Z" fill="#b06004"/>
<path d="M1413.6,471 1389.4,450.2 1419.1,433 1443.2,454.1Z" fill="#ac6004"/>
<path d="M1439.5,456.5 1415.4,435.4 1445,418.8 1469.2,440.4Z" fill="#a86004"/>
<path d="M1465.4,442.7 1441.3,421.1 1470.9,403.7 1495.1,425.5Z" fill="#a85c04"/>
<path d="M1491.3,427.9 1467.2,406 1496.9,385.6 1521,407.5Z" fill="#a85804"/>
<path d="M1517.3,409.8 1493.1,388 1522.8,364.4 1546.9,386.1Z" fill="#ac6004"/>
<path d="M1543.2,388.5 1519.1,366.8 1548.7,343.2 1572.9,364.8Z" fill="#b06804"/>
<path d="M1569.1,367.2 1545,345.5 1574.7,325.2 1598.8,346.8Z" fill="#b46c08"/>
<path d="M1595.1,349.2 1570.9,327.6 1600.6,313.1 1624.7,333.3Z" fill="#b46808"/>
<path d="M1621,335.7 1596.8,315.5 1626.5,303.7 1650.6,321.7Z" fill="#b06004"/>
<path d="M1646.9,324.1 1622.8,306.1 1652.4,292.5 1676.6,308.8Z" fill="#a85800"/>
<path d="M1672.8,311.2 1648.7,294.9 1678.4,277 1702.5,293.1Z" fill="#a45800"/>
<path d="M1698.8,295.5 1674.6,279.3 1704.3,262 1728.4,278.2Z" fill="#a45400"/>
<path d="M1724.7,280.5 1700.6,264.4 1730.2,247.3 1754.4,263.5Z" fill="#a05400"/>
<path d="M1750.6,265.9 1726.5,249.7 1756.1,231.7 1780.3,247.8Z" fill="#a05000"/>
<path d="M1288.8,493.6 1264.6,471.1 1294.3,457 1318.4,479.5Z" fill="#c89010"/>
<path d="M1314.7,481.8 1290.5,459.4 1320.2,450.6 1344.3,472.9Z" fill="#c07c0c"/>
<path d="M1340.6,475.3 1316.5,453 1346.1,442.8 1370.3,465.1Z" fill="#b06808"/>
<path d="M1366.5,467.5 1342.4,445.2 1372.1,428.4 1396.2,450.7Z" fill="#ac6004"/>
<path d="M1392.5,453.1 1368.3,430.8 1398,413.4 1422.1,435.9Z" fill="#ac6004"/>
<path d="M1418.4,438.3 1394.3,415.8 1423.9,399 1448.1,421.6Z" fill="#a85c04"/>
<path d="M1444.3,424 1420.2,401.4 1449.8,383.8 1474,406.6Z" fill="#a85800"/>
<path d="M1470.2,408.9 1446.1,386.1 1475.8,365.8 1499.9,388.5Z" fill="#a85800"/>
<path d="M1496.2,390.9 1472,368.1 1501.7,344.7 1525.8,367.3Z" fill="#ac6004"/>
<path d="M1522.1,369.7 1498,347 1527.6,323.5 1551.8,346.1Z" fill="#b06404"/>
<path d="M1548,348.4 1523.9,325.9 1553.6,305.6 1577.7,328.1Z" fill="#b46808"/>
<path d="M1574,330.5 1549.8,308 1579.5,293.7 1603.6,316Z" fill="#b06804"/>
<path d="M1599.9,318.4 1575.7,296.1 1605.4,284.7 1629.5,306.6Z" fill="#ac6004"/>
<path d="M1625.8,309 1601.7,287 1631.3,273.7 1655.5,295.4Z" fill="#a45800"/>
<path d="M1651.7,297.8 1627.6,276.1 1657.3,258.2 1681.4,279.9Z" fill="#a05000"/>
<path d="M1677.7,282.2 1653.5,260.6 1683.2,243.3 1707.3,264.9Z" fill="#a05000"/>
<path d="M1703.6,267.3 1679.5,245.7 1709.1,228.7 1733.3,250.2Z" fill="#9c5000"/>
<path d="M1729.5,252.6 1705.4,231 1735,213.1 1759.2,234.6Z" fill="#9c4c00"/>
<path d="M1267.7,474 1243.5,452.5 1273.2,438.6 1297.3,459.9Z" fill="#c88c10"/>
<path d="M1293.6,462.3 1269.4,441 1299.1,432.4 1323.2,453.5Z" fill="#c0780c"/>
<path d="M1319.5,455.9 1295.4,434.8 1325,424.9 1349.2,445.7Z" fill="#b06804"/>
<path d="M1345.4,448.1 1321.3,427.3 1351,410.4 1375.1,431.3Z" fill="#ac6004"/>
<path d="M1371.4,433.7 1347.2,412.8 1376.9,394.9 1401,416.3Z" fill="#a86004"/>
<path d="M1397.3,418.7 1373.2,397.3 1402.8,379.7 1427,401.9Z" fill="#a85c04"/>
<path d="M1423.2,404.3 1399.1,382.1 1428.7,364 1452.9,386.7Z" fill="#a85800"/>
<path d="M1449.1,389 1425,366.4 1454.7,346.2 1478.8,368.7Z" fill="#a85800"/>
<path d="M1475.1,371 1450.9,348.5 1480.6,325.5 1504.7,347.5Z" fill="#a86004"/>
<path d="M1501,349.9 1476.9,327.9 1506.5,304.8 1530.7,326.4Z" fill="#b06404"/>
<path d="M1526.9,328.8 1502.8,307.2 1532.5,287.1 1556.6,308.5Z" fill="#b46808"/>
<path d="M1552.9,310.9 1528.7,289.5 1558.4,275.5 1582.5,296.6Z" fill="#b06804"/>
<path d="M1578.8,299 1554.6,277.8 1584.3,266.8 1608.4,287.6Z" fill="#a85c04"/>
<path d="M1604.7,289.9 1580.6,269.1 1610.2,256.1 1634.4,276.6Z" fill="#a05400"/>
<path d="M1630.6,279 1606.5,258.5 1636.2,240.6 1660.3,261.1Z" fill="#a05000"/>
<path d="M1656.6,263.5 1632.4,243 1662.1,226 1686.2,246.2Z" fill="#9c5000"/>
<path d="M1682.5,248.6 1658.4,228.3 1688,211.6 1712.2,231.6Z" fill="#9c4c00"/>
<path d="M1708.4,233.9 1684.3,213.9 1713.9,196.1 1738.1,216Z" fill="#984800"/>
<path d="M1246.6,455.4 1222.4,434.2 1252.1,420.4 1276.2,441.5Z" fill="#c48810"/>
<path d="M1272.5,443.9 1248.3,422.8 1278,414.5 1302.1,435.3Z" fill="#bc7808"/>
<path d="M1298.4,437.7 1274.3,416.9 1303.9,407.2 1328.1,427.8Z" fill="#b06404"/>
<path d="M1324.3,430.1 1300.2,409.6 1329.9,392.8 1354,413.3Z" fill="#a85c04"/>
<path d="M1350.3,415.7 1326.1,395.2 1355.8,376.6 1379.9,397.8Z" fill="#a85c04"/>
<path d="M1376.2,400.2 1352.1,379 1381.7,360.5 1405.9,382.6Z" fill="#a85800"/>
<path d="M1402.1,385 1378,362.9 1407.6,344.3 1431.8,366.9Z" fill="#a85800"/>
<path d="M1428,369.3 1403.9,346.7 1433.6,326.6 1457.7,349Z" fill="#a85800"/>
<path d="M1454,351.4 1429.8,329 1459.5,306.5 1483.6,328.4Z" fill="#a85c04"/>
<path d="M1479.9,330.8 1455.8,308.9 1485.4,286.4 1509.6,307.7Z" fill="#b06004"/>
<path d="M1505.8,310.1 1481.7,288.7 1511.4,268.8 1535.5,290Z" fill="#b06804"/>
<path d="M1531.8,292.4 1507.6,271.2 1537.3,257.4 1561.4,278.3Z" fill="#b06404"/>
<path d="M1557.7,280.7 1533.5,259.8 1563.2,249.2 1587.3,269.6Z" fill="#a85800"/>
<path d="M1583.6,272 1559.5,251.5 1589.1,238.8 1613.3,259Z" fill="#a05000"/>
<path d="M1609.5,261.3 1585.4,241.2 1615.1,223.5 1639.2,243.5Z" fill="#9c4c00"/>
<path d="M1635.5,245.9 1611.3,225.8 1641,209 1665.1,228.9Z" fill="#984800"/>
<path d="M1661.4,231.2 1637.3,211.4 1666.9,194.9 1691.1,214.5Z" fill="#984800"/>
<path d="M1687.3,216.8 1663.2,197.3 1692.8,179.6 1717,199Z" fill="#944400"/>
<path d="M1225.5,437.1 1201.3,415 1231,401.3 1255.1,423.3Z" fill="#c48410"/>
<path d="M1251.4,425.7 1227.2,403.7 1256.9,395.5 1281,417.4Z" fill="#b87008"/>
<path d="M1277.3,419.8 1253.2,397.9 1282.8,388.3 1307,410.1Z" fill="#ac6004"/>
<path d="M1303.2,412.5 1279.1,390.7 1308.8,373.9 1332.9,395.7Z" fill="#a85800"/>
<path d="M1329.2,398 1305,376.2 1334.7,357.4 1358.8,379.5Z" fill="#a85800"/>
<path d="M1355.1,381.9 1331,359.7 1360.6,340.9 1384.8,363.4Z" fill="#a85800"/>
<path d="M1381,365.8 1356.9,343.3 1386.5,324.4 1410.7,347.2Z" fill="#a85800"/>
<path d="M1406.9,349.6 1382.8,326.8 1412.5,306.8 1436.6,329.5Z" fill="#a85800"/>
<path d="M1432.9,331.9 1408.7,309.2 1438.4,286.9 1462.5,309.4Z" fill="#a85c04"/>
<path d="M1458.8,311.8 1434.7,289.3 1464.3,267.1 1488.5,289.3Z" fill="#ac6004"/>
<path d="M1484.7,291.6 1460.6,269.4 1490.3,249.6 1514.4,271.7Z" fill="#b06404"/>
<path d="M1510.7,274.1 1486.5,252 1516.2,238.3 1540.3,260.3Z" fill="#ac6004"/>
<path d="M1536.6,262.7 1512.4,240.7 1542.1,230.3 1566.2,252.1Z" fill="#a85800"/>
<path d="M1562.5,254.4 1538.4,232.7 1568,220.1 1592.2,241.7Z" fill="#9c4c00"/>
<path d="M1588.4,244.1 1564.3,222.5 1594,204.8 1618.1,226.4Z" fill="#984800"/>
<path d="M1614.4,228.7 1590.2,207.2 1619.9,190.5 1644,211.9Z" fill="#984800"/>
<path d="M1640.3,214.3 1616.2,192.8 1645.8,176.5 1670,197.8Z" fill="#944400"/>
<path d="M1666.2,200.2 1642.1,178.9 1671.7,161.2 1695.9,182.5Z" fill="#904000"/>
</g></g>
<g clip-path="url(#afmclip2)">
<path d="M1660.4,171.6C1660.4,146.9 1664.6,125.8 1668.6,125.8C1672.6,125.8 1676.8,146.9 1676.8,171.6Z" fill="url(#g231)"/>
<path d="M1670.7,182.6C1670.7,158.9 1674.9,138.4 1678.9,138.4C1682.8,138.4 1687.1,158.9 1687.1,182.6Z" fill="url(#g211)"/>
<path d="M1636.1,199.5C1636.1,161.5 1642.1,132.2 1647.7,132.2C1653.3,132.2 1659.4,161.5 1659.4,199.5Z" fill="url(#g217)"/>
<path d="M1668.9,205.4C1668.9,180.5 1674.1,159.2 1679,159.2C1683.9,159.2 1689.2,180.5 1689.2,205.4Z" fill="url(#g204)"/>
<path d="M1612,206.2C1612,172.9 1618.1,146.5 1623.8,146.5C1629.4,146.5 1635.5,172.9 1635.5,206.2Z" fill="url(#g33)"/>
<path d="M1610.4,207.3C1610.4,177.5 1615.5,153.2 1620.1,153.2C1624.7,153.2 1629.8,177.5 1629.8,207.3Z" fill="url(#g210)"/>
<path d="M1692,208.6C1692,180 1697.9,156.5 1703.3,156.5C1708.8,156.5 1714.7,180 1714.7,208.6Z" fill="url(#g15)"/>
<path d="M1699.3,208.9C1699.3,190.1 1703.3,172.6 1707.1,172.6C1710.8,172.6 1714.9,190.1 1714.9,208.9Z" fill="url(#g16)"/>
<path d="M1599.1,219.1C1599.1,187.4 1604.1,162 1608.6,162C1613.2,162 1618.2,187.4 1618.2,219.1Z" fill="url(#g33)"/>
<path d="M1715.6,223.1C1715.6,203.7 1720.6,185.8 1725.2,185.8C1729.9,185.8 1734.9,203.7 1734.9,223.1Z" fill="url(#g193)"/>
<path d="M1631.9,223.3C1631.9,197.8 1637.3,176.2 1642.3,176.2C1647.3,176.2 1652.7,197.8 1652.7,223.3Z" fill="url(#g15)"/>
<path d="M1668.8,225.9C1668.8,192.7 1674.6,166.4 1679.9,166.4C1685.2,166.4 1690.9,192.7 1690.9,225.9Z" fill="url(#g200)"/>
<path d="M1570.5,225.9C1570.5,193.6 1575.9,167.8 1580.9,167.8C1585.9,167.8 1591.3,193.6 1591.3,225.9Z" fill="url(#g33)"/>
<path d="M1599.7,228.6C1599.7,205.2 1603.8,184.9 1607.5,184.9C1611.3,184.9 1615.3,205.2 1615.3,228.6Z" fill="url(#g209)"/>
<path d="M1715.2,230.6C1715.2,214.8 1719.3,199.1 1723.1,199.1C1726.9,199.1 1731,214.8 1731,230.6Z" fill="url(#g227)"/>
<path d="M1552.8,235.5C1552.8,200 1558.8,172.3 1564.4,172.3C1570,172.3 1576,200 1576,235.5Z" fill="url(#g216)"/>
<path d="M1665.2,239.5C1665.2,213.2 1670.9,191.1 1676.1,191.1C1681.3,191.1 1686.9,213.2 1686.9,239.5Z" fill="url(#g199)"/>
<path d="M1684.8,239.9C1684.8,215.9 1689.8,195.2 1694.4,195.2C1699,195.2 1704,215.9 1704,239.9Z" fill="url(#g192)"/>
<path d="M1574.7,241.8C1574.7,215.4 1579.7,193.3 1584.2,193.3C1588.8,193.3 1593.7,215.4 1593.7,241.8Z" fill="url(#g208)"/>
<path d="M1534.1,242.6C1534.1,212.1 1538.9,187.3 1543.3,187.3C1547.6,187.3 1552.4,212.1 1552.4,242.6Z" fill="url(#g184)"/>
<path d="M1733.8,246.2C1733.8,229 1738.1,212.5 1742.2,212.5C1746.2,212.5 1750.5,229 1750.5,246.2Z" fill="url(#g226)"/>
<path d="M1550.1,247.4C1550.1,215.5 1556.4,189.9 1562.2,189.9C1568,189.9 1574.2,215.5 1574.2,247.4Z" fill="url(#g184)"/>
<path d="M1721.6,248.3C1721.6,208.2 1729.9,177.6 1737.5,177.6C1745.2,177.6 1753.5,208.2 1753.5,248.3Z" fill="url(#g185)"/>
<path d="M1527.8,252.3C1527.8,233.6 1532.7,216.2 1537.3,216.2C1541.9,216.2 1546.8,233.6 1546.8,252.3Z" fill="url(#g67)"/>
<path d="M1571.1,253.1C1571.1,233.7 1575.9,215.8 1580.4,215.8C1584.8,215.8 1589.6,233.7 1589.6,253.1Z" fill="url(#g32)"/>
<path d="M1662.4,254.8C1662.4,221.7 1668.3,195.5 1673.8,195.5C1679.3,195.5 1685.3,221.7 1685.3,254.8Z" fill="url(#g191)"/>
<path d="M1513,254.8C1513,228.3 1518.1,206 1522.8,206C1527.5,206 1532.6,228.3 1532.6,254.8Z" fill="url(#g41)"/>
<path d="M1588.8,256.2C1588.8,224 1594.5,198.3 1599.8,198.3C1605.1,198.3 1610.8,224 1610.8,256.2Z" fill="url(#g184)"/>
<path d="M1720.7,256.3C1720.7,228 1726.2,204.7 1731.2,204.7C1736.2,204.7 1741.7,228 1741.7,256.3Z" fill="url(#g4)"/>
<path d="M1764.4,258.7C1764.4,241.9 1768.8,225.5 1772.8,225.5C1776.8,225.5 1781.1,241.9 1781.1,258.7Z" fill="url(#g175)"/>
<path d="M1493.4,259.1C1493.4,238.7 1497.8,220.2 1501.8,220.2C1505.8,220.2 1510.1,238.7 1510.1,259.1Z" fill="url(#g147)"/>
<path d="M1611.2,260.2C1611.2,233.8 1615.5,211.7 1619.5,211.7C1623.5,211.7 1627.8,233.8 1627.8,260.2Z" fill="url(#g4)"/>
<path d="M1504.2,264.1C1504.2,246.8 1508.4,230.1 1512.3,230.1C1516.2,230.1 1520.4,246.8 1520.4,264.1Z" fill="url(#g13)"/>
<path d="M1750.1,264.5C1750.1,246.4 1754.2,229.3 1758,229.3C1761.8,229.3 1765.9,246.4 1765.9,264.5Z" fill="url(#g175)"/>
<path d="M1776.7,266.4C1776.7,248.9 1780.9,232.2 1784.8,232.2C1788.7,232.2 1792.9,248.9 1792.9,266.4Z" fill="url(#g164)"/>
<path d="M1680.1,266.5C1680.1,240.2 1684.8,218.1 1689.1,218.1C1693.4,218.1 1698.1,240.2 1698.1,266.5Z" fill="url(#g4)"/>
<path d="M1642.3,271C1642.3,247.5 1646.3,227.1 1650.1,227.1C1653.8,227.1 1657.9,247.5 1657.9,271Z" fill="url(#g5)"/>
<path d="M1517.4,274C1517.4,253.9 1521.8,235.5 1525.9,235.5C1530,235.5 1534.4,253.9 1534.4,274Z" fill="url(#g147)"/>
<path d="M1725,275.1C1725,249.5 1729.6,227.8 1733.8,227.8C1738,227.8 1742.6,249.5 1742.6,275.1Z" fill="url(#g174)"/>
<path d="M1741.3,275.4C1741.3,247.6 1746.5,224.5 1751.3,224.5C1756.2,224.5 1761.4,247.6 1761.4,275.4Z" fill="url(#g163)"/>
<path d="M1786.3,275.9C1786.3,263.8 1790.2,250.4 1793.9,250.4C1797.5,250.4 1801.4,263.8 1801.4,275.9Z" fill="url(#g225)"/>
<path d="M1542.3,276.1C1542.3,246.4 1548.6,222.2 1554.5,222.2C1560.3,222.2 1566.6,246.4 1566.6,276.1Z" fill="url(#g2)"/>
<path d="M1703.5,276.3C1703.5,252.2 1707.8,231.4 1711.7,231.4C1715.7,231.4 1720,252.2 1720,276.3Z" fill="url(#g4)"/>
<path d="M1499.6,277C1499.6,201.4 1509.9,149.1 1519.4,149.1C1528.9,149.1 1539.2,201.4 1539.2,277Z" fill="url(#g228)"/>
<path d="M1594.4,278.3C1594.4,255.5 1598.3,235.5 1602,235.5C1605.7,235.5 1609.6,255.5 1609.6,278.3Z" fill="url(#g199)"/>
<path d="M1474.2,280.1C1474.2,259.2 1478.3,240.4 1482,240.4C1485.8,240.4 1489.9,259.2 1489.9,280.1Z" fill="url(#g167)"/>
<path d="M1664.5,280.9C1664.5,256.1 1669.4,235 1674,235C1678.6,235 1683.5,256.1 1683.5,280.9Z" fill="url(#g4)"/>
<path d="M1447,282.3C1447,249.8 1453.1,223.8 1458.8,223.8C1464.4,223.8 1470.6,249.8 1470.6,282.3Z" fill="url(#g207)"/>
<path d="M1620.2,284C1620.2,252.9 1625.9,227.8 1631.1,227.8C1636.3,227.8 1642,252.9 1642,284Z" fill="url(#g190)"/>
<path d="M1499.5,288.4C1499.5,266.9 1503.8,247.8 1507.8,247.8C1511.8,247.8 1516.1,266.9 1516.1,288.4Z" fill="url(#g70)"/>
<path d="M1804.6,290.7C1804.6,271.9 1808.4,254.4 1811.8,254.4C1815.3,254.4 1819.1,271.9 1819.1,290.7Z" fill="url(#g43)"/>
<path d="M1727.1,291.8C1727.1,271.1 1731.7,252.4 1735.9,252.4C1740.1,252.4 1744.7,271.1 1744.7,291.8Z" fill="url(#g147)"/>
<path d="M1764.4,292.3C1764.4,262.3 1769.6,237.9 1774.4,237.9C1779.2,237.9 1784.4,262.3 1784.4,292.3Z" fill="url(#g153)"/>
<path d="M1532.4,293.1C1532.4,260.3 1539.3,234.2 1545.7,234.2C1552.1,234.2 1559.1,260.3 1559.1,293.1Z" fill="url(#g187)"/>
<path d="M1519,293.2C1519,264.1 1524.1,240.3 1528.8,240.3C1533.5,240.3 1538.6,264.1 1538.6,293.2Z" fill="url(#g134)"/>
<path d="M1599.7,295.6C1599.7,276.6 1604.7,259 1609.4,259C1614.1,259 1619.2,276.6 1619.2,295.6Z" fill="url(#g31)"/>
<path d="M1430,296.5C1430,264.8 1436.3,239.4 1442.1,239.4C1447.9,239.4 1454.2,264.8 1454.2,296.5Z" fill="url(#g206)"/>
<path d="M1436.9,298C1436.9,284.1 1441.3,269.6 1445.4,269.6C1449.5,269.6 1453.9,284.1 1453.9,298Z" fill="url(#g215)"/>
<path d="M1489.1,298.5C1489.1,275.5 1493.8,255.4 1498.1,255.4C1502.5,255.4 1507.2,275.5 1507.2,298.5Z" fill="url(#g203)"/>
<path d="M1583.2,299.1C1583.2,269.1 1589.6,244.7 1595.4,244.7C1601.3,244.7 1607.6,269.1 1607.6,299.1Z" fill="url(#g2)"/>
<path d="M1780.6,299.7C1780.6,251.3 1789.7,215.6 1798.1,215.6C1806.5,215.6 1815.7,251.3 1815.7,299.7Z" fill="url(#g144)"/>
<path d="M1805.4,300.5C1805.4,271.6 1811.5,247.9 1817.1,247.9C1822.7,247.9 1828.8,271.6 1828.8,300.5Z" fill="url(#g11)"/>
<path d="M1646.9,300.9C1646.9,273.3 1651.8,250.4 1656.3,250.4C1660.8,250.4 1665.8,273.3 1665.8,300.9Z" fill="url(#g184)"/>
<path d="M1702,301.1C1702,267.7 1708.9,241.2 1715.2,241.2C1721.6,241.2 1728.5,267.7 1728.5,301.1Z" fill="url(#g39)"/>
<path d="M1674.5,301.3C1674.5,268 1681.6,241.5 1688.1,241.5C1694.7,241.5 1701.7,268 1701.7,301.3Z" fill="url(#g173)"/>
<path d="M1826.6,301.9C1826.6,280.8 1830.8,261.9 1834.6,261.9C1838.5,261.9 1842.7,280.8 1842.7,301.9Z" fill="url(#g81)"/>
<path d="M1567.4,302.8C1567.4,281.5 1572,262.5 1576.2,262.5C1580.4,262.5 1585,281.5 1585,302.8Z" fill="url(#g167)"/>
<path d="M1830.1,304.8C1830.1,287.6 1834.2,271.1 1838,271.1C1841.8,271.1 1845.9,287.6 1845.9,304.8Z" fill="url(#g138)"/>
<path d="M1732.1,306.3C1732.1,271.3 1739.8,243.8 1746.9,243.8C1754,243.8 1761.6,271.3 1761.6,306.3Z" fill="url(#g152)"/>
<path d="M1624.9,308.1C1624.9,288.2 1629.3,270.1 1633.4,270.1C1637.5,270.1 1641.9,288.2 1641.9,308.1Z" fill="url(#g183)"/>
<path d="M1660.9,309.5C1660.9,290.3 1665,272.5 1668.8,272.5C1672.6,272.5 1676.7,290.3 1676.7,309.5Z" fill="url(#g31)"/>
<path d="M1590.8,310.5C1590.8,255.6 1600.1,215.9 1608.8,215.9C1617.4,215.9 1626.8,255.6 1626.8,310.5Z" fill="url(#g229)"/>
<path d="M1543.2,311C1543.2,285 1547.9,263.1 1552.2,263.1C1556.5,263.1 1561.2,285 1561.2,311Z" fill="url(#g27)"/>
<path d="M1727.6,315.7C1727.6,288.5 1733.2,265.9 1738.3,265.9C1743.5,265.9 1749.1,288.5 1749.1,315.7Z" fill="url(#g54)"/>
<path d="M1574,316.7C1574,294.1 1578,274.2 1581.7,274.2C1585.3,274.2 1589.3,294.1 1589.3,316.7Z" fill="url(#g18)"/>
<path d="M1848,316.9C1848,302.2 1852.1,287.2 1855.9,287.2C1859.7,287.2 1863.8,302.2 1863.8,316.9Z" fill="url(#g224)"/>
<path d="M1493.3,317.4C1493.3,289.9 1498.6,267.1 1503.4,267.1C1508.3,267.1 1513.6,289.9 1513.6,317.4Z" fill="url(#g27)"/>
<path d="M1643.3,319C1643.3,292.1 1648.1,269.7 1652.5,269.7C1656.8,269.7 1661.6,292.1 1661.6,319Z" fill="url(#g41)"/>
<path d="M1589.8,319.4C1589.8,288 1596.1,262.7 1601.8,262.7C1607.6,262.7 1613.8,288 1613.8,319.4Z" fill="url(#g51)"/>
<path d="M1619.7,320.6C1619.7,300.4 1624,282.1 1628,282.1C1631.9,282.1 1636.2,300.4 1636.2,320.6Z" fill="url(#g172)"/>
<path d="M1408.6,320.8C1408.6,299.7 1413.2,280.8 1417.5,280.8C1421.7,280.8 1426.3,299.7 1426.3,320.8Z" fill="url(#g188)"/>
<path d="M1412.5,320.9C1412.5,296.2 1416.6,275.1 1420.5,275.1C1424.4,275.1 1428.6,296.2 1428.6,320.9Z" fill="url(#g214)"/>
<path d="M1829.9,322.3C1829.9,288.8 1835.8,262.3 1841.3,262.3C1846.8,262.3 1852.7,288.8 1852.7,322.3Z" fill="url(#g131)"/>
<path d="M1686.4,323.7C1686.4,275.6 1694.5,240.2 1702,240.2C1709.6,240.2 1717.7,275.6 1717.7,323.7Z" fill="url(#g151)"/>
<path d="M1757.3,323.9C1757.3,305.3 1762,287.9 1766.4,287.9C1770.8,287.9 1775.6,305.3 1775.6,323.9Z" fill="url(#g10)"/>
<path d="M1649.1,329.9C1649.1,300.3 1655.1,276.1 1660.6,276.1C1666.1,276.1 1672.2,300.3 1672.2,329.9Z" fill="url(#g162)"/>
<path d="M1762,332.4C1762,301.9 1767.3,277.3 1772.2,277.3C1777.1,277.3 1782.3,301.9 1782.3,332.4Z" fill="url(#g125)"/>
<path d="M1863.1,332.8C1863.1,311.2 1867.3,292 1871.2,292C1875,292 1879.2,311.2 1879.2,332.8Z" fill="url(#g223)"/>
<path d="M1849.4,332.9C1849.4,308.2 1853.7,287 1857.6,287C1861.6,287 1865.8,308.2 1865.8,332.9Z" fill="url(#g121)"/>
<path d="M1428.8,333.6C1428.8,305.5 1433.8,282.2 1438.4,282.2C1442.9,282.2 1447.9,305.5 1447.9,333.6Z" fill="url(#g163)"/>
<path d="M1812,334.7C1812,317.1 1816.2,300.4 1820,300.4C1823.8,300.4 1827.9,317.1 1827.9,334.7Z" fill="url(#g86)"/>
<path d="M1546.1,334.9C1546.1,311.7 1550.5,291.5 1554.5,291.5C1558.5,291.5 1562.9,311.7 1562.9,334.9Z" fill="url(#g84)"/>
<path d="M1525.6,335.1C1525.6,314.4 1530,295.8 1534.1,295.8C1538.1,295.8 1542.5,314.4 1542.5,335.1Z" fill="url(#g43)"/>
<path d="M1738,335.6C1738,310.7 1742.8,289.4 1747.3,289.4C1751.8,289.4 1756.6,310.7 1756.6,335.6Z" fill="url(#g143)"/>
<path d="M1394.1,337.8C1394.1,308.8 1399.2,285.1 1403.8,285.1C1408.5,285.1 1413.6,308.8 1413.6,337.8Z" fill="url(#g205)"/>
<path d="M1379,340.8C1379,314.4 1384,292.2 1388.7,292.2C1393.3,292.2 1398.4,314.4 1398.4,340.8Z" fill="url(#g213)"/>
<path d="M1589.3,341.9C1589.3,309.3 1595.1,283.4 1600.4,283.4C1605.7,283.4 1611.4,309.3 1611.4,341.9Z" fill="url(#g156)"/>
<path d="M1884.9,343C1884.9,327.1 1888.8,311.4 1892.4,311.4C1895.9,311.4 1899.8,327.1 1899.8,343Z" fill="url(#g222)"/>
<path d="M1467.9,343.4C1467.9,304.9 1476.4,275.3 1484.3,275.3C1492.1,275.3 1500.7,304.9 1500.7,343.4Z" fill="url(#g198)"/>
<path d="M1455.8,343.5C1455.8,316.4 1461.1,293.8 1466,293.8C1470.9,293.8 1476.1,316.4 1476.1,343.5Z" fill="url(#g41)"/>
<path d="M1645.3,344.3C1645.3,325.3 1650,307.7 1654.4,307.7C1658.8,307.7 1663.6,325.3 1663.6,344.3Z" fill="url(#g43)"/>
<path d="M1866,344.3C1866,320.1 1870.7,299.3 1875,299.3C1879.2,299.3 1883.9,320.1 1883.9,344.3Z" fill="url(#g110)"/>
<path d="M1571.3,344.7C1571.3,326 1576,308.5 1580.3,308.5C1584.7,308.5 1589.4,326 1589.4,344.7Z" fill="url(#g82)"/>
<path d="M1794,345.6C1794,315.7 1799.5,291.3 1804.6,291.3C1809.7,291.3 1815.1,315.7 1815.1,345.6Z" fill="url(#g115)"/>
<path d="M1490.1,346.2C1490.1,325.2 1494.4,306.3 1498.3,306.3C1502.3,306.3 1506.6,325.2 1506.6,346.2Z" fill="url(#g147)"/>
<path d="M1520.8,347C1520.8,311.6 1527.7,283.8 1534.2,283.8C1540.7,283.8 1547.7,311.6 1547.7,347Z" fill="url(#g182)"/>
<path d="M1826.8,347.4C1826.8,329.2 1831.7,312 1836.3,312C1840.9,312 1845.9,329.2 1845.9,347.4Z" fill="url(#g37)"/>
<path d="M1676.3,349.5C1676.3,326.4 1680.7,306.2 1684.7,306.2C1688.7,306.2 1693,326.4 1693,349.5Z" fill="url(#g150)"/>
<path d="M1372.1,351.8C1372.1,324 1378,301 1383.4,301C1388.9,301 1394.8,324 1394.8,351.8Z" fill="url(#g196)"/>
<path d="M1689.2,352.4C1689.2,331.2 1693,312.2 1696.4,312.2C1699.9,312.2 1703.7,331.2 1703.7,352.4Z" fill="url(#g62)"/>
<path d="M1713.8,353.1C1713.8,323.3 1719.3,299.1 1724.3,299.1C1729.4,299.1 1734.9,323.3 1734.9,353.1Z" fill="url(#g125)"/>
<path d="M1410.6,356.6C1410.6,323.3 1417.1,297 1423,297C1428.9,297 1435.4,323.3 1435.4,356.6Z" fill="url(#g25)"/>
<path d="M1655.5,356.9C1655.5,319.1 1662.4,289.9 1668.8,289.9C1675.3,289.9 1682.2,319.1 1682.2,356.9Z" fill="url(#g29)"/>
<path d="M1807.7,359.2C1807.7,327.9 1813.4,302.8 1818.6,302.8C1823.8,302.8 1829.5,327.9 1829.5,359.2Z" fill="url(#g120)"/>
<path d="M1735.9,363.3C1735.9,335.6 1741.2,312.6 1746,312.6C1750.9,312.6 1756.1,335.6 1756.1,363.3Z" fill="url(#g137)"/>
<path d="M1511.7,363.4C1511.7,339.5 1516.2,318.8 1520.3,318.8C1524.4,318.8 1528.9,339.5 1528.9,363.4Z" fill="url(#g181)"/>
<path d="M1351.9,364.1C1351.9,343 1355.6,324 1359,324C1362.4,324 1366,343 1366,364.1Z" fill="url(#g197)"/>
<path d="M1876.4,364.2C1876.4,345.7 1880.4,328.3 1884,328.3C1887.6,328.3 1891.5,345.7 1891.5,364.2Z" fill="url(#g60)"/>
<path d="M1438.6,365C1438.6,344.4 1443.2,325.7 1447.3,325.7C1451.5,325.7 1456.1,344.4 1456.1,365Z" fill="url(#g197)"/>
<path d="M1887.1,366.1C1887.1,340.1 1891.8,318.2 1896.1,318.2C1900.4,318.2 1905.1,340.1 1905.1,366.1Z" fill="url(#g102)"/>
<path d="M1913,366.3C1913,352.7 1916.9,338.3 1920.5,338.3C1924.1,338.3 1928,352.7 1928,366.3Z" fill="url(#g221)"/>
<path d="M1640.4,366.9C1640.4,334.4 1645.9,308.4 1651,308.4C1656,308.4 1661.5,334.4 1661.5,366.9Z" fill="url(#g149)"/>
<path d="M1393.9,368.1C1393.9,340.8 1399.1,318.1 1404,318.1C1408.8,318.1 1414,340.8 1414,368.1Z" fill="url(#g196)"/>
<path d="M1767.7,369.8C1767.7,341.9 1773.1,318.8 1778.1,318.8C1783.1,318.8 1788.4,341.9 1788.4,369.8Z" fill="url(#g130)"/>
<path d="M1350.6,370.7C1350.6,340.9 1355.8,316.6 1360.6,316.6C1365.4,316.6 1370.6,340.9 1370.6,370.7Z" fill="url(#g202)"/>
<path d="M1830.2,371.3C1830.2,334.4 1838,305.7 1845.3,305.7C1852.5,305.7 1860.3,334.4 1860.3,371.3Z" fill="url(#g109)"/>
<path d="M1582.2,371.4C1582.2,345.7 1587.2,324 1591.9,324C1596.5,324 1601.5,345.7 1601.5,371.4Z" fill="url(#g161)"/>
<path d="M1455.7,371.4C1455.7,348.2 1460.2,327.9 1464.4,327.9C1468.6,327.9 1473.2,348.2 1473.2,371.4Z" fill="url(#g189)"/>
<path d="M1702.7,371.9C1702.7,344.8 1707.6,322.3 1712.1,322.3C1716.7,322.3 1721.6,344.8 1721.6,371.9Z" fill="url(#g56)"/>
<path d="M1604.7,373C1604.7,341.3 1611.7,315.8 1618.2,315.8C1624.6,315.8 1631.6,341.3 1631.6,373Z" fill="url(#g72)"/>
<path d="M1671.6,377.3C1671.6,356.4 1676.1,337.6 1680.3,337.6C1684.5,337.6 1689,356.4 1689,377.3Z" fill="url(#g62)"/>
<path d="M1560.5,377.6C1560.5,352.8 1565.6,331.6 1570.4,331.6C1575.1,331.6 1580.3,352.8 1580.3,377.6Z" fill="url(#g83)"/>
<path d="M1376.6,377.6C1376.6,358.8 1381.5,341.3 1386.1,341.3C1390.6,341.3 1395.5,358.8 1395.5,377.6Z" fill="url(#g31)"/>
<path d="M1317.9,378.6C1317.9,354.9 1322.4,334.4 1326.5,334.4C1330.7,334.4 1335.1,354.9 1335.1,378.6Z" fill="url(#g188)"/>
<path d="M1540.8,379.4C1540.8,332.9 1550.1,298.4 1558.7,298.4C1567.2,298.4 1576.5,332.9 1576.5,379.4Z" fill="url(#g171)"/>
<path d="M1749.4,379.9C1749.4,355.7 1754,334.9 1758.2,334.9C1762.5,334.9 1767.1,355.7 1767.1,379.9Z" fill="url(#g129)"/>
<path d="M1924.3,380.9C1924.3,357.5 1928.4,337.2 1932.3,337.2C1936.1,337.2 1940.3,357.5 1940.3,380.9Z" fill="url(#g90)"/>
<path d="M1638.5,381.5C1638.5,364 1643.5,347.2 1648.1,347.2C1652.7,347.2 1657.7,364 1657.7,381.5Z" fill="url(#g10)"/>
<path d="M1531.3,381.7C1531.3,354.1 1537.1,331.2 1542.5,331.2C1547.9,331.2 1553.7,354.1 1553.7,381.7Z" fill="url(#g42)"/>
<path d="M1321.5,381.8C1321.5,352 1328,327.6 1334,327.6C1340,327.6 1346.4,352 1346.4,381.8Z" fill="url(#g202)"/>
<path d="M1725.2,387.3C1725.2,367.6 1730.2,349.5 1734.8,349.5C1739.4,349.5 1744.4,367.6 1744.4,387.3Z" fill="url(#g126)"/>
<path d="M1432.8,387.7C1432.8,357.1 1439.4,332.3 1445.5,332.3C1451.6,332.3 1458.2,357.1 1458.2,387.7Z" fill="url(#g40)"/>
<path d="M1401.6,389C1401.6,362.6 1406.7,340.4 1411.4,340.4C1416.1,340.4 1421.2,362.6 1421.2,389Z" fill="url(#g196)"/>
<path d="M1807.9,389.6C1807.9,367.6 1812.1,348.1 1816.1,348.1C1820,348.1 1824.2,367.6 1824.2,389.6Z" fill="url(#g89)"/>
<path d="M1755.1,390.3C1755.1,348.1 1762.5,316.2 1769.4,316.2C1776.3,316.2 1783.8,348.1 1783.8,390.3Z" fill="url(#g119)"/>
<path d="M1491.8,391.4C1491.8,360.6 1498.4,335.7 1504.5,335.7C1510.6,335.7 1517.3,360.6 1517.3,391.4Z" fill="url(#g47)"/>
<path d="M1933.7,392C1933.7,379.9 1937.5,366.6 1941,366.6C1944.5,366.6 1948.3,379.9 1948.3,392Z" fill="url(#g220)"/>
<path d="M1598.4,392.3C1598.4,358.1 1606,331.1 1613,331.1C1620,331.1 1627.6,358.1 1627.6,392.3Z" fill="url(#g230)"/>
<path d="M1682,392.4C1682,369.8 1686.4,349.9 1690.5,349.9C1694.6,349.9 1699.1,369.8 1699.1,392.4Z" fill="url(#g136)"/>
<path d="M1620,393.4C1620,365.5 1624.7,342.4 1629,342.4C1633.3,342.4 1637.9,365.5 1637.9,393.4Z" fill="url(#g88)"/>
<path d="M1595.8,394.7C1595.8,369.6 1600.1,348.2 1604.1,348.2C1608.1,348.2 1612.4,369.6 1612.4,394.7Z" fill="url(#g58)"/>
<path d="M1664.9,395.8C1664.9,377.6 1669.3,360.5 1673.3,360.5C1677.3,360.5 1681.7,377.6 1681.7,395.8Z" fill="url(#g65)"/>
<path d="M1396.9,397.8C1396.9,364.2 1402.8,337.6 1408.3,337.6C1413.7,337.6 1419.6,364.2 1419.6,397.8Z" fill="url(#g173)"/>
<path d="M1905.3,398.4C1905.3,376.9 1910.1,357.7 1914.4,357.7C1918.8,357.7 1923.6,376.9 1923.6,398.4Z" fill="url(#g89)"/>
<path d="M1744.5,398.7C1744.5,379 1748.8,360.9 1752.8,360.9C1756.8,360.9 1761.2,379 1761.2,398.7Z" fill="url(#g118)"/>
<path d="M1938.2,399.3C1938.2,363.9 1945.6,336.2 1952.5,336.2C1959.3,336.2 1966.7,363.9 1966.7,399.3Z" fill="url(#g77)"/>
<path d="M1694.7,399.5C1694.7,365.9 1701.7,339.3 1708.1,339.3C1714.5,339.3 1721.5,365.9 1721.5,399.5Z" fill="url(#g128)"/>
<path d="M1334.6,400.2C1334.6,371.4 1339.6,347.7 1344.2,347.7C1348.8,347.7 1353.9,371.4 1353.9,400.2Z" fill="url(#g202)"/>
<path d="M1827.3,400.9C1827.3,375.6 1832.1,354 1836.5,354C1840.9,354 1845.6,375.6 1845.6,400.9Z" fill="url(#g101)"/>
<path d="M1295.7,402.4C1295.7,379.9 1299.6,360.1 1303.3,360.1C1307,360.1 1310.9,379.9 1310.9,402.4Z" fill="url(#g188)"/>
<path d="M1423.2,402.5C1423.2,380.2 1428.2,360.5 1432.9,360.5C1437.5,360.5 1442.5,380.2 1442.5,402.5Z" fill="url(#g188)"/>
<path d="M1316.6,404.7C1316.6,380.7 1320.7,359.9 1324.4,359.9C1328.1,359.9 1332.1,380.7 1332.1,404.7Z" fill="url(#g189)"/>
<path d="M1549.4,406.3C1549.4,373 1556.5,346.6 1563.1,346.6C1569.6,346.6 1576.7,373 1576.7,406.3Z" fill="url(#g71)"/>
<path d="M1262.9,406.9C1262.9,380.2 1267.6,357.9 1272,357.9C1276.4,357.9 1281.1,380.2 1281.1,406.9Z" fill="url(#g142)"/>
<path d="M1788.8,407.8C1788.8,373.4 1795.6,346.3 1801.9,346.3C1808.2,346.3 1815,373.4 1815,407.8Z" fill="url(#g108)"/>
<path d="M1846.8,408.2C1846.8,386.5 1851.2,367.1 1855.3,367.1C1859.4,367.1 1863.9,386.5 1863.9,408.2Z" fill="url(#g35)"/>
<path d="M1257.2,408.3C1257.2,389.3 1261.1,371.6 1264.7,371.6C1268.2,371.6 1272.1,389.3 1272.1,408.3Z" fill="url(#g53)"/>
<path d="M1496.7,411.2C1496.7,383 1502.3,359.7 1507.4,359.7C1512.6,359.7 1518.2,383 1518.2,411.2Z" fill="url(#g170)"/>
<path d="M1232.5,411.4C1232.5,391.2 1236.9,372.8 1241,372.8C1245,372.8 1249.4,391.2 1249.4,411.4Z" fill="url(#g126)"/>
<path d="M1599.6,412.1C1599.6,384.5 1605.3,361.7 1610.5,361.7C1615.7,361.7 1621.4,384.5 1621.4,412.1Z" fill="url(#g11)"/>
<path d="M1468.7,413.4C1468.7,394.1 1472.7,376.3 1476.4,376.3C1480.1,376.3 1484.1,394.1 1484.1,413.4Z" fill="url(#g31)"/>
<path d="M1230.3,413.8C1230.3,405.6 1234,394.6 1237.4,394.6C1240.8,394.6 1244.5,405.6 1244.5,413.8Z" fill="url(#g212)"/>
<path d="M1363.2,414.3C1363.2,392.5 1368.3,373.2 1373,373.2C1377.7,373.2 1382.8,392.5 1382.8,414.3Z" fill="url(#g172)"/>
<path d="M1630.2,415.7C1630.2,387 1635.7,363.4 1640.8,363.4C1645.9,363.4 1651.4,387 1651.4,415.7Z" fill="url(#g135)"/>
<path d="M1397.1,417.1C1397.1,387.1 1402.8,362.8 1408,362.8C1413.3,362.8 1418.9,387.1 1418.9,417.1Z" fill="url(#g160)"/>
<path d="M1868.4,418.2C1868.4,387.1 1874.1,362 1879.4,362C1884.7,362 1890.4,387.1 1890.4,418.2Z" fill="url(#g72)"/>
<path d="M1386.9,418.8C1386.9,400.2 1391.2,382.8 1395.2,382.8C1399.2,382.8 1403.5,400.2 1403.5,418.8Z" fill="url(#g158)"/>
<path d="M1215.1,418.9C1215.1,389.8 1220.2,366 1224.9,366C1229.7,366 1234.8,389.8 1234.8,418.9Z" fill="url(#g120)"/>
<path d="M1521.4,419.2C1521.4,391.3 1526.1,368.3 1530.5,368.3C1534.8,368.3 1539.5,391.3 1539.5,419.2Z" fill="url(#g160)"/>
<path d="M1779.7,420.7C1779.7,399.9 1784.3,381.1 1788.6,381.1C1792.9,381.1 1797.5,399.9 1797.5,420.7Z" fill="url(#g37)"/>
<path d="M1675.8,421.1C1675.8,398 1680.8,377.8 1685.5,377.8C1690.1,377.8 1695.2,398 1695.2,421.1Z" fill="url(#g127)"/>
<path d="M1559.2,421.7C1559.2,403.8 1563.2,386.8 1566.8,386.8C1570.5,386.8 1574.5,403.8 1574.5,421.7Z" fill="url(#g8)"/>
<path d="M1951.6,421.8C1951.6,399.8 1956.2,380.4 1960.4,380.4C1964.6,380.4 1969.1,399.8 1969.1,421.8Z" fill="url(#g68)"/>
<path d="M1952.3,423.1C1952.3,402.4 1955.9,383.7 1959.3,383.7C1962.6,383.7 1966.3,402.4 1966.3,423.1Z" fill="url(#g219)"/>
<path d="M1734.4,424.4C1734.4,399.6 1739.2,378.3 1743.5,378.3C1747.9,378.3 1752.6,399.6 1752.6,424.4Z" fill="url(#g101)"/>
<path d="M1352,424.7C1352,405.5 1356.9,387.8 1361.3,387.8C1365.8,387.8 1370.6,405.5 1370.6,424.7Z" fill="url(#g159)"/>
<path d="M1544.4,425C1544.4,407.3 1549.2,390.4 1553.7,390.4C1558.2,390.4 1563.1,407.3 1563.1,425Z" fill="url(#g13)"/>
<path d="M1260,425.2C1260,403.4 1263.9,384 1267.6,384C1271.2,384 1275.1,403.4 1275.1,425.2Z" fill="url(#g81)"/>
<path d="M1304,426.3C1304,409.1 1307.9,392.5 1311.4,392.5C1314.9,392.5 1318.8,409.1 1318.8,426.3Z" fill="url(#g201)"/>
<path d="M1661.4,426.3C1661.4,406.5 1665.6,388.3 1669.4,388.3C1673.3,388.3 1677.5,406.5 1677.5,426.3Z" fill="url(#g126)"/>
<path d="M1272.8,427.6C1272.8,395.4 1278.5,369.6 1283.8,369.6C1289.1,369.6 1294.8,395.4 1294.8,427.6Z" fill="url(#g71)"/>
<path d="M1456.1,428.2C1456.1,401.1 1461.5,378.5 1466.4,378.5C1471.4,378.5 1476.8,401.1 1476.8,428.2Z" fill="url(#g169)"/>
<path d="M1413.7,428.5C1413.7,394.9 1421,368.2 1427.8,368.2C1434.6,368.2 1442,394.9 1442,428.5Z" fill="url(#g179)"/>
<path d="M1441.1,429.2C1441.1,398.5 1446.6,373.6 1451.7,373.6C1456.8,373.6 1462.3,398.5 1462.3,429.2Z" fill="url(#g180)"/>
<path d="M1483.4,429.5C1483.4,402.1 1488.3,379.2 1492.8,379.2C1497.4,379.2 1502.3,402.1 1502.3,429.5Z" fill="url(#g163)"/>
<path d="M1834.7,431.5C1834.7,400.7 1840.4,375.9 1845.7,375.9C1850.9,375.9 1856.6,400.7 1856.6,431.5Z" fill="url(#g64)"/>
<path d="M1959.9,431.6C1959.9,404.7 1965.5,382.3 1970.8,382.3C1976,382.3 1981.7,404.7 1981.7,431.6Z" fill="url(#g59)"/>
<path d="M1504.1,432.7C1504.1,411.4 1509.1,392.3 1513.8,392.3C1518.5,392.3 1523.5,411.4 1523.5,432.7Z" fill="url(#g159)"/>
<path d="M1631.9,434.3C1631.9,412.7 1635.9,393.5 1639.6,393.5C1643.4,393.5 1647.4,412.7 1647.4,434.3Z" fill="url(#g62)"/>
<path d="M1812.6,434.3C1812.6,393.8 1819.7,363 1826.2,363C1832.7,363 1839.8,393.8 1839.8,434.3Z" fill="url(#g100)"/>
<path d="M1787.7,436.6C1787.7,412.8 1791.7,392.3 1795.4,392.3C1799.1,392.3 1803.2,412.8 1803.2,436.6Z" fill="url(#g99)"/>
<path d="M1357.7,438.6C1357.7,406.1 1364.8,380.2 1371.4,380.2C1378,380.2 1385.1,406.1 1385.1,438.6Z" fill="url(#g51)"/>
<path d="M1982.2,440.5C1982.2,427 1986.2,412.7 1989.9,412.7C1993.6,412.7 1997.7,427 1997.7,440.5Z" fill="url(#g218)"/>
<path d="M1585.5,442.3C1585.5,409.6 1591.5,383.5 1597,383.5C1602.6,383.5 1608.6,409.6 1608.6,442.3Z" fill="url(#g71)"/>
<path d="M1293.6,443.2C1293.6,425.7 1298.3,408.9 1302.7,408.9C1307,408.9 1311.8,425.7 1311.8,443.2Z" fill="url(#g132)"/>
<path d="M1318.1,443.2C1318.1,417.9 1323.4,396.3 1328.3,396.3C1333.1,396.3 1338.4,417.9 1338.4,443.2Z" fill="url(#g195)"/>
<path d="M1399.7,443.6C1399.7,417.5 1404.5,395.5 1408.8,395.5C1413.2,395.5 1418,417.5 1418,443.6Z" fill="url(#g41)"/>
<path d="M1477.1,444.2C1477.1,425 1481.3,407.3 1485.1,407.3C1488.9,407.3 1493,425 1493,444.2Z" fill="url(#g158)"/>
<path d="M1932.9,446.8C1932.9,415.2 1938.9,389.8 1944.4,389.8C1949.8,389.8 1955.8,415.2 1955.8,446.8Z" fill="url(#g64)"/>
<path d="M1449.6,446.8C1449.6,418.6 1455.5,395.2 1460.9,395.2C1466.2,395.2 1472.1,418.6 1472.1,446.8Z" fill="url(#g160)"/>
<path d="M1371.9,447.4C1371.9,420.4 1377.5,397.9 1382.7,397.9C1388,397.9 1393.6,420.4 1393.6,447.4Z" fill="url(#g142)"/>
<path d="M1808.7,448.3C1808.7,419.1 1814.2,395.2 1819.2,395.2C1824.2,395.2 1829.7,419.1 1829.7,448.3Z" fill="url(#g88)"/>
<path d="M1884.9,448.6C1884.9,415 1892.3,388.4 1899.2,388.4C1906,388.4 1913.4,415 1913.4,448.6Z" fill="url(#g76)"/>
<path d="M1767.3,448.7C1767.3,431.1 1771.6,414.2 1775.5,414.2C1779.5,414.2 1783.7,431.1 1783.7,448.7Z" fill="url(#g86)"/>
<path d="M1558.5,452.1C1558.5,419.2 1565.5,393 1571.9,393C1578.4,393 1585.3,419.2 1585.3,452.1Z" fill="url(#g39)"/>
<path d="M1322.1,452.4C1322.1,418.9 1329,392.4 1335.3,392.4C1341.7,392.4 1348.6,418.9 1348.6,452.4Z" fill="url(#g187)"/>
<path d="M1632.8,453.8C1632.8,425.3 1638.9,401.8 1644.5,401.8C1650.1,401.8 1656.2,425.3 1656.2,453.8Z" fill="url(#g88)"/>
<path d="M1955.4,454C1955.4,429.9 1960.4,409.1 1965.1,409.1C1969.7,409.1 1974.8,429.9 1974.8,454Z" fill="url(#g58)"/>
<path d="M1686,454C1686,423.2 1692.7,398.2 1698.9,398.2C1705.1,398.2 1711.8,423.2 1711.8,454Z" fill="url(#g117)"/>
<path d="M1910.5,454.8C1910.5,427.3 1915.3,404.5 1919.8,404.5C1924.3,404.5 1929.2,427.3 1929.2,454.8Z" fill="url(#g27)"/>
<path d="M1995.7,455.4C1995.7,414.4 2002.5,383.4 2008.8,383.4C2015.1,383.4 2022,414.4 2022,455.4Z" fill="url(#g48)"/>
<path d="M1269,455.5C1269,426.4 1274.9,402.6 1280.3,402.6C1285.7,402.6 1291.5,426.4 1291.5,455.5Z" fill="url(#g194)"/>
<path d="M2000.5,456C2000.5,443.2 2004.2,429.3 2007.6,429.3C2011,429.3 2014.7,443.2 2014.7,456Z" fill="url(#g218)"/>
<path d="M1712,456.2C1712,426.4 1717,402.2 1721.6,402.2C1726.1,402.2 1731.1,426.4 1731.1,456.2Z" fill="url(#g0)"/>
<path d="M1421.5,456.3C1421.5,435.3 1426.5,416.5 1431.2,416.5C1435.9,416.5 1440.9,435.3 1440.9,456.3Z" fill="url(#g22)"/>
<path d="M1805.2,456.4C1805.2,423 1811,396.4 1816.3,396.4C1821.7,396.4 1827.5,423 1827.5,456.4Z" fill="url(#g87)"/>
<path d="M1318.7,458.2C1318.7,439.9 1323.7,422.6 1328.3,422.6C1332.9,422.6 1337.9,439.9 1337.9,458.2Z" fill="url(#g43)"/>
<path d="M1696.1,461C1696.1,433.9 1700.8,411.2 1705.1,411.2C1709.5,411.2 1714.2,433.9 1714.2,461Z" fill="url(#g20)"/>
<path d="M1470.9,461.2C1470.9,434.6 1475.7,412.3 1480.1,412.3C1484.5,412.3 1489.3,434.6 1489.3,461.2Z" fill="url(#g157)"/>
<path d="M1301.7,462.7C1301.7,430.8 1307.1,405.3 1312.2,405.3C1317.3,405.3 1322.7,430.8 1322.7,462.7Z" fill="url(#g128)"/>
<path d="M1595.9,463.3C1595.9,433.6 1601.2,409.4 1606,409.4C1610.9,409.4 1616.1,433.6 1616.1,463.3Z" fill="url(#g134)"/>
<path d="M1255.9,463.5C1255.9,439.2 1260.1,418.4 1264,418.4C1267.9,418.4 1272.1,439.2 1272.1,463.5Z" fill="url(#g49)"/>
<path d="M1536,464.2C1536,434.1 1541.2,409.6 1546,409.6C1550.8,409.6 1555.9,434.1 1555.9,464.2Z" fill="url(#g2)"/>
<path d="M1505.3,466.8C1505.3,433.2 1511.9,406.6 1518,406.6C1524.1,406.6 1530.8,433.2 1530.8,466.8Z" fill="url(#g148)"/>
<path d="M1350.3,471.9C1350.3,434.4 1358.4,405.4 1365.8,405.4C1373.3,405.4 1381.4,434.4 1381.4,471.9Z" fill="url(#g178)"/>
<path d="M1326.1,472C1326.1,443.3 1330.9,419.6 1335.3,419.6C1339.7,419.6 1344.4,443.3 1344.4,472Z" fill="url(#g88)"/>
<path d="M1673.1,472.8C1673.1,441.9 1678.7,416.9 1684,416.9C1689.2,416.9 1694.9,441.9 1694.9,472.8Z" fill="url(#g94)"/>
<path d="M1428.1,473.1C1428.1,444.9 1433.9,421.6 1439.2,421.6C1444.6,421.6 1450.3,444.9 1450.3,473.1Z" fill="url(#g42)"/>
<path d="M1575,473.5C1575,442.3 1580.6,417.2 1585.9,417.2C1591.1,417.2 1596.7,442.3 1596.7,473.5Z" fill="url(#g51)"/>
<path d="M1998.2,474.3C1998.2,453.2 2002.6,434.2 2006.7,434.2C2010.8,434.2 2015.2,453.2 2015.2,474.3Z" fill="url(#g35)"/>
<path d="M1383.7,474.3C1383.7,455 1388.7,437.2 1393.4,437.2C1398,437.2 1403,455 1403,474.3Z" fill="url(#g168)"/>
<path d="M1303.9,474.3C1303.9,449.7 1308.3,428.6 1312.4,428.6C1316.4,428.6 1320.9,449.7 1320.9,474.3Z" fill="url(#g177)"/>
<path d="M1262.2,475.9C1262.2,442.6 1269.1,416.1 1275.4,416.1C1281.7,416.1 1288.5,442.6 1288.5,475.9Z" fill="url(#g186)"/>
<path d="M2014.5,478.5C2014.5,458.9 2018.6,440.8 2022.3,440.8C2026.1,440.8 2030.2,458.9 2030.2,478.5Z" fill="url(#g37)"/>
<path d="M1707.3,479.1C1707.3,451.4 1712,428.5 1716.3,428.5C1720.7,428.5 1725.4,451.4 1725.4,479.1Z" fill="url(#g98)"/>
<path d="M1547.9,480.2C1547.9,450.8 1553.3,426.8 1558.2,426.8C1563.2,426.8 1568.5,450.8 1568.5,480.2Z" fill="url(#g2)"/>
<path d="M1779.2,480.2C1779.2,447.8 1785.5,422 1791.3,422C1797.1,422 1803.5,447.8 1803.5,480.2Z" fill="url(#g72)"/>
<path d="M1374.6,480.6C1374.6,458.1 1378.5,438.2 1382.1,438.2C1385.7,438.2 1389.6,458.1 1389.6,480.6Z" fill="url(#g167)"/>
<path d="M1972.1,482.9C1972.1,457.3 1976.5,435.7 1980.5,435.7C1984.5,435.7 1988.8,457.3 1988.8,482.9Z" fill="url(#g28)"/>
<path d="M1487,483C1487,462.2 1491.4,443.5 1495.5,443.5C1499.6,443.5 1504,462.2 1504,483Z" fill="url(#g147)"/>
<path d="M1878.5,484C1878.5,463.6 1882.6,445.1 1886.4,445.1C1890.2,445.1 1894.3,463.6 1894.3,484Z" fill="url(#g31)"/>
<path d="M1646.9,484.8C1646.9,465.6 1650.7,447.8 1654.2,447.8C1657.6,447.8 1661.4,465.6 1661.4,484.8Z" fill="url(#g44)"/>
<path d="M1831.3,485.9C1831.3,462.6 1835.2,442.3 1838.9,442.3C1842.5,442.3 1846.5,462.6 1846.5,485.9Z" fill="url(#g6)"/>
<path d="M1277.6,486.4C1277.6,453.6 1283.4,427.5 1288.7,427.5C1294.1,427.5 1299.9,453.6 1299.9,486.4Z" fill="url(#g176)"/>
<path d="M1339.2,487.4C1339.2,461.6 1343.9,439.8 1348.2,439.8C1352.6,439.8 1357.3,461.6 1357.3,487.4Z" fill="url(#g56)"/>
<path d="M1698.2,488.8C1698.2,470.1 1702.5,452.7 1706.4,452.7C1710.3,452.7 1714.5,470.1 1714.5,488.8Z" fill="url(#g97)"/>
<path d="M1451.5,490.1C1451.5,472.8 1455.8,456.1 1459.8,456.1C1463.7,456.1 1468,472.8 1468,490.1Z" fill="url(#g53)"/>
<path d="M1502.3,490.9C1502.3,464.5 1507.1,442.3 1511.6,442.3C1516,442.3 1520.8,464.5 1520.8,490.9Z" fill="url(#g142)"/>
<path d="M2016.3,491.7C2016.3,466.5 2020.9,445.1 2025.1,445.1C2029.3,445.1 2033.9,466.5 2033.9,491.7Z" fill="url(#g19)"/>
<path d="M1319.2,492.2C1319.2,448.8 1328.5,416.2 1337,416.2C1345.6,416.2 1354.9,448.8 1354.9,492.2Z" fill="url(#g166)"/>
<path d="M1616.9,492.3C1616.9,466.5 1621.7,444.7 1626.1,444.7C1630.5,444.7 1635.3,466.5 1635.3,492.3Z" fill="url(#g116)"/>
<path d="M1857.1,493C1857.1,474.4 1861.5,456.9 1865.7,456.9C1869.8,456.9 1874.3,474.4 1874.3,493Z" fill="url(#g67)"/>
<path d="M1590.5,495C1590.5,456.4 1598.3,426.7 1605.4,426.7C1612.5,426.7 1620.3,456.4 1620.3,495Z" fill="url(#g9)"/>
<path d="M1379.6,498.3C1379.6,465.5 1385.6,439.4 1391.1,439.4C1396.6,439.4 1402.6,465.5 1402.6,498.3Z" fill="url(#g156)"/>
<path d="M1739.4,499C1739.4,481.2 1743.2,464.3 1746.7,464.3C1750.3,464.3 1754.1,481.2 1754.1,499Z" fill="url(#g86)"/>
<path d="M1443.6,499.5C1443.6,473.8 1448.8,452.1 1453.6,452.1C1458.4,452.1 1463.6,473.8 1463.6,499.5Z" fill="url(#g27)"/>
<path d="M1971.7,499.7C1971.7,474.3 1976.6,452.8 1981.2,452.8C1985.8,452.8 1990.8,474.3 1990.8,499.7Z" fill="url(#g34)"/>
<path d="M1656.8,500.3C1656.8,455 1665.1,421.2 1672.7,421.2C1680.3,421.2 1688.5,455 1688.5,500.3Z" fill="url(#g107)"/>
<path d="M1578.4,500.3C1578.4,480.5 1583.1,462.4 1587.5,462.4C1591.8,462.4 1596.6,480.5 1596.6,500.3Z" fill="url(#g53)"/>
<path d="M1304.5,500.5C1304.5,469.9 1310.2,445.2 1315.4,445.2C1320.6,445.2 1326.2,469.9 1326.2,500.5Z" fill="url(#g165)"/>
<path d="M1935.6,500.8C1935.6,469.5 1941.5,444.3 1946.9,444.3C1952.3,444.3 1958.2,469.5 1958.2,500.8Z" fill="url(#g47)"/>
<path d="M1773.5,501.3C1773.5,478.8 1778,459 1782.1,459C1786.2,459 1790.6,478.8 1790.6,501.3Z" fill="url(#g74)"/>
<path d="M1537.9,502.2C1537.9,484 1542.1,466.9 1546,466.9C1550,466.9 1554.2,484 1554.2,502.2Z" fill="url(#g13)"/>
<path d="M1461.4,504.5C1461.4,478.9 1466.8,457.1 1471.7,457.1C1476.6,457.1 1482,478.9 1482,504.5Z" fill="url(#g27)"/>
<path d="M1373.2,505.2C1373.2,477.9 1378.9,455.2 1384.2,455.2C1389.5,455.2 1395.2,477.9 1395.2,505.2Z" fill="url(#g11)"/>
<path d="M1800.7,506.1C1800.7,469.4 1806.9,440.9 1812.6,440.9C1818.4,440.9 1824.6,469.4 1824.6,506.1Z" fill="url(#g75)"/>
<path d="M1890.8,506.6C1890.8,486.9 1895.1,468.8 1899.1,468.8C1903.1,468.8 1907.5,486.9 1907.5,506.6Z" fill="url(#g5)"/>
<path d="M1591.9,506.9C1591.9,486.9 1596,468.6 1599.8,468.6C1603.5,468.6 1607.6,486.9 1607.6,506.9Z" fill="url(#g70)"/>
<path d="M1758,510.3C1758,488.6 1762.7,469.3 1767,469.3C1771.4,469.3 1776,488.6 1776,510.3Z" fill="url(#g35)"/>
<path d="M1342.1,510.4C1342.1,482.1 1348.3,458.8 1354,458.8C1359.7,458.8 1365.9,482.1 1365.9,510.4Z" fill="url(#g155)"/>
<path d="M1641.3,511.3C1641.3,487.4 1646.6,466.8 1651.5,466.8C1656.3,466.8 1661.6,487.4 1661.6,511.3Z" fill="url(#g28)"/>
<path d="M1450.3,512.5C1450.3,485.3 1454.9,462.6 1459.1,462.6C1463.3,462.6 1467.8,485.3 1467.8,512.5Z" fill="url(#g1)"/>
<path d="M1673.5,514.4C1673.5,488.2 1678.4,466.1 1683,466.1C1687.5,466.1 1692.5,488.2 1692.5,514.4Z" fill="url(#g54)"/>
<path d="M1486.2,514.6C1486.2,482.4 1492.2,456.7 1497.7,456.7C1503.2,456.7 1509.2,482.4 1509.2,514.6Z" fill="url(#g133)"/>
<path d="M1552.9,514.9C1552.9,490.7 1557.3,469.9 1561.3,469.9C1565.4,469.9 1569.8,490.7 1569.8,514.9Z" fill="url(#g34)"/>
<path d="M1791.7,515.3C1791.7,484.4 1797.9,459.4 1803.6,459.4C1809.3,459.4 1815.5,484.4 1815.5,515.3Z" fill="url(#g64)"/>
<path d="M1830.4,515.6C1830.4,495.7 1835.4,477.6 1839.9,477.6C1844.5,477.6 1849.4,495.7 1849.4,515.6Z" fill="url(#g13)"/>
<path d="M1919.1,516.7C1919.1,495.9 1924.1,477.1 1928.7,477.1C1933.4,477.1 1938.4,495.9 1938.4,516.7Z" fill="url(#g5)"/>
<path d="M1696.6,517.6C1696.6,474.6 1704.7,442.3 1712.2,442.3C1719.6,442.3 1727.7,474.6 1727.7,517.6Z" fill="url(#g85)"/>
<path d="M1572.3,518.5C1572.3,494.7 1577.1,474 1581.5,474C1586,474 1590.8,494.7 1590.8,518.5Z" fill="url(#g84)"/>
<path d="M1358.7,520.6C1358.7,502.4 1363.2,485.2 1367.3,485.2C1371.4,485.2 1375.8,502.4 1375.8,520.6Z" fill="url(#g146)"/>
<path d="M1536,521.1C1536,496.7 1540.9,475.7 1545.4,475.7C1549.9,475.7 1554.8,496.7 1554.8,521.1Z" fill="url(#g84)"/>
<path d="M1999.4,521.7C1999.4,498.5 2004.4,478.3 2009.1,478.3C2013.7,478.3 2018.8,498.5 2018.8,521.7Z" fill="url(#g18)"/>
<path d="M1821.5,522C1821.5,501.2 1826,482.4 1830.1,482.4C1834.2,482.4 1838.7,501.2 1838.7,522Z" fill="url(#g66)"/>
<path d="M1962.7,522.4C1962.7,489.8 1968.2,463.8 1973.2,463.8C1978.2,463.8 1983.7,489.8 1983.7,522.4Z" fill="url(#g25)"/>
<path d="M1383.1,522.8C1383.1,498 1388.3,476.8 1393.1,476.8C1397.9,476.8 1403.1,498 1403.1,522.8Z" fill="url(#g101)"/>
<path d="M1320.8,523.1C1320.8,500.2 1324.9,480.2 1328.8,480.2C1332.6,480.2 1336.8,500.2 1336.8,523.1Z" fill="url(#g154)"/>
<path d="M1697.8,525.1C1697.8,498.7 1703,476.5 1707.7,476.5C1712.5,476.5 1717.7,498.7 1717.7,525.1Z" fill="url(#g11)"/>
<path d="M1876.6,525.1C1876.6,490.5 1883.9,463.4 1890.7,463.4C1897.4,463.4 1904.7,490.5 1904.7,525.1Z" fill="url(#g57)"/>
<path d="M1609.9,526.9C1609.9,495.4 1615.6,470.1 1620.9,470.1C1626.1,470.1 1631.8,495.4 1631.8,526.9Z" fill="url(#g71)"/>
<path d="M1732.7,527.4C1732.7,508.6 1736.9,491.1 1740.8,491.1C1744.7,491.1 1748.9,508.6 1748.9,527.4Z" fill="url(#g73)"/>
<path d="M1645,529.8C1645,497.6 1650.8,471.9 1656.2,471.9C1661.5,471.9 1667.3,497.6 1667.3,529.8Z" fill="url(#g64)"/>
<path d="M1429.3,530.9C1429.3,502.8 1435.1,479.6 1440.4,479.6C1445.7,479.6 1451.5,502.8 1451.5,530.9Z" fill="url(#g11)"/>
<path d="M1761.3,533.2C1761.3,515.2 1765.9,498.1 1770.2,498.1C1774.5,498.1 1779.1,515.2 1779.1,533.2Z" fill="url(#g65)"/>
<path d="M1476.2,535C1476.2,517.9 1481,501.5 1485.6,501.5C1490.1,501.5 1494.9,517.9 1494.9,535Z" fill="url(#g132)"/>
<path d="M1550.3,536.7C1550.3,505.4 1556.8,480.2 1562.8,480.2C1568.8,480.2 1575.3,505.4 1575.3,536.7Z" fill="url(#g64)"/>
<path d="M1908.4,537.2C1908.4,515.1 1912.5,495.5 1916.3,495.5C1920.1,495.5 1924.3,515.1 1924.3,537.2Z" fill="url(#g46)"/>
<path d="M1392.8,538.5C1392.8,510.5 1398.5,487.3 1403.8,487.3C1409,487.3 1414.7,510.5 1414.7,538.5Z" fill="url(#g141)"/>
<path d="M1853.6,538.6C1853.6,507.3 1859.8,482.1 1865.6,482.1C1871.4,482.1 1877.6,507.3 1877.6,538.6Z" fill="url(#g47)"/>
<path d="M1382.4,540.3C1382.4,514.4 1388.1,492.6 1393.4,492.6C1398.6,492.6 1404.3,514.4 1404.3,540.3Z" fill="url(#g140)"/>
<path d="M1506.1,540.7C1506.1,510 1511.7,485.2 1517,485.2C1522.2,485.2 1527.8,510 1527.8,540.7Z" fill="url(#g125)"/>
<path d="M1344.7,544.3C1344.7,512.1 1350.2,486.4 1355.3,486.4C1360.5,486.4 1366,512.1 1366,544.3Z" fill="url(#g145)"/>
<path d="M1478,545.3C1478,520.9 1482.1,499.9 1485.9,499.9C1489.7,499.9 1493.8,520.9 1493.8,545.3Z" fill="url(#g124)"/>
<path d="M1418.4,546C1418.4,515.1 1423.9,490.2 1429,490.2C1434.1,490.2 1439.7,515.1 1439.7,546Z" fill="url(#g94)"/>
<path d="M1966.6,547.1C1966.6,515.3 1972.6,489.8 1978.1,489.8C1983.7,489.8 1989.7,515.3 1989.7,547.1Z" fill="url(#g17)"/>
<path d="M1632.7,547.2C1632.7,527.4 1637.1,509.3 1641.2,509.3C1645.2,509.3 1649.6,527.4 1649.6,547.2Z" fill="url(#g43)"/>
<path d="M1354.2,547.2C1354.2,522.3 1358.5,501 1362.5,501C1366.4,501 1370.7,522.3 1370.7,547.2Z" fill="url(#g139)"/>
<path d="M1583.2,549.5C1583.2,530.6 1587.4,513 1591.3,513C1595.2,513 1599.4,530.6 1599.4,549.5Z" fill="url(#g106)"/>
<path d="M1713,550.8C1713,517.8 1718.6,491.6 1723.7,491.6C1728.8,491.6 1734.4,517.8 1734.4,550.8Z" fill="url(#g72)"/>
<path d="M1942.9,552.2C1942.9,520.6 1948.9,495.2 1954.4,495.2C1959.9,495.2 1965.9,520.6 1965.9,552.2Z" fill="url(#g33)"/>
<path d="M1555.6,552.5C1555.6,533.9 1559.7,516.5 1563.5,516.5C1567.3,516.5 1571.4,533.9 1571.4,552.5Z" fill="url(#g44)"/>
<path d="M1845.2,552.8C1845.2,523.7 1850.4,499.9 1855.1,499.9C1859.8,499.9 1864.9,523.7 1864.9,552.8Z" fill="url(#g42)"/>
<path d="M1828,552.9C1828,528.1 1832.3,506.9 1836.2,506.9C1840.1,506.9 1844.3,528.1 1844.3,552.9Z" fill="url(#g28)"/>
<path d="M1799.2,554C1799.2,527.5 1804,505.2 1808.4,505.2C1812.7,505.2 1817.5,527.5 1817.5,554Z" fill="url(#g56)"/>
<path d="M1751.9,560.5C1751.9,530.9 1757.3,506.7 1762.3,506.7C1767.2,506.7 1772.6,530.9 1772.6,560.5Z" fill="url(#g64)"/>
<path d="M1516,561.2C1516,532.7 1521.3,509.3 1526.2,509.3C1531.1,509.3 1536.5,532.7 1536.5,561.2Z" fill="url(#g115)"/>
<path d="M1668.5,562C1668.5,538.8 1672.9,518.6 1677,518.6C1681.1,518.6 1685.6,538.8 1685.6,562Z" fill="url(#g84)"/>
<path d="M1652.9,564.5C1652.9,538.9 1658.1,517.2 1662.9,517.2C1667.7,517.2 1673,538.9 1673,564.5Z" fill="url(#g83)"/>
<path d="M1770.6,566.3C1770.6,533.4 1777.4,507.3 1783.6,507.3C1789.8,507.3 1796.5,533.4 1796.5,566.3Z" fill="url(#g55)"/>
<path d="M1556.7,566.5C1556.7,536.2 1562.7,511.7 1568.3,511.7C1573.9,511.7 1580,536.2 1580,566.5Z" fill="url(#g105)"/>
<path d="M1951.3,567C1951.3,550.1 1955.8,533.8 1959.9,533.8C1964.1,533.8 1968.6,550.1 1968.6,567Z" fill="url(#g16)"/>
<path d="M1605.7,567.6C1605.7,537.8 1610.8,513.5 1615.4,513.5C1620.1,513.5 1625.1,537.8 1625.1,567.6Z" fill="url(#g96)"/>
<path d="M1732,570.2C1732,544.6 1736.3,522.9 1740.3,522.9C1744.3,522.9 1748.6,544.6 1748.6,570.2Z" fill="url(#g28)"/>
<path d="M1876.3,570.3C1876.3,551.2 1881.3,533.5 1885.8,533.5C1890.4,533.5 1895.4,551.2 1895.4,570.3Z" fill="url(#g31)"/>
<path d="M1519.7,572.8C1519.7,552.5 1524.4,534.1 1528.8,534.1C1533.2,534.1 1537.9,552.5 1537.9,572.8Z" fill="url(#g37)"/>
<path d="M1848.1,573.2C1848.1,529.5 1855.8,496.7 1862.9,496.7C1870.1,496.7 1877.8,529.5 1877.8,573.2Z" fill="url(#g30)"/>
<path d="M1431.5,574.6C1431.5,532.4 1438.9,500.5 1445.8,500.5C1452.6,500.5 1460.1,532.4 1460.1,574.6Z" fill="url(#g123)"/>
<path d="M1371.5,574.9C1371.5,554.9 1375.7,536.6 1379.6,536.6C1383.4,536.6 1387.6,554.9 1387.6,574.9Z" fill="url(#g103)"/>
<path d="M1901.9,575.6C1901.9,556.1 1905.7,538.1 1909.2,538.1C1912.7,538.1 1916.6,556.1 1916.6,575.6Z" fill="url(#g32)"/>
<path d="M1706,576C1706,547.9 1711.9,524.7 1717.4,524.7C1722.8,524.7 1728.7,547.9 1728.7,576Z" fill="url(#g1)"/>
<path d="M1691.8,576.4C1691.8,553.3 1696.4,533.1 1700.7,533.1C1704.9,533.1 1709.5,553.3 1709.5,576.4Z" fill="url(#g34)"/>
<path d="M1410.9,576.5C1410.9,558.1 1415.9,540.8 1420.5,540.8C1425.1,540.8 1430.1,558.1 1430.1,576.5Z" fill="url(#g122)"/>
<path d="M1608.6,577.5C1608.6,553.4 1613.6,532.7 1618.2,532.7C1622.8,532.7 1627.8,553.4 1627.8,577.5Z" fill="url(#g83)"/>
<path d="M1595.1,578C1595.1,546 1600.6,520.4 1605.7,520.4C1610.8,520.4 1616.4,546 1616.4,578Z" fill="url(#g64)"/>
<path d="M1565,578.2C1565,548.6 1570.4,524.5 1575.3,524.5C1580.3,524.5 1585.6,548.6 1585.6,578.2Z" fill="url(#g95)"/>
<path d="M1803.7,579.6C1803.7,538.7 1811.2,507.6 1818.2,507.6C1825.3,507.6 1832.8,538.7 1832.8,579.6Z" fill="url(#g45)"/>
<path d="M1605.4,581.9C1605.4,562.8 1610.4,545.1 1615,545.1C1619.6,545.1 1624.6,562.8 1624.6,581.9Z" fill="url(#g82)"/>
<path d="M1741.2,582.4C1741.2,554.6 1746.7,531.5 1751.8,531.5C1756.8,531.5 1762.3,554.6 1762.3,582.4Z" fill="url(#g54)"/>
<path d="M1477.2,582.7C1477.2,560.8 1481.5,541.4 1485.4,541.4C1489.4,541.4 1493.7,560.8 1493.7,582.7Z" fill="url(#g114)"/>
<path d="M1918,586.6C1918,562.7 1922.8,542 1927.3,542C1931.7,542 1936.5,562.7 1936.5,586.6Z" fill="url(#g14)"/>
<path d="M1926.3,587.6C1926.3,561.3 1932.1,539.2 1937.5,539.2C1942.8,539.2 1948.6,561.3 1948.6,587.6Z" fill="url(#g15)"/>
<path d="M1496.6,589.5C1496.6,560.1 1502.3,536.1 1507.4,536.1C1512.6,536.1 1518.2,560.1 1518.2,589.5Z" fill="url(#g0)"/>
<path d="M1430.1,590.2C1430.1,547.4 1439.6,515.2 1448.3,515.2C1457.1,515.2 1466.5,547.4 1466.5,590.2Z" fill="url(#g112)"/>
<path d="M1786.7,591.1C1786.7,571.7 1790.8,553.8 1794.6,553.8C1798.4,553.8 1802.6,571.7 1802.6,591.1Z" fill="url(#g44)"/>
<path d="M1457.2,591.8C1457.2,573.3 1461.1,555.9 1464.7,555.9C1468.3,555.9 1472.1,573.3 1472.1,591.8Z" fill="url(#g113)"/>
<path d="M1665.3,594.5C1665.3,570 1670.4,548.9 1675.1,548.9C1679.8,548.9 1684.8,570 1684.8,594.5Z" fill="url(#g34)"/>
<path d="M1882.9,596.1C1882.9,577.6 1887.1,560.3 1891,560.3C1894.8,560.3 1899,577.6 1899,596.1Z" fill="url(#g13)"/>
<path d="M1617.9,603.4C1617.9,571 1624.4,545.2 1630.3,545.2C1636.3,545.2 1642.8,571 1642.8,603.4Z" fill="url(#g71)"/>
<path d="M1761.9,604C1761.9,585.4 1765.8,568.1 1769.5,568.1C1773.2,568.1 1777.1,585.4 1777.1,604Z" fill="url(#g43)"/>
<path d="M1544.4,604.4C1544.4,572.5 1549.8,547 1554.7,547C1559.6,547 1565,572.5 1565,604.4Z" fill="url(#g94)"/>
<path d="M1871.6,605C1871.6,581.2 1876.7,560.7 1881.3,560.7C1885.9,560.7 1891,581.2 1891,605Z" fill="url(#g12)"/>
<path d="M1680.5,606.5C1680.5,577.8 1686.8,554.3 1692.7,554.3C1698.5,554.3 1704.9,577.8 1704.9,606.5Z" fill="url(#g27)"/>
<path d="M1402.5,608.5C1402.5,578.7 1408.8,554.5 1414.6,554.5C1420.4,554.5 1426.7,578.7 1426.7,608.5Z" fill="url(#g111)"/>
<path d="M1840.4,609.4C1840.4,582.7 1846.2,560.3 1851.5,560.3C1856.9,560.3 1862.7,582.7 1862.7,609.4Z" fill="url(#g11)"/>
<path d="M1473.2,609.6C1473.2,584.9 1478.5,563.8 1483.5,563.8C1488.4,563.8 1493.8,584.9 1493.8,609.6Z" fill="url(#g104)"/>
<path d="M1509.3,609.9C1509.3,577.9 1514.7,552.3 1519.7,552.3C1524.7,552.3 1530.2,577.9 1530.2,609.9Z" fill="url(#g93)"/>
<path d="M1459.8,610.8C1459.8,588.5 1464.3,568.8 1468.4,568.8C1472.5,568.8 1477,588.5 1477,610.8Z" fill="url(#g49)"/>
<path d="M1724.9,611.5C1724.9,593 1729,575.7 1732.9,575.7C1736.7,575.7 1740.9,593 1740.9,611.5Z" fill="url(#g53)"/>
<path d="M1784.9,612.4C1784.9,587.5 1789.7,566.2 1794.1,566.2C1798.6,566.2 1803.3,587.5 1803.3,612.4Z" fill="url(#g28)"/>
<path d="M1793.3,612.9C1793.3,574.2 1801.5,544.5 1809,544.5C1816.6,544.5 1824.8,574.2 1824.8,612.9Z" fill="url(#g29)"/>
<path d="M1583.4,613.5C1583.4,581.8 1588.6,556.3 1593.4,556.3C1598.3,556.3 1603.5,581.8 1603.5,613.5Z" fill="url(#g64)"/>
<path d="M1663.8,615.4C1663.8,592 1667.7,571.6 1671.2,571.6C1674.8,571.6 1678.7,592 1678.7,615.4Z" fill="url(#g18)"/>
<path d="M1440.4,615.6C1440.4,595.2 1445.3,576.8 1449.9,576.8C1454.5,576.8 1459.5,595.2 1459.5,615.6Z" fill="url(#g103)"/>
<path d="M1734.6,616.3C1734.6,599.4 1739.6,583.1 1744.1,583.1C1748.7,583.1 1753.6,599.4 1753.6,616.3Z" fill="url(#g8)"/>
<path d="M1481.4,616.7C1481.4,597.9 1486,580.4 1490.2,580.4C1494.4,580.4 1499,597.9 1499,616.7Z" fill="url(#g60)"/>
<path d="M1705.3,619.9C1705.3,602 1709.1,585 1712.6,585C1716.2,585 1720,602 1720,619.9Z" fill="url(#g8)"/>
<path d="M1555,620.8C1555,601.8 1559.4,584.3 1563.4,584.3C1567.5,584.3 1571.8,601.8 1571.8,620.8Z" fill="url(#g10)"/>
<path d="M1546.8,627.4C1546.8,606.9 1550.9,588.3 1554.7,588.3C1558.5,588.3 1562.6,606.9 1562.6,627.4Z" fill="url(#g81)"/>
<path d="M1580.8,632C1580.8,613.5 1584.7,596.1 1588.4,596.1C1592.1,596.1 1596,613.5 1596,632Z" fill="url(#g70)"/>
<path d="M1481.7,633.7C1481.7,601.8 1487.8,576.3 1493.5,576.3C1499.1,576.3 1505.3,601.8 1505.3,633.7Z" fill="url(#g92)"/>
<path d="M1823.6,634.8C1823.6,614.9 1827.5,596.7 1831,596.7C1834.5,596.7 1838.3,614.9 1838.3,634.8Z" fill="url(#g10)"/>
<path d="M1597.8,636.8C1597.8,618.2 1602.6,600.8 1606.9,600.8C1611.3,600.8 1616.1,618.2 1616.1,636.8Z" fill="url(#g53)"/>
<path d="M1520.9,638.3C1520.9,606.4 1527.5,580.9 1533.7,580.9C1539.8,580.9 1546.5,606.4 1546.5,638.3Z" fill="url(#g80)"/>
<path d="M1460,638.8C1460,606.8 1465.5,581.3 1470.6,581.3C1475.7,581.3 1481.2,606.8 1481.2,638.8Z" fill="url(#g91)"/>
<path d="M1745.5,640.7C1745.5,612.2 1750.6,588.7 1755.4,588.7C1760.1,588.7 1765.3,612.2 1765.3,640.7Z" fill="url(#g27)"/>
<path d="M1788.2,642.1C1788.2,603.8 1795,574.2 1801.3,574.2C1807.6,574.2 1814.3,603.8 1814.3,642.1Z" fill="url(#g9)"/>
<path d="M1543,645.4C1543,617.7 1547.9,594.7 1552.5,594.7C1557,594.7 1561.9,617.7 1561.9,645.4Z" fill="url(#g11)"/>
<path d="M1624.6,646.2C1624.6,617.9 1630.2,594.6 1635.5,594.6C1640.7,594.6 1646.4,617.9 1646.4,646.2Z" fill="url(#g42)"/>
<path d="M1727,650.5C1727,619.4 1732.7,594.3 1737.9,594.3C1743.1,594.3 1748.7,619.4 1748.7,650.5Z" fill="url(#g26)"/>
<path d="M1697.9,651C1697.9,621.7 1702.8,597.7 1707.4,597.7C1712,597.7 1717,621.7 1717,651Z" fill="url(#g42)"/>
<path d="M1776.6,651.4C1776.6,634.1 1781,617.5 1785,617.5C1789,617.5 1793.3,634.1 1793.3,651.4Z" fill="url(#g8)"/>
<path d="M1499.4,653.8C1499.4,622.3 1506.2,596.9 1512.5,596.9C1518.9,596.9 1525.7,622.3 1525.7,653.8Z" fill="url(#g79)"/>
<path d="M1532.6,656.7C1532.6,638.9 1537.4,621.9 1541.9,621.9C1546.4,621.9 1551.3,638.9 1551.3,656.7Z" fill="url(#g65)"/>
<path d="M1650.7,657.2C1650.7,626.6 1656,601.8 1660.8,601.8C1665.7,601.8 1670.9,626.6 1670.9,657.2Z" fill="url(#g52)"/>
<path d="M1471.9,657.5C1471.9,629.8 1476.5,606.9 1480.8,606.9C1485,606.9 1489.6,629.8 1489.6,657.5Z" fill="url(#g78)"/>
<path d="M1623.5,659.4C1623.5,628.6 1628.7,603.8 1633.6,603.8C1638.4,603.8 1643.7,628.6 1643.7,659.4Z" fill="url(#g26)"/>
<path d="M1572.6,663.6C1572.6,640 1577.6,619.6 1582.3,619.6C1586.9,619.6 1591.9,640 1591.9,663.6Z" fill="url(#g18)"/>
<path d="M1585.1,665.2C1585.1,646.7 1590.1,629.4 1594.6,629.4C1599.2,629.4 1604.2,646.7 1604.2,665.2Z" fill="url(#g63)"/>
<path d="M1707.9,667.7C1707.9,639 1713.4,615.3 1718.5,615.3C1723.6,615.3 1729.1,639 1729.1,667.7Z" fill="url(#g7)"/>
<path d="M1683,670.2C1683,639.9 1689.5,615.2 1695.4,615.2C1701.4,615.2 1707.9,639.9 1707.9,670.2Z" fill="url(#g7)"/>
<path d="M1516.6,673.2C1516.6,653.3 1521.2,635 1525.4,635C1529.6,635 1534.1,653.3 1534.1,673.2Z" fill="url(#g69)"/>
<path d="M1763.8,674.3C1763.8,646.3 1769.4,623.1 1774.6,623.1C1779.8,623.1 1785.4,646.3 1785.4,674.3Z" fill="url(#g7)"/>
<path d="M1733.9,677.7C1733.9,649.2 1739.8,625.8 1745.2,625.8C1750.6,625.8 1756.5,649.2 1756.5,677.7Z" fill="url(#g7)"/>
<path d="M1611.2,677.9C1611.2,654.7 1615.9,634.5 1620.4,634.5C1624.8,634.5 1629.5,654.7 1629.5,677.9Z" fill="url(#g38)"/>
<path d="M1555.8,680.6C1555.8,657.8 1560.9,637.9 1565.5,637.9C1570.2,637.9 1575.3,657.8 1575.3,680.6Z" fill="url(#g62)"/>
<path d="M1520,680.9C1520,659.4 1524.5,640.2 1528.6,640.2C1532.8,640.2 1537.3,659.4 1537.3,680.9Z" fill="url(#g61)"/>
<path d="M1596.3,686.4C1596.3,655.1 1601.5,630 1606.2,630C1611,630 1616.1,655.1 1616.1,686.4Z" fill="url(#g51)"/>
<path d="M1649.1,691.7C1649.1,664.6 1654.1,641.9 1658.8,641.9C1663.5,641.9 1668.5,664.6 1668.5,691.7Z" fill="url(#g41)"/>
<path d="M1694.7,694.1C1694.7,662.3 1699.9,636.8 1704.8,636.8C1709.6,636.8 1714.8,662.3 1714.8,694.1Z" fill="url(#g25)"/>
<path d="M1717.4,697.8C1717.4,672.2 1721.8,650.6 1725.9,650.6C1730,650.6 1734.5,672.2 1734.5,697.8Z" fill="url(#g6)"/>
<path d="M1498.6,700.2C1498.6,682.8 1503,666.2 1507.1,666.2C1511.2,666.2 1515.5,682.8 1515.5,700.2Z" fill="url(#g60)"/>
<path d="M1642.2,702.5C1642.2,671.9 1648.3,647.1 1653.9,647.1C1659.6,647.1 1665.7,671.9 1665.7,702.5Z" fill="url(#g40)"/>
<path d="M1669.1,707.8C1669.1,678.4 1674,654.4 1678.5,654.4C1683,654.4 1687.9,678.4 1687.9,707.8Z" fill="url(#g24)"/>
<path d="M1560.9,709.8C1560.9,684.4 1565.8,662.8 1570.4,662.8C1574.9,662.8 1579.9,684.4 1579.9,709.8Z" fill="url(#g50)"/>
<path d="M1594.1,711.9C1594.1,679 1600,652.9 1605.3,652.9C1610.7,652.9 1616.5,679 1616.5,711.9Z" fill="url(#g39)"/>
<path d="M1518.1,718.5C1518.1,694.8 1522,674.3 1525.7,674.3C1529.3,674.3 1533.3,694.8 1533.3,718.5Z" fill="url(#g49)"/>
<path d="M1690.5,722.6C1690.5,699.8 1695.4,679.9 1699.9,679.9C1704.5,679.9 1709.4,699.8 1709.4,722.6Z" fill="url(#g5)"/>
<path d="M1598.6,723.3C1598.6,701 1602.3,681.3 1605.9,681.3C1609.4,681.3 1613.2,701 1613.2,723.3Z" fill="url(#g38)"/>
<path d="M1553.8,724.3C1553.8,705.9 1558.3,688.7 1562.5,688.7C1566.7,688.7 1571.3,705.9 1571.3,724.3Z" fill="url(#g37)"/>
<path d="M1659,728.6C1659,702.8 1663.7,681 1668,681C1672.4,681 1677,702.8 1677,728.6Z" fill="url(#g4)"/>
<path d="M1601.8,733.2C1601.8,711.9 1606.9,692.8 1611.6,692.8C1616.3,692.8 1621.3,711.9 1621.3,733.2Z" fill="url(#g22)"/>
<path d="M1629.3,740.1C1629.3,712.4 1635,689.4 1640.3,689.4C1645.6,689.4 1651.3,712.4 1651.3,740.1Z" fill="url(#g23)"/>
<path d="M1539.5,741.2C1539.5,711.9 1545.5,688 1551,688C1556.5,688 1562.5,711.9 1562.5,741.2Z" fill="url(#g36)"/>
<path d="M1662.3,744.2C1662.3,716.5 1667.5,693.5 1672.2,693.5C1676.9,693.5 1682,716.5 1682,744.2Z" fill="url(#g4)"/>
<path d="M1551.4,744.7C1551.4,719.8 1556.4,698.6 1561,698.6C1565.6,698.6 1570.5,719.8 1570.5,744.7Z" fill="url(#g20)"/>
<path d="M1573.1,748.1C1573.1,705.8 1580.7,673.8 1587.7,673.8C1594.7,673.8 1602.3,705.8 1602.3,748.1Z" fill="url(#g21)"/>
<path d="M1641.4,749.9C1641.4,732.8 1645.5,716.4 1649.3,716.4C1653,716.4 1657.1,732.8 1657.1,749.9Z" fill="url(#g3)"/>
<path d="M1613.5,760.8C1613.5,731 1618.8,706.7 1623.8,706.7C1628.8,706.7 1634.2,731 1634.2,760.8Z" fill="url(#g2)"/>
<path d="M1599.6,761.1C1599.6,733.1 1604.8,709.9 1609.6,709.9C1614.4,709.9 1619.5,733.1 1619.5,761.1Z" fill="url(#g1)"/>
<path d="M1570.7,778.8C1570.7,748.8 1576.2,724.4 1581.4,724.4C1586.5,724.4 1592,748.8 1592,778.8Z" fill="url(#g0)"/>
</g>
<path d="M1433.1,410.3h1.6v1.6h-1.6zM1325.8,445.7h1.6v1.6h-1.6zM1578.6,397h1.6v1.6h-1.6zM1512.4,332.6h1.6v1.6h-1.6zM1665.1,631h1.6v1.6h-1.6zM1537.9,348.9h1.6v1.6h-1.6zM1576,449h1.6v1.6h-1.6zM1947.3,512.7h1.6v1.6h-1.6zM1650.4,293.6h1.6v1.6h-1.6zM1763.7,620h1.6v1.6h-1.6zM1538.7,348.6h1.6v1.6h-1.6zM1975.6,464.7h1.6v1.6h-1.6zM1718.9,203.1h1.6v1.6h-1.6zM1473.1,292.3h1.6v1.6h-1.6zM1749.6,384.2h1.6v1.6h-1.6zM1736.6,654.6h1.6v1.6h-1.6zM1999.7,430.5h1.6v1.6h-1.6zM1783.3,617h1.6v1.6h-1.6zM1687.5,675.2h1.6v1.6h-1.6zM1691.3,214.9h1.6v1.6h-1.6zM1568,346.6h1.6v1.6h-1.6zM1756.6,382.6h1.6v1.6h-1.6zM1622.5,744.6h1.6v1.6h-1.6zM1723.5,627.2h1.6v1.6h-1.6zM1312.1,428h1.6v1.6h-1.6zM1571,478.7h1.6v1.6h-1.6zM1594.6,341.7h1.6v1.6h-1.6zM1874.4,449.6h1.6v1.6h-1.6zM1486,476.2h1.6v1.6h-1.6zM1960.2,497.9h1.6v1.6h-1.6zM1690.3,313.1h1.6v1.6h-1.6zM1402.5,335.4h1.6v1.6h-1.6zM1723.5,396h1.6v1.6h-1.6zM1469.7,370.3h1.6v1.6h-1.6zM1663.2,221.1h1.6v1.6h-1.6zM1888.2,370.9h1.6v1.6h-1.6zM1764.4,229.7h1.6v1.6h-1.6zM1664.5,289.9h1.6v1.6h-1.6zM1579.8,474.4h1.6v1.6h-1.6zM1460.3,449.3h1.6v1.6h-1.6zM1395.8,493.1h1.6v1.6h-1.6zM1310.5,465.6h1.6v1.6h-1.6zM1912.4,572.6h1.6v1.6h-1.6zM1725.8,306.8h1.6v1.6h-1.6zM1679.9,410.6h1.6v1.6h-1.6zM1745.1,310h1.6v1.6h-1.6zM1369.7,468.4h1.6v1.6h-1.6zM1608.8,207.7h1.6v1.6h-1.6zM1597.4,771.6h1.6v1.6h-1.6zM1663.2,266.3h1.6v1.6h-1.6zM1524.3,250.1h1.6v1.6h-1.6zM1837.5,285.9h1.6v1.6h-1.6zM1396.3,471.8h1.6v1.6h-1.6zM1408,334.3h1.6v1.6h-1.6zM1464.4,514.2h1.6v1.6h-1.6zM1790.6,519.6h1.6v1.6h-1.6zM1489,441.6h1.6v1.6h-1.6zM1745.5,553.9h1.6v1.6h-1.6zM1669,606.6h1.6v1.6h-1.6zM1837.2,516.8h1.6v1.6h-1.6zM1593,465.1h1.6v1.6h-1.6zM1455.8,462.5h1.6v1.6h-1.6zM1719.1,704.7h1.6v1.6h-1.6zM1625.9,240.5h1.6v1.6h-1.6zM1531.7,330.6h1.6v1.6h-1.6zM1654,210.7h1.6v1.6h-1.6zM1455.6,344.5h1.6v1.6h-1.6zM1852.9,580.1h1.6v1.6h-1.6zM1612.4,754h1.6v1.6h-1.6zM1522.2,239.1h1.6v1.6h-1.6zM1421.3,384.5h1.6v1.6h-1.6zM1534.6,516h1.6v1.6h-1.6zM1972.8,486.8h1.6v1.6h-1.6zM1365.5,450h1.6v1.6h-1.6zM1849.9,591.8h1.6v1.6h-1.6zM2006.6,488.9h1.6v1.6h-1.6zM1550.5,451.6h1.6v1.6h-1.6zM1911.8,571.4h1.6v1.6h-1.6zM1729.9,514.3h1.6v1.6h-1.6zM1660.3,423h1.6v1.6h-1.6zM1601.6,360.4h1.6v1.6h-1.6zM1908.7,482.7h1.6v1.6h-1.6zM1671.3,336.3h1.6v1.6h-1.6zM1745.7,525.7h1.6v1.6h-1.6zM1630.3,519.5h1.6v1.6h-1.6zM1846.7,437.4h1.6v1.6h-1.6zM1455.3,422.6h1.6v1.6h-1.6zM1410.7,443.1h1.6v1.6h-1.6zM1571,313.2h1.6v1.6h-1.6zM1760.2,242.1h1.6v1.6h-1.6zM1851.7,488.3h1.6v1.6h-1.6zM1449.9,304.3h1.6v1.6h-1.6zM1894.3,495.2h1.6v1.6h-1.6zM1749,664.7h1.6v1.6h-1.6zM1706.2,557.9h1.6v1.6h-1.6zM1916.7,400.3h1.6v1.6h-1.6zM1440.3,313.8h1.6v1.6h-1.6zM1731.9,235.8h1.6v1.6h-1.6zM1728.5,259h1.6v1.6h-1.6zM1769.7,251.8h1.6v1.6h-1.6zM1714,704.4h1.6v1.6h-1.6zM1889.1,573.4h1.6v1.6h-1.6zM1718.6,391h1.6v1.6h-1.6zM1296.9,467.9h1.6v1.6h-1.6zM1613.9,220.7h1.6v1.6h-1.6zM1337.3,391.2h1.6v1.6h-1.6zM1494.6,291.2h1.6v1.6h-1.6zM1856.3,556.4h1.6v1.6h-1.6zM1671.2,676.2h1.6v1.6h-1.6zM1571.5,371h1.6v1.6h-1.6zM1607.8,283.4h1.6v1.6h-1.6zM1625.5,534.5h1.6v1.6h-1.6zM1625.8,248.9h1.6v1.6h-1.6zM1503.5,276.3h1.6v1.6h-1.6zM1946.7,569.3h1.6v1.6h-1.6zM1620.3,586.9h1.6v1.6h-1.6zM1916.6,422.8h1.6v1.6h-1.6zM1642.3,495.9h1.6v1.6h-1.6zM1263.2,392.6h1.6v1.6h-1.6zM1752.8,340h1.6v1.6h-1.6zM1904.7,545.7h1.6v1.6h-1.6zM1895.8,578.8h1.6v1.6h-1.6zM1646.6,695.3h1.6v1.6h-1.6zM1474.6,314.3h1.6v1.6h-1.6zM1482.2,439.2h1.6v1.6h-1.6zM1599.3,294.8h1.6v1.6h-1.6zM1753.6,329.1h1.6v1.6h-1.6zM1600.5,387.9h1.6v1.6h-1.6zM1683.7,576.9h1.6v1.6h-1.6zM2021.4,475.7h1.6v1.6h-1.6zM1488.6,478.6h1.6v1.6h-1.6zM1917.8,580.8h1.6v1.6h-1.6zM1524.9,520.9h1.6v1.6h-1.6zM1650.3,488.2h1.6v1.6h-1.6zM1505.6,336.6h1.6v1.6h-1.6zM1555.8,251.7h1.6v1.6h-1.6zM1422.6,606.2h1.6v1.6h-1.6zM1905.8,535.3h1.6v1.6h-1.6zM1583.5,572.6h1.6v1.6h-1.6zM1440.1,414.8h1.6v1.6h-1.6zM1540.2,472.6h1.6v1.6h-1.6zM1756.2,638.8h1.6v1.6h-1.6zM1364.6,431.3h1.6v1.6h-1.6zM1762.3,328.4h1.6v1.6h-1.6zM1373.6,471.2h1.6v1.6h-1.6zM1764.9,539.5h1.6v1.6h-1.6zM1411.9,327.3h1.6v1.6h-1.6zM1472.5,393.4h1.6v1.6h-1.6zM1537.2,248.5h1.6v1.6h-1.6zM1619.1,453.3h1.6v1.6h-1.6zM1449.1,510.1h1.6v1.6h-1.6zM1681.7,661h1.6v1.6h-1.6zM1583.6,698h1.6v1.6h-1.6zM1658.8,664h1.6v1.6h-1.6zM1790.1,449h1.6v1.6h-1.6zM1540.9,410h1.6v1.6h-1.6zM1405.1,508.5h1.6v1.6h-1.6zM1760.7,613.6h1.6v1.6h-1.6zM1808.3,492h1.6v1.6h-1.6zM1456.7,517.4h1.6v1.6h-1.6zM1620.3,427.3h1.6v1.6h-1.6zM1627.6,719.9h1.6v1.6h-1.6zM1931.9,463.7h1.6v1.6h-1.6zM1602.2,515.2h1.6v1.6h-1.6zM1835.5,507.2h1.6v1.6h-1.6zM1477.2,499h1.6v1.6h-1.6zM1893.1,573.1h1.6v1.6h-1.6zM1271.8,443.9h1.6v1.6h-1.6zM1578.8,544.1h1.6v1.6h-1.6zM1423.8,504.5h1.6v1.6h-1.6zM1713.9,299.9h1.6v1.6h-1.6zM1439.1,366h1.6v1.6h-1.6zM1642.9,706.3h1.6v1.6h-1.6zM1341.1,426.5h1.6v1.6h-1.6zM1589.6,581.7h1.6v1.6h-1.6zM1648.4,470.2h1.6v1.6h-1.6zM1736.1,277.8h1.6v1.6h-1.6zM1459.2,528.8h1.6v1.6h-1.6zM1796.6,465.3h1.6v1.6h-1.6zM1512.6,541h1.6v1.6h-1.6zM1514.4,480.3h1.6v1.6h-1.6zM1938.5,572.3h1.6v1.6h-1.6zM1711.3,448.9h1.6v1.6h-1.6zM1915.9,483.1h1.6v1.6h-1.6zM1431.7,391.7h1.6v1.6h-1.6zM1692.5,613.1h1.6v1.6h-1.6zM1827.7,525.4h1.6v1.6h-1.6zM1796.7,289.9h1.6v1.6h-1.6zM1571.5,230h1.6v1.6h-1.6zM1529.5,360.7h1.6v1.6h-1.6zM1732.1,308.9h1.6v1.6h-1.6zM1471.8,384h1.6v1.6h-1.6zM1897.6,540.3h1.6v1.6h-1.6zM1680.6,725.7h1.6v1.6h-1.6zM1553.1,629.4h1.6v1.6h-1.6zM1563.7,250h1.6v1.6h-1.6zM1609.6,198.2h1.6v1.6h-1.6zM1647.5,173.7h1.6v1.6h-1.6zM1852.2,585.7h1.6v1.6h-1.6zM1972.8,508.7h1.6v1.6h-1.6zM1689.1,291.3h1.6v1.6h-1.6zM1711.8,535.1h1.6v1.6h-1.6zM1767,240.7h1.6v1.6h-1.6zM1636.8,738.6h1.6v1.6h-1.6zM1575.7,235.6h1.6v1.6h-1.6zM1715.9,431.3h1.6v1.6h-1.6zM1467.6,508.3h1.6v1.6h-1.6zM1556.9,666.5h1.6v1.6h-1.6zM1560.3,389.1h1.6v1.6h-1.6zM1302.7,403.6h1.6v1.6h-1.6zM1618.7,576.5h1.6v1.6h-1.6zM1325.5,407h1.6v1.6h-1.6zM1558.2,647.4h1.6v1.6h-1.6zM1552.6,269.6h1.6v1.6h-1.6zM1873.3,425.9h1.6v1.6h-1.6zM1455.5,364.2h1.6v1.6h-1.6zM1794.4,269.2h1.6v1.6h-1.6zM1489.6,497.8h1.6v1.6h-1.6zM1708.5,237.6h1.6v1.6h-1.6zM1628.7,629.7h1.6v1.6h-1.6zM1826,463.1h1.6v1.6h-1.6zM1405,388.1h1.6v1.6h-1.6zM1344.2,363.3h1.6v1.6h-1.6zM1767.1,278.1h1.6v1.6h-1.6zM1834.1,296.7h1.6v1.6h-1.6zM1701.7,325.7h1.6v1.6h-1.6zM1421.9,572h1.6v1.6h-1.6zM1454.9,318.5h1.6v1.6h-1.6zM1590.8,594.9h1.6v1.6h-1.6zM1743.4,414.1h1.6v1.6h-1.6zM1838.7,549.1h1.6v1.6h-1.6zM1529.3,258.2h1.6v1.6h-1.6zM1507.5,510h1.6v1.6h-1.6zM1656.9,249.8h1.6v1.6h-1.6zM1587.2,358.5h1.6v1.6h-1.6zM1277.5,391.8h1.6v1.6h-1.6zM1716.1,265.4h1.6v1.6h-1.6zM1871.4,431.4h1.6v1.6h-1.6zM1700.5,465.8h1.6v1.6h-1.6zM1423.6,311.2h1.6v1.6h-1.6zM1564.1,450.3h1.6v1.6h-1.6zM1792.7,456.4h1.6v1.6h-1.6zM1927.5,351.4h1.6v1.6h-1.6zM1609.9,531.1h1.6v1.6h-1.6zM1419.7,426.7h1.6v1.6h-1.6zM1433.8,542.8h1.6v1.6h-1.6zM1488,583.1h1.6v1.6h-1.6zM1685,208.6h1.6v1.6h-1.6zM1788.3,548h1.6v1.6h-1.6zM1492.3,439.2h1.6v1.6h-1.6zM1254,419.5h1.6v1.6h-1.6zM1905.6,486.2h1.6v1.6h-1.6zM1473.8,568.6h1.6v1.6h-1.6zM1610.1,701.4h1.6v1.6h-1.6zM1594.8,432.2h1.6v1.6h-1.6zM1602.4,291.7h1.6v1.6h-1.6zM1497.7,575.8h1.6v1.6h-1.6zM1435.7,334.7h1.6v1.6h-1.6zM1663.1,698.9h1.6v1.6h-1.6zM1615.5,291.6h1.6v1.6h-1.6zM1626.1,452.3h1.6v1.6h-1.6zM1548,246.3h1.6v1.6h-1.6zM1736.1,535.2h1.6v1.6h-1.6zM1373,394.4h1.6v1.6h-1.6zM1527.5,707.2h1.6v1.6h-1.6zM1892.2,424.7h1.6v1.6h-1.6zM1576,616.5h1.6v1.6h-1.6zM1477.1,360.8h1.6v1.6h-1.6zM1853.1,514.9h1.6v1.6h-1.6zM1669.6,695.3h1.6v1.6h-1.6zM1509.8,449.7h1.6v1.6h-1.6zM1554.3,468.6h1.6v1.6h-1.6zM1547.7,225.3h1.6v1.6h-1.6zM1466.4,474.8h1.6v1.6h-1.6zM2013.1,441.9h1.6v1.6h-1.6zM1683.8,555.2h1.6v1.6h-1.6zM1238.2,407.9h1.6v1.6h-1.6zM1661.9,308h1.6v1.6h-1.6zM1730.9,311.3h1.6v1.6h-1.6zM1354,416.9h1.6v1.6h-1.6zM1426.9,300.3h1.6v1.6h-1.6zM1446.2,422.8h1.6v1.6h-1.6zM1796.7,481h1.6v1.6h-1.6zM1681.3,692h1.6v1.6h-1.6zM1657.7,353.2h1.6v1.6h-1.6zM1862.9,419.3h1.6v1.6h-1.6zM1920.1,482.4h1.6v1.6h-1.6zM1881.4,506.1h1.6v1.6h-1.6zM1664.4,301.7h1.6v1.6h-1.6zM1675.7,666.1h1.6v1.6h-1.6zM1580.6,590.4h1.6v1.6h-1.6zM1735.9,387.1h1.6v1.6h-1.6zM1590.7,452.5h1.6v1.6h-1.6zM1642.4,286.8h1.6v1.6h-1.6zM1553.4,293.3h1.6v1.6h-1.6zM1644.5,740.1h1.6v1.6h-1.6zM1856.5,502.5h1.6v1.6h-1.6zM1439.1,497h1.6v1.6h-1.6zM1603.3,191.3h1.6v1.6h-1.6zM1774,251.8h1.6v1.6h-1.6zM1616.2,388.2h1.6v1.6h-1.6zM1614.9,490.5h1.6v1.6h-1.6zM1344.6,501.3h1.6v1.6h-1.6zM1813.2,301h1.6v1.6h-1.6zM1568.4,611.1h1.6v1.6h-1.6zM1610.4,411h1.6v1.6h-1.6zM1737.6,311.9h1.6v1.6h-1.6zM1892.7,436h1.6v1.6h-1.6zM1680.7,317.8h1.6v1.6h-1.6zM1503.3,510.7h1.6v1.6h-1.6zM1558.2,621.2h1.6v1.6h-1.6zM1468.4,496.9h1.6v1.6h-1.6zM1806.1,524.6h1.6v1.6h-1.6zM1620,343.7h1.6v1.6h-1.6zM1491.4,369h1.6v1.6h-1.6zM1328,388.2h1.6v1.6h-1.6zM1731.7,500.1h1.6v1.6h-1.6zM1923.3,497h1.6v1.6h-1.6zM1801.1,635.6h1.6v1.6h-1.6zM1642,310.3h1.6v1.6h-1.6zM1658.4,317.4h1.6v1.6h-1.6zM1371.3,438.5h1.6v1.6h-1.6zM1559.1,366.3h1.6v1.6h-1.6zM1340.3,435h1.6v1.6h-1.6zM1866.2,501.3h1.6v1.6h-1.6zM1699.3,678.6h1.6v1.6h-1.6zM1475.8,389.8h1.6v1.6h-1.6zM1609.3,639.5h1.6v1.6h-1.6zM1577.8,338.5h1.6v1.6h-1.6zM1499.9,481.2h1.6v1.6h-1.6z" fill="#fff" fill-opacity=".6" clip-path="url(#afmclip)"/>
</g>
<g id="pbax" font-family="'Liberation Sans', Arial, sans-serif">
<path d="M1204.7,474.1V293.1M1204.7,474.1L1584.5,835.6L2051.2,538.9M1584.5,835.6V795.6M2051.2,538.9V496.9M1196.7,474.1H1207.7M1196.7,383.6H1207.7M1196.7,293.1H1207.7M1505.1,766.9L1512,759.7M1675.2,772L1680.5,780.5M1429.1,694.6L1436,687.4M1768.5,712.7L1773.9,721.1M1353.2,622.3L1360.1,615.1M1861.8,653.4L1867.2,661.8M1277.2,550L1284.1,542.8M1955.2,594L1960.5,602.5" stroke="#222" stroke-width="2.2" fill="none"/>
<text x="1119" y="300.8" font-size="29.5" fill="#222">20nm</text>
<text x="1119" y="391.3" font-size="29.5" fill="#222">10nm</text>
<text transform="translate(1185.4,494.4) rotate(43.6)" font-size="42" text-anchor="middle" y="15">1.0µm</text>
<text transform="translate(2066.2,562.5) rotate(-32.4)" font-size="43" text-anchor="middle" y="15">1.0µm</text>
<text transform="translate(1261.4,566.7) rotate(43.6)" font-size="42" text-anchor="middle" y="15">0.8</text>
<text transform="translate(1972.9,621.9) rotate(-32.4)" font-size="43" text-anchor="middle" y="15">0.8</text>
<text transform="translate(1337.3,639) rotate(43.6)" font-size="42" text-anchor="middle" y="15">0.6</text>
<text transform="translate(1879.5,681.2) rotate(-32.4)" font-size="43" text-anchor="middle" y="15">0.6</text>
<text transform="translate(1413.3,711.3) rotate(43.6)" font-size="42" text-anchor="middle" y="15">0.4</text>
<text transform="translate(1786.2,740.5) rotate(-32.4)" font-size="43" text-anchor="middle" y="15">0.4</text>
<text transform="translate(1489.2,783.6) rotate(43.6)" font-size="42" text-anchor="middle" y="15">0.2</text>
<text transform="translate(1692.9,799.9) rotate(-32.4)" font-size="43" text-anchor="middle" y="15">0.2</text>
</g>
<g id="pc" font-family="'Liberation Sans', Arial, sans-serif">
<path d="M209.3,1708.6V1702.6M271.1,1708.6V1696.6M332.8,1708.6V1702.6M394.5,1708.6V1696.6M456.3,1708.6V1702.6M518,1708.6V1696.6M579.7,1708.6V1702.6M641.5,1708.6V1696.6M703.2,1708.6V1702.6M764.9,1708.6V1696.6M826.7,1708.6V1702.6M888.4,1708.6V1696.6M950.2,1708.6V1702.6" stroke="#111" stroke-width="3" fill="none"/>
<path d="M148,1667.7C151.5,1667.5 160.7,1667.7 169,1666.5C177.3,1665.3 190.3,1661.6 198,1660.7C205.7,1659.8 207.8,1660.8 215,1661C222.2,1661.2 231.8,1662.8 241,1662C250.2,1661.2 260.3,1659.4 270,1656.4C279.7,1653.4 290.3,1647.9 299,1644C307.7,1640.1 315.1,1637.9 322.4,1633.2C329.7,1628.5 335.7,1623 342.7,1615.8C349.7,1608.6 357.2,1599.4 364.4,1589.8C371.6,1580.2 379.5,1567.7 386,1558C392.5,1548.3 399,1539.2 403.5,1531.9C408,1524.6 409.5,1521.8 413,1514C416.5,1506.2 419.8,1499.2 424.6,1485C429.4,1470.8 436.4,1446.2 441.7,1428.6C447,1411 451.6,1394.3 456.5,1379.5C461.4,1364.7 466.3,1351.5 471.2,1340C476.1,1328.5 480.7,1321.4 486,1310.8C491.3,1300.2 496.5,1290.3 503,1276.4C509.5,1262.5 519.5,1240.4 525.2,1227.3C531,1214.2 532.2,1210.1 537.5,1197.8C542.8,1185.5 551.3,1167.2 557,1153.7C562.7,1140.2 568,1125.6 571.9,1116.8C575.8,1108 577.6,1102.1 580.5,1100.9C583.4,1099.7 586.5,1102.8 589,1109.5C591.5,1116.2 593.4,1127.9 595.2,1141.4C597,1154.9 598.4,1172.1 600,1190.5C601.6,1208.9 603.3,1229.4 605,1251.9C606.7,1274.4 608.2,1301 610,1325.5C611.8,1350 613.8,1374.7 616,1399.2C618.2,1423.8 621.1,1452.8 623.4,1472.8C625.7,1492.8 627.8,1504.3 630,1519C632.2,1533.7 634.3,1548.2 636.7,1561C639.1,1573.8 641,1583.9 644.4,1595.8C647.8,1607.7 653.1,1625.6 657,1632.5C660.9,1639.4 662.3,1635.7 667.6,1637.3C672.9,1638.9 680.8,1642.3 688.8,1642.2C696.8,1642.1 708.1,1637.2 715.8,1636.4C723.5,1635.6 728.7,1637.6 735.1,1637.3C741.5,1637 746.4,1635 754.4,1634.4C762.4,1633.8 776,1634.7 783.4,1633.9C790.8,1633.1 794,1632.1 798.8,1629.6C803.6,1627.1 808.2,1623.3 812.4,1619C816.6,1614.7 820.1,1610 824,1603.6C827.9,1597.2 832,1587.2 835.5,1580.4C839,1573.6 842.1,1566.7 845.2,1563C848.3,1559.3 851,1558.2 853.9,1558.2C856.8,1558.2 859.1,1559 862.5,1563C865.9,1567 869.6,1573.9 874.1,1582.3C878.6,1590.7 884.8,1603.9 889.6,1613.2C894.4,1622.5 898.6,1631.5 903.1,1638.3C907.6,1645 912.4,1650 916.6,1653.7C920.8,1657.4 921.5,1659 928.2,1660.5C935,1662 949.1,1661.3 957.1,1662.4C965.1,1663.5 969.4,1665.6 976.4,1667.3C983.4,1669 995.2,1671.6 999,1672.5" stroke="#0a74e4" stroke-width="4.2" fill="none" stroke-linejoin="round" stroke-linecap="round"/>
<rect x="148.3" y="1024.5" width="851.1" height="684.1" fill="none" stroke="#1a1a1a" stroke-width="2.8"/>
<text x="147.6" y="1759" font-size="44.5" text-anchor="middle">1000</text>
<text x="271.1" y="1759" font-size="44.5" text-anchor="middle">1100</text>
<text x="394.5" y="1759" font-size="44.5" text-anchor="middle">1200</text>
<text x="518" y="1759" font-size="44.5" text-anchor="middle">1300</text>
<text x="641.5" y="1759" font-size="44.5" text-anchor="middle">1400</text>
<text x="764.9" y="1759" font-size="44.5" text-anchor="middle">1500</text>
<text x="888.4" y="1759" font-size="44.5" text-anchor="middle">1600</text>
<text x="573" y="1826.7" font-size="58" text-anchor="middle">Wavelength(nm)</text>
<text transform="translate(113.2,1364.4) rotate(-90)" x="0" y="0" font-size="58" text-anchor="middle">Intensity(a.u.)</text>
<text x="591.3" y="1085.7" font-size="44" text-anchor="middle">1351 nm</text>
<text x="866.9" y="1526.7" font-size="44" text-anchor="middle">1572 nm</text>
</g>
<g id="pd" font-family="'Liberation Sans', Arial, sans-serif">
<path d="M1316.3,1708.6V1702.6M1387.2,1708.6V1696.6M1458,1708.6V1702.6M1528.8,1708.6V1696.6M1599.7,1708.6V1702.6M1670.5,1708.6V1696.6M1741.4,1708.6V1702.6M1812.2,1708.6V1696.6M1883,1708.6V1702.6M1953.9,1708.6V1696.6M2024.7,1708.6V1702.6M1245.3,1651.5H1251.3M1245.3,1594.5H1257.3M1245.3,1537.5H1251.3M1245.3,1480.5H1257.3M1245.3,1423.5H1251.3M1245.3,1366.5H1257.3M1245.3,1309.5H1251.3M1245.3,1252.5H1257.3M1245.3,1195.5H1251.3M1245.3,1138.5H1257.3M1245.3,1081.5H1251.3" stroke="#111" stroke-width="2.6" fill="none"/>
<clipPath id="dclip"><rect x="1245.3" y="1024.5" width="850.2" height="684.1"/></clipPath>
<g clip-path="url(#dclip)" fill="none" stroke-linejoin="round" stroke-linecap="round">
<path d="M1245.5,1668 1254.4,1671.4 1264,1647.3 1276,1575.3 1285.6,1510.5 1297.6,1452.9 1312,1426.5 1319.2,1448 1328.8,1500.9 1340.8,1604.1 1349.2,1671.4 1357.6,1628.1 1367.3,1520.1 1373.6,1345 1387.2,1270.2 1404.3,1234.5 1411,1263.4 1421.3,1372.3 1433.2,1498.3 1441.7,1484.7 1448.5,1372.3 1457,1236.2 1461.6,1171.3 1466.3,1140.4 1470.9,1121.9 1478.6,1108 1491,1095.6 1506.4,1086.3 1524.9,1084 1540.4,1085.6 1555.8,1086.3 1571.3,1088.6 1586.7,1089.4 1602.2,1092.5 1617.6,1097.1 1633,1108 1648.5,1121.9 1663.9,1135.8 1679.4,1148.1 1694.8,1158.9 1710.3,1168.2 1725.7,1174.4 1741.2,1175.1 1762.8,1169.4 1787.4,1155.2 1812.1,1141.9 1829.1,1140 1853.8,1143.8 1867.1,1153.3 1880.3,1177.9 1889.8,1210.2 1897.4,1248.1 1903.1,1291.7 1908.8,1339.1 1916.4,1396 1924,1443.4 1930.4,1487.9 1940.5,1500.9 1950,1496.6 1958.7,1483.5 1968.8,1484.3 1976.1,1492.2 1987.7,1518.4 1996.4,1541.6 2003.6,1563.3 2013.8,1574.9 2019.6,1592.3 2025.4,1614.1 2032.7,1625.7 2041.4,1609.8 2048.6,1614.1 2054.4,1628.6 2060.2,1640.2 2068.9,1625.7 2077.6,1598.2 2087.8,1593.8 2095.5,1596.7" stroke="#5c5c5c" stroke-width="4.2"/>
<path d="M1245.5,1498.5 1256.8,1529.7 1271.2,1563.3 1276,1570.5 1284.4,1560.9 1297.6,1515.3 1309.6,1452.9 1321.6,1415.7 1330,1420.5 1340.8,1460 1352.8,1532 1360,1589.7 1367.5,1608 1377,1569.8 1386.5,1508 1396,1440 1405.7,1349.6 1412.8,1310 1421.3,1355.3 1431.5,1457.4 1441.7,1566.4 1450.2,1590.2 1460.4,1508.5 1472.3,1372.3 1482.6,1287.2 1496.2,1226 1504.9,1199.1 1514.1,1179 1526.5,1158.9 1540.4,1145 1555.8,1138.1 1571.3,1135 1594.4,1133.4 1603.7,1137.3 1617.6,1145 1640.8,1155.8 1663.9,1166.6 1679.4,1174.4 1694.8,1185.2 1710.3,1196 1725.7,1206.8 1740,1221.5 1755.2,1236.7 1770.3,1251.9 1781.7,1269 1791.2,1270.9 1812.1,1301.2 1831,1329.6 1848.1,1358.1 1857.6,1386.5 1869,1420.7 1876.5,1447.2 1883.2,1483.5 1891.9,1538.7 1905,1560.4 1912.2,1557.5 1929.6,1538.7 1941.3,1530 1950,1527.1 1958.7,1538.7 1967.4,1550.3 1976.1,1554.6 1986.2,1561.9 1996.4,1560.4 2005.1,1560.4 2010.9,1543 2013.8,1525.6 2024,1524.2 2032.7,1516.9 2041.4,1503.8 2050.1,1512.5 2060.2,1528.5 2068.9,1514 2077.6,1509.6 2086.4,1496.6 2095.5,1496.6" stroke="#ff3c3c" stroke-width="3.8"/>
<path d="M1245.5,1679.8 1255.6,1673.8 1264,1635.3 1273.6,1570.5 1284.4,1498.5 1292.8,1462.5 1302.4,1433.7 1312,1443.3 1321.6,1484.1 1330,1568.1 1339.6,1661.7 1349.2,1664.1 1357.6,1592.1 1366,1496.1 1373.6,1338.3 1385.5,1260 1395,1228.7 1404.3,1236.2 1414.5,1304.3 1423,1457.4 1432.5,1542.6 1441.7,1440.4 1450.2,1270.2 1456.2,1163.6 1460.1,1132.7 1464.7,1114.1 1469.3,1098.7 1477.1,1092.5 1486.3,1078.6 1498.7,1073.2 1511,1070.9 1524.9,1069 1535.8,1072.4 1551.2,1080.2 1563.6,1084.8 1579,1087.9 1594.4,1092.5 1609.9,1100.2 1625.3,1109.5 1640.8,1124.9 1656.2,1138.8 1671.7,1151.2 1687.1,1162 1702.5,1169.7 1718,1175.9 1733.4,1179.8 1749.5,1178.9 1766.6,1174.1 1787.4,1164.7 1806.4,1154.2 1825.3,1144.7 1838.6,1141 1855.7,1142.8 1869,1151.4 1884.1,1174.1 1895.5,1206.4 1903.1,1253.8 1906.9,1291.7 1910.7,1329.6 1916.4,1377 1922,1415 1929.6,1462.4 1933.4,1473.8 1941,1478 1950,1471.2 1959.4,1463.2 1968.8,1473.4 1979,1492.2 1987.7,1512.5 1996.4,1535.8 2003.6,1579.3 2012.3,1588 2021.1,1619.9 2031.2,1635.9 2041.4,1656.2 2051.5,1630.1 2060.2,1635.9 2068.9,1618.5 2077.6,1605.4 2086.4,1604 2095.5,1598.2" stroke="#0a74e4" stroke-width="4.4"/>
<path d="M1245.5,1582.5 1254.4,1616.1 1264,1666.6 1273.6,1677.4 1284.4,1666.6 1292.8,1620.9 1302.4,1551.3 1312,1503.3 1321.6,1457.7 1330,1463.7 1340.8,1508.1 1350.4,1580.1 1357.6,1668.9 1363.6,1712 1373.3,1712 1381.7,1628.1 1391.3,1496.1 1400.9,1388 1408,1328 1413,1288 1423.7,1335.2 1433,1440.4 1441.7,1593.6 1451.2,1620.9 1460.4,1508.5 1469,1338.3 1477.4,1219.1 1486.3,1179 1494.1,1152.7 1504.9,1128 1517.2,1108 1532.7,1095.6 1548.1,1088.6 1563.6,1086.3 1579,1085.6 1594.4,1087.1 1609.9,1093.3 1625.3,1101.8 1640.8,1115.7 1656.2,1128 1671.7,1138.8 1687.1,1152.7 1702.5,1168.2 1718,1183.6 1740,1208.3 1759,1232.9 1777.9,1261.4 1796.9,1291.7 1815.9,1324 1834.8,1358.1 1853.8,1396 1869,1434 1880.3,1466.2 1886.1,1490.8 1897.7,1538.7 1905,1564.8 1909.3,1599.6 1912.2,1625.7 1920.9,1631.5 1929.6,1622.8 1939.8,1605.4 1950,1604 1958.7,1617 1968.8,1631.5 1977.5,1650.4 1986.2,1666.3 1994.9,1678 2005.1,1669.3 2013.8,1657.6 2024,1650.4 2032.7,1637.3 2041.4,1627.2 2050.1,1602.5 2058.8,1619.9 2068.9,1611.2 2077.6,1631.5 2087.8,1602.5 2095.5,1617" stroke="#00bc78" stroke-width="3.8"/>
</g>
<rect x="1245.3" y="1024.5" width="850.2" height="684.1" fill="none" stroke="#1a1a1a" stroke-width="2.6"/>
<path d="M1924,1056.2H2017.5" stroke="#5c5c5c" stroke-width="4.6"/>
<text x="2027.5" y="1073.1" font-size="46.5">S1</text>
<path d="M1924,1112H2017.5" stroke="#ff3c3c" stroke-width="4.6"/>
<text x="2027.5" y="1128.9" font-size="46.5">S2</text>
<path d="M1924,1166.6H2017.5" stroke="#0a74e4" stroke-width="4.6"/>
<text x="2027.5" y="1183.5" font-size="46.5">S3</text>
<path d="M1924,1222.5H2017.5" stroke="#00bc78" stroke-width="4.6"/>
<text x="2027.5" y="1239.4" font-size="46.5">S4</text>
<text x="1228.5" y="1721.5" font-size="44" text-anchor="end">40</text>
<text x="1228.5" y="1607.5" font-size="44" text-anchor="end">50</text>
<text x="1228.5" y="1493.5" font-size="44" text-anchor="end">60</text>
<text x="1228.5" y="1379.5" font-size="44" text-anchor="end">70</text>
<text x="1228.5" y="1265.5" font-size="44" text-anchor="end">80</text>
<text x="1228.5" y="1151.5" font-size="44" text-anchor="end">90</text>
<text x="1228.5" y="1037.5" font-size="44" text-anchor="end">100</text>
<text x="1245.5" y="1758.8" font-size="44.5" text-anchor="middle">1400</text>
<text x="1387.2" y="1758.8" font-size="44.5" text-anchor="middle">1450</text>
<text x="1528.8" y="1758.8" font-size="44.5" text-anchor="middle">1500</text>
<text x="1670.5" y="1758.8" font-size="44.5" text-anchor="middle">1550</text>
<text x="1812.2" y="1758.8" font-size="44.5" text-anchor="middle">1600</text>
<text x="1953.9" y="1758.8" font-size="44.5" text-anchor="middle">1650</text>
<text x="2095.6" y="1758.8" font-size="44.5" text-anchor="middle">1700</text>
<text x="1670.5" y="1826.7" font-size="58" text-anchor="middle">Wavelength(nm)</text>
<text transform="translate(1151.3,1364.3) rotate(-90)" x="0" y="0" font-size="58" text-anchor="middle">Reflectivity(%)</text>
</g>
<text x="39.9" y="76.6" font-size="76" font-family="'Liberation Sans', Arial, sans-serif">(a)</text>
<text x="1101.8" y="76.6" font-size="76" font-family="'Liberation Sans', Arial, sans-serif">(b)</text>
<text x="39.9" y="970.1" font-size="76" font-family="'Liberation Sans', Arial, sans-serif">(c)</text>
<text x="1101.8" y="970.1" font-size="76" font-family="'Liberation Sans', Arial, sans-serif">(d)</text>
</svg>
</body></html>
